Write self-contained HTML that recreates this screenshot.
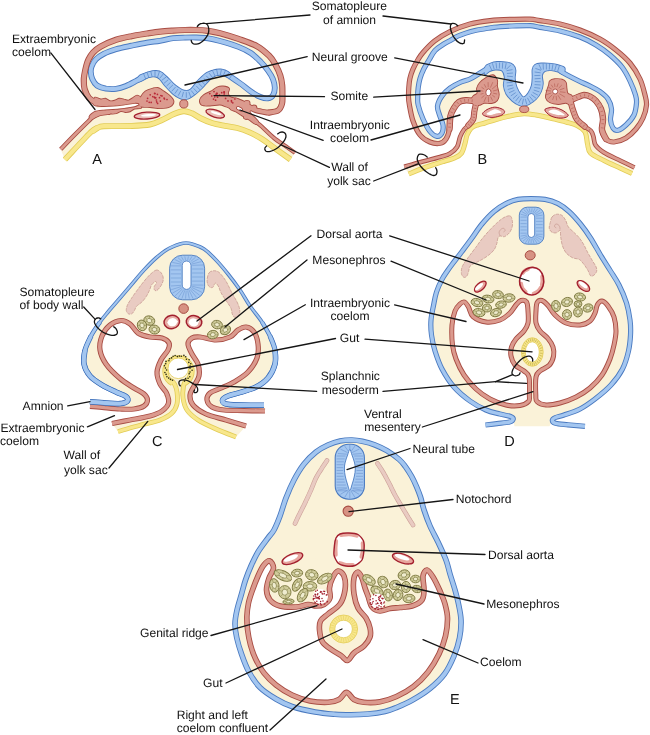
<!DOCTYPE html>
<html><head><meta charset="utf-8"><title>Figure</title>
<style>
html,body{margin:0;padding:0;background:#fff;}
svg{display:block;will-change:transform;}
text{font-family:"Liberation Sans",sans-serif;fill:#111;text-rendering:geometricPrecision;}
</style></head><body>
<svg width="650" height="735" viewBox="0 0 650 735">
<rect width="650" height="735" fill="#fff"/>
<!-- panelA -->
<path d="M97 103.2L89 98L84.6 89L83.8 80L84.3 75L86.2 66L88.5 59.5L93 52.6L100.8 46.5L116 39.8L131.5 36.2L147 33.5L160 31.7L173 30.6L185 30L196 30L208 30.8L220 33.2L238.5 38.9L257 46.2L269.2 55.8L275.4 64.5L280.3 75.5L282.2 85.4L282.4 95L282 103.8L278 110.5L268 112.7L268 112.7L255.8 110.2L249.6 107L243.5 103.5L236 100.4L232 108L243.5 115.5L255.8 122L262 126.8L262 126.8L274 138L286.5 146.8L295 152.9L290.5 159.5L274.2 147.8L262 139L249.6 132.4L237.3 128L225 125.8L212 123L200 118L192 113.3L183.8 111.2L174 114L162 120L150 124.5L130 126L104 126.2L97.5 128L92 131.8L91.6 131.4L81.5 141.9L64.9 159.6L60.7 149.3L75 134.5L88.2 121.5L96 115Z" fill="#FAF2D8" stroke="none" stroke-width="1" stroke-linejoin="round" />
<path d="M64.9 159.6C67.7 156.7 77 146.6 81.5 141.9C86 137.2 88.9 133.8 91.6 131.4C94.3 129 96.5 128.2 97.5 127.6" fill="none" stroke="#E2CC55" stroke-width="5.6" stroke-linecap="butt" stroke-linejoin="round"/>
<path d="M92 131.8C92.9 131.2 95.5 128.9 97.5 128C99.5 127.1 98.6 126.5 104 126.2C109.4 125.9 122.3 126.3 130 126C137.7 125.7 144.7 125.5 150 124.5C155.3 123.5 158 121.8 162 120C166 118.2 170.4 115.5 174 114C177.6 112.5 180.8 111.3 183.8 111.2C186.8 111.1 189.3 112.2 192 113.3C194.7 114.4 196.7 116.4 200 118C203.3 119.6 207.8 121.7 212 123C216.2 124.3 220.8 125 225 125.8C229.2 126.6 233.2 126.9 237.3 128C241.4 129.1 245.5 130.6 249.6 132.4C253.7 134.2 257.9 136.4 262 139C266.1 141.6 269.4 144.4 274.2 147.8C278.9 151.2 287.8 157.6 290.5 159.5" fill="none" stroke="#E2CC55" stroke-width="5.9" stroke-linecap="butt" stroke-linejoin="round"/>
<path d="M64.9 159.6C67.7 156.7 77 146.6 81.5 141.9C86 137.2 88.9 133.8 91.6 131.4C94.3 129 96.5 128.2 97.5 127.6" fill="none" stroke="#F8E78C" stroke-width="4" stroke-linecap="butt" stroke-linejoin="round"/>
<path d="M92 131.8C92.9 131.2 95.5 128.9 97.5 128C99.5 127.1 98.6 126.5 104 126.2C109.4 125.9 122.3 126.3 130 126C137.7 125.7 144.7 125.5 150 124.5C155.3 123.5 158 121.8 162 120C166 118.2 170.4 115.5 174 114C177.6 112.5 180.8 111.3 183.8 111.2C186.8 111.1 189.3 112.2 192 113.3C194.7 114.4 196.7 116.4 200 118C203.3 119.6 207.8 121.7 212 123C216.2 124.3 220.8 125 225 125.8C229.2 126.6 233.2 126.9 237.3 128C241.4 129.1 245.5 130.6 249.6 132.4C253.7 134.2 257.9 136.4 262 139C266.1 141.6 269.4 144.4 274.2 147.8C278.9 151.2 287.8 157.6 290.5 159.5" fill="none" stroke="#F8E78C" stroke-width="4.3" stroke-linecap="butt" stroke-linejoin="round"/>
<path d="M90.8 72C90.7 69.8 90.9 68.1 91.8 66C92.7 63.9 94 61.2 96 59.2C98 57.2 100.5 55.5 103.8 53.8C107.1 52.1 111.4 50.6 116 49.2C120.6 47.9 126.3 46.8 131.5 45.7C136.7 44.6 142.2 43.4 147 42.6C151.8 41.8 155.7 41.5 160 40.8C164.3 40.1 168.8 38.7 173 38.2C177.2 37.7 181.2 37.7 185 37.6C188.8 37.5 192.2 37.4 196 37.5C199.8 37.6 204 37.7 208 38.3C212 38.9 214.9 39.6 220 41C225.1 42.4 233.4 44.9 238.5 46.9C243.6 48.9 247.1 50.5 250.8 53C254.5 55.5 257.7 58.8 260.6 61.7C263.5 64.6 265.9 67.7 268 70.6C270.1 73.5 271.9 76.3 273 79.2C274.1 82.1 274.8 85.1 274.8 87.8C274.8 90.5 274.1 93.5 273 95.2C271.9 97 270.1 98 268 98.3C265.9 98.6 263.5 98.1 260.6 97C257.7 95.9 254.1 93.7 250.8 91.5C247.5 89.3 244.1 86.2 241 84C237.9 81.8 235 79.8 232.3 78C229.6 76.2 227.6 74.5 225 73.5C222.4 72.5 219.8 71.8 217 72C214.2 72.2 210.8 72.9 208 74.5C205.2 76.1 202.7 78.8 200 81.5C197.3 84.2 194.7 88.8 192 91C189.3 93.2 186.7 95.1 184 95C181.3 94.9 178.7 92.8 176 90.5C173.3 88.2 170.7 83.6 168 81C165.3 78.4 162.7 76.2 160 75C157.3 73.8 154.7 73.8 152 74C149.3 74.2 146.7 75.3 144 76.5C141.3 77.7 139 79.4 136 81C133 82.6 129.3 84.7 126 86C122.7 87.3 119.3 88.4 116 88.8C112.7 89.2 109.2 89.1 106 88.6C102.8 88 99.3 87.1 97 85.5C94.7 83.9 93.3 81.2 92.3 79C91.3 76.8 90.9 74.2 90.8 72Z" fill="#fff" stroke="none" stroke-width="1" stroke-linejoin="round" />
<path d="M90.8 72C90.7 69.8 90.9 68.1 91.8 66C92.7 63.9 94 61.2 96 59.2C98 57.2 100.5 55.5 103.8 53.8C107.1 52.1 111.4 50.6 116 49.2C120.6 47.9 126.3 46.8 131.5 45.7C136.7 44.6 142.2 43.4 147 42.6C151.8 41.8 155.7 41.5 160 40.8C164.3 40.1 168.8 38.7 173 38.2C177.2 37.7 181.2 37.7 185 37.6C188.8 37.5 192.2 37.4 196 37.5C199.8 37.6 204 37.7 208 38.3C212 38.9 214.9 39.6 220 41C225.1 42.4 233.4 44.9 238.5 46.9C243.6 48.9 247.1 50.5 250.8 53C254.5 55.5 257.7 58.8 260.6 61.7C263.5 64.6 265.9 67.7 268 70.6C270.1 73.5 271.9 76.3 273 79.2C274.1 82.1 274.8 85.1 274.8 87.8C274.8 90.5 274.1 93.5 273 95.2C271.9 97 270.1 98 268 98.3C265.9 98.6 263.5 98.1 260.6 97C257.7 95.9 254.1 93.7 250.8 91.5C247.5 89.3 244.1 86.2 241 84C237.9 81.8 235 79.8 232.3 78C229.6 76.2 227.6 74.5 225 73.5C222.4 72.5 219.8 71.8 217 72C214.2 72.2 210.8 72.9 208 74.5C205.2 76.1 202.7 78.8 200 81.5C197.3 84.2 194.7 88.8 192 91C189.3 93.2 186.7 95.1 184 95C181.3 94.9 178.7 92.8 176 90.5C173.3 88.2 170.7 83.6 168 81C165.3 78.4 162.7 76.2 160 75C157.3 73.8 154.7 73.8 152 74C149.3 74.2 146.7 75.3 144 76.5C141.3 77.7 139 79.4 136 81C133 82.6 129.3 84.7 126 86C122.7 87.3 119.3 88.4 116 88.8C112.7 89.2 109.2 89.1 106 88.6C102.8 88 99.3 87.1 97 85.5C94.7 83.9 93.3 81.2 92.3 79C91.3 76.8 90.9 74.2 90.8 72Z" fill="none" stroke="#4A7AC0" stroke-width="5.8" stroke-linecap="butt" stroke-linejoin="round"/>
<path d="M139.2 76.2C140.8 74.7 145.7 73.2 148.5 72.3C151.3 71.4 153.7 70.9 156 71C158.3 71.1 160.2 71.6 162.3 73C164.4 74.4 166.2 77 168.5 79.2C170.8 81.4 173.7 84.2 176 86C178.3 87.8 180.5 89.2 182.3 90C184.1 90.8 185.5 90.9 187 90.8C188.5 90.7 189.5 90.5 191.5 89.2C193.5 87.9 196.4 85.3 199 83C201.6 80.7 204.7 77.4 207 75.4C209.3 73.4 210.7 71.8 213 70.8C215.3 69.8 218.2 69.2 220.8 69.5C223.4 69.8 226.3 70.7 228.5 72.3C230.7 73.9 234 78.2 234 79C234 79.8 230.4 77.7 228.5 77C226.6 76.3 224.4 75.3 222.3 75C220.2 74.7 218.1 74.7 216 75.4C213.9 76.1 212.3 77.2 210 79.2C207.7 81.2 204.9 85.1 202.3 87.7C199.7 90.3 196.9 92.8 194.6 94.6C192.3 96.4 190.3 97.7 188.5 98.5C186.7 99.3 185.4 99.3 183.8 99.2C182.2 99.1 180.8 98.6 179 97.7C177.2 96.8 175.3 95.8 173 93.8C170.7 91.8 167.6 88.4 165.4 86C163.2 83.6 161.7 80.8 160 79.2C158.3 77.6 157.3 76.9 155.4 76.6C153.5 76.3 151.2 76.4 148.5 77.2C145.8 78 140.6 81.7 139 81.5C137.4 81.3 137.6 77.7 139.2 76.2Z" fill="#4A7AC0" stroke="#4A7AC0" stroke-width="1.8" stroke-linejoin="round"/>
<path d="M90.8 72C90.7 69.8 90.9 68.1 91.8 66C92.7 63.9 94 61.2 96 59.2C98 57.2 100.5 55.5 103.8 53.8C107.1 52.1 111.4 50.6 116 49.2C120.6 47.9 126.3 46.8 131.5 45.7C136.7 44.6 142.2 43.4 147 42.6C151.8 41.8 155.7 41.5 160 40.8C164.3 40.1 168.8 38.7 173 38.2C177.2 37.7 181.2 37.7 185 37.6C188.8 37.5 192.2 37.4 196 37.5C199.8 37.6 204 37.7 208 38.3C212 38.9 214.9 39.6 220 41C225.1 42.4 233.4 44.9 238.5 46.9C243.6 48.9 247.1 50.5 250.8 53C254.5 55.5 257.7 58.8 260.6 61.7C263.5 64.6 265.9 67.7 268 70.6C270.1 73.5 271.9 76.3 273 79.2C274.1 82.1 274.8 85.1 274.8 87.8C274.8 90.5 274.1 93.5 273 95.2C271.9 97 270.1 98 268 98.3C265.9 98.6 263.5 98.1 260.6 97C257.7 95.9 254.1 93.7 250.8 91.5C247.5 89.3 244.1 86.2 241 84C237.9 81.8 235 79.8 232.3 78C229.6 76.2 227.6 74.5 225 73.5C222.4 72.5 219.8 71.8 217 72C214.2 72.2 210.8 72.9 208 74.5C205.2 76.1 202.7 78.8 200 81.5C197.3 84.2 194.7 88.8 192 91C189.3 93.2 186.7 95.1 184 95C181.3 94.9 178.7 92.8 176 90.5C173.3 88.2 170.7 83.6 168 81C165.3 78.4 162.7 76.2 160 75C157.3 73.8 154.7 73.8 152 74C149.3 74.2 146.7 75.3 144 76.5C141.3 77.7 139 79.4 136 81C133 82.6 129.3 84.7 126 86C122.7 87.3 119.3 88.4 116 88.8C112.7 89.2 109.2 89.1 106 88.6C102.8 88 99.3 87.1 97 85.5C94.7 83.9 93.3 81.2 92.3 79C91.3 76.8 90.9 74.2 90.8 72Z" fill="none" stroke="#A3C6F0" stroke-width="4" stroke-linecap="butt" stroke-linejoin="round"/>
<path d="M139.2 76.2C140.8 74.7 145.7 73.2 148.5 72.3C151.3 71.4 153.7 70.9 156 71C158.3 71.1 160.2 71.6 162.3 73C164.4 74.4 166.2 77 168.5 79.2C170.8 81.4 173.7 84.2 176 86C178.3 87.8 180.5 89.2 182.3 90C184.1 90.8 185.5 90.9 187 90.8C188.5 90.7 189.5 90.5 191.5 89.2C193.5 87.9 196.4 85.3 199 83C201.6 80.7 204.7 77.4 207 75.4C209.3 73.4 210.7 71.8 213 70.8C215.3 69.8 218.2 69.2 220.8 69.5C223.4 69.8 226.3 70.7 228.5 72.3C230.7 73.9 234 78.2 234 79C234 79.8 230.4 77.7 228.5 77C226.6 76.3 224.4 75.3 222.3 75C220.2 74.7 218.1 74.7 216 75.4C213.9 76.1 212.3 77.2 210 79.2C207.7 81.2 204.9 85.1 202.3 87.7C199.7 90.3 196.9 92.8 194.6 94.6C192.3 96.4 190.3 97.7 188.5 98.5C186.7 99.3 185.4 99.3 183.8 99.2C182.2 99.1 180.8 98.6 179 97.7C177.2 96.8 175.3 95.8 173 93.8C170.7 91.8 167.6 88.4 165.4 86C163.2 83.6 161.7 80.8 160 79.2C158.3 77.6 157.3 76.9 155.4 76.6C153.5 76.3 151.2 76.4 148.5 77.2C145.8 78 140.6 81.7 139 81.5C137.4 81.3 137.6 77.7 139.2 76.2Z" fill="#A3C6F0" stroke="none"/>
<path d="M143.6 73.8L145.7 79M147.1 72.5L148.9 77.8M150.8 71.4L152.1 76.9M155 70.9L155 76.5M159.4 71.7L157.6 77M163.4 73.9L159.8 78.2M166.2 77L161.7 80.4M168.3 79.7L164 83.3M170.6 82.3L166.5 86.1M173 84.8L169 88.7M175.5 87.1L171.7 91.3M178 89.1L174.8 93.7M180.8 90.8L178.2 95.7M183.5 91.9L182 97.3M186.3 92.2L186.3 97.8M188.8 91.9L190.8 97.2M191.2 90.5L194.6 94.9M193.6 88.3L197.4 92.4M196.2 85.9L200.1 89.9M198.6 83.4L202.6 87.3M201.2 80.9L205.1 84.8M203.7 78.4L207.7 82.3M206.2 75.8L210.1 79.8M209.2 73.2L212.6 77.7M212.7 71.1L215.1 76.1M216.7 69.7L217.8 75.2M221.4 69.8L220.2 75.3M225.2 71.1L223.1 76.3M228.8 72.7L226.1 77.7M232 74.7L229 79.4" stroke="#4A7AC0" stroke-width="0.6" fill="none"/>
<path d="M92 108.6L104 107.2L119 106.4L134.6 104L138 103.6L138 105L134.6 106.4L119 108.6L104 109.6L93 111Z" fill="#fff" stroke="none" stroke-width="1" stroke-linejoin="round" />
<path d="M97 103.2C95.7 102.3 91.1 100.4 89 98C86.9 95.6 85.5 92 84.6 89C83.7 86 83.8 82.3 83.8 80C83.8 77.7 83.9 77.3 84.3 75C84.7 72.7 85.5 68.6 86.2 66C86.9 63.4 87.4 61.7 88.5 59.5C89.6 57.3 91 54.8 93 52.6C95 50.4 97 48.6 100.8 46.5C104.6 44.4 110.9 41.5 116 39.8C121.1 38.1 126.3 37.2 131.5 36.2C136.7 35.2 142.2 34.2 147 33.5C151.8 32.8 155.7 32.2 160 31.7C164.3 31.2 168.8 30.9 173 30.6C177.2 30.3 181.2 30.1 185 30C188.8 29.9 192.2 29.9 196 30C199.8 30.1 204 30.3 208 30.8C212 31.3 214.9 31.9 220 33.2C225.1 34.6 232.3 36.7 238.5 38.9C244.7 41.1 251.9 43.4 257 46.2C262.1 49 266.1 52.8 269.2 55.8C272.3 58.8 273.5 61.2 275.4 64.5C277.2 67.8 279.2 72 280.3 75.5C281.4 79 281.9 82.2 282.2 85.4C282.5 88.7 282.4 91.9 282.4 95C282.4 98.1 282.7 101.2 282 103.8C281.3 106.4 280.3 109 278 110.5C275.7 112 269.7 112.3 268 112.7" fill="none" stroke="#A84C43" stroke-width="6.2" stroke-linecap="butt" stroke-linejoin="round"/>
<path d="M95 97.6C96 97 99.4 99.3 100.8 99.4C102.2 99.5 104.2 98.5 105.4 98.7C106.6 98.9 108.8 100.9 110 101.2C111.2 101.5 113.4 101 114.6 100.7C115.8 100.4 118 98.9 119.2 98.7C120.4 98.5 122.6 99.2 123.8 99.5C125 99.8 127.3 100.8 128.5 100.6C129.7 100.4 131.9 98.7 133 98C134.1 97.3 135.9 95.6 137 95.6C138.1 95.6 140.7 97 141 98C141.3 99 139.9 102.3 139 103C138.1 103.7 137.2 102.6 134.6 102.9C132 103.2 123.3 104.8 119.2 105.2C115.1 105.6 106.9 105.9 103.8 106C100.7 106.1 97.4 105.9 96 105.6C94.6 105.3 93.6 105.1 93.5 104C93.4 102.9 94 98.2 95 97.6Z" fill="#A84C43" stroke="#A84C43" stroke-width="1.8" stroke-linejoin="round"/>
<path d="M94.5 112C96.4 111.2 100.5 110.9 103.8 110.6C107.1 110.3 115.1 110 119.2 109.5C123.3 109 131.9 107.8 134.6 107.2C137.3 106.6 138.6 105.1 139.5 105.2C140.4 105.3 141.7 107.5 141 108C140.3 108.5 136.1 108.2 134.6 108.6C133.1 109 131.2 110.8 130 111.3C128.8 111.8 126.6 112 125.4 112C124.2 112 122 110.8 120.8 111C119.6 111.2 117.4 112.9 116.2 113.2C115 113.5 112.7 113.7 111.5 113.6C110.3 113.5 108.2 112.6 107 112.5C105.8 112.4 103.3 112.8 102.3 113.2C101.3 113.6 100 114.7 99.2 115.2C98.4 115.7 97 116.5 96 117C95 117.5 92.4 119.1 91.5 119C90.6 118.9 89.1 117.4 89.5 116.5C89.9 115.6 92.6 112.8 94.5 112Z" fill="#A84C43" stroke="#A84C43" stroke-width="1.8" stroke-linejoin="round"/>
<path d="M60.7 149.3C63.1 146.8 70.4 139.1 75 134.5C79.6 129.9 84.7 124.8 88.2 121.5C91.7 118.2 92.4 116.5 96 115C99.6 113.5 107.7 112.9 110 112.5" fill="none" stroke="#A84C43" stroke-width="4.4" stroke-linecap="butt" stroke-linejoin="round"/>
<path d="M268 112.7C266 112.3 258.9 111.2 255.8 110.2C252.7 109.2 251.7 108.1 249.6 107C247.5 105.9 245.8 104.6 243.5 103.5C241.2 102.4 237.2 100.9 236 100.4" fill="none" stroke="#A84C43" stroke-width="5.8" stroke-linecap="round" stroke-linejoin="round"/>
<path d="M231 99C232.3 98 237.9 100.3 240 101C242.1 101.7 245.4 103.5 247 104.5C248.6 105.5 251.7 107.5 252 108.5C252.3 109.5 249.2 110.9 249.5 112C249.8 113.1 252.9 115.7 254 117C255.1 118.3 257.8 120.6 258 121.5C258.2 122.4 256.7 124.3 255.5 124C254.3 123.7 250.7 120.6 249 119.5C247.3 118.4 244.7 117.1 243 116C241.3 114.9 237.7 112.5 236 111.5C234.3 110.5 230.7 110.2 230 108.5C229.3 106.8 229.7 100 231 99Z" fill="#A84C43" stroke="#A84C43" stroke-width="1.8" stroke-linejoin="round"/>
<path d="M255.8 122C256.8 122.8 259 124.1 262 126.8C265 129.5 269.9 134.7 274 138C278.1 141.3 283 144.3 286.5 146.8C290 149.3 293.6 151.9 295 152.9" fill="none" stroke="#A84C43" stroke-width="4.2" stroke-linecap="butt" stroke-linejoin="round"/>
<path d="M244.4 103.2a2.6 2.4 0 1 0 5.2 0a2.6 2.4 0 1 0 -5.2 0Z" fill="#A84C43" stroke="#A84C43" stroke-width="1.8" stroke-linejoin="round"/>
<path d="M251.6 107.6a2.4 2.2 0 1 0 4.8 0a2.4 2.2 0 1 0 -4.8 0Z" fill="#A84C43" stroke="#A84C43" stroke-width="1.8" stroke-linejoin="round"/>
<path d="M243.8 117a2.2 2 0 1 0 4.4 0a2.2 2 0 1 0 -4.4 0Z" fill="#A84C43" stroke="#A84C43" stroke-width="1.8" stroke-linejoin="round"/>
<path d="M153 88.5C150.9 89.1 147.4 90.1 145.4 91.5C143.4 92.9 142.1 95.2 141 97C139.9 98.8 139 100.4 139 102C139 103.6 139.2 105.7 141 106.5C142.8 107.3 146.7 106.7 150 107C153.3 107.3 157.5 108.3 160.8 108.2C164.1 108.1 167.9 107.6 170 106.5C172.1 105.4 173.5 103.2 173.5 101.5C173.5 99.8 171.8 98 170 96.2C168.2 94.5 165.1 92.4 163 91C160.9 89.6 159.4 88.4 157.7 88C156 87.6 155.1 87.9 153 88.5Z" fill="#A84C43" stroke="#A84C43" stroke-width="1.8" stroke-linejoin="round"/>
<path d="M200 100C200.3 98.3 202 96.5 204 95C206 93.5 209.8 92.2 212 91C214.2 89.8 215.2 88.2 217 87.5C218.8 86.8 221 86.3 223 86.5C225 86.7 228.2 87.4 229 88.5C229.8 89.6 227.8 91.6 228 93C228.2 94.4 228.3 95.9 230 97C231.7 98.1 236.3 98.2 238 99.5C239.7 100.8 240.7 103.4 240 105C239.3 106.6 236.3 108.8 234 109C231.7 109.2 228.3 107.2 226 106.5C223.7 105.8 222.7 104.7 220 104.5C217.3 104.3 213 105.4 210 105.5C207 105.6 203.7 105.9 202 105C200.3 104.1 199.7 101.7 200 100Z" fill="#A84C43" stroke="#A84C43" stroke-width="1.8" stroke-linejoin="round"/>
<path d="M97 103.2C95.7 102.3 91.1 100.4 89 98C86.9 95.6 85.5 92 84.6 89C83.7 86 83.8 82.3 83.8 80C83.8 77.7 83.9 77.3 84.3 75C84.7 72.7 85.5 68.6 86.2 66C86.9 63.4 87.4 61.7 88.5 59.5C89.6 57.3 91 54.8 93 52.6C95 50.4 97 48.6 100.8 46.5C104.6 44.4 110.9 41.5 116 39.8C121.1 38.1 126.3 37.2 131.5 36.2C136.7 35.2 142.2 34.2 147 33.5C151.8 32.8 155.7 32.2 160 31.7C164.3 31.2 168.8 30.9 173 30.6C177.2 30.3 181.2 30.1 185 30C188.8 29.9 192.2 29.9 196 30C199.8 30.1 204 30.3 208 30.8C212 31.3 214.9 31.9 220 33.2C225.1 34.6 232.3 36.7 238.5 38.9C244.7 41.1 251.9 43.4 257 46.2C262.1 49 266.1 52.8 269.2 55.8C272.3 58.8 273.5 61.2 275.4 64.5C277.2 67.8 279.2 72 280.3 75.5C281.4 79 281.9 82.2 282.2 85.4C282.5 88.7 282.4 91.9 282.4 95C282.4 98.1 282.7 101.2 282 103.8C281.3 106.4 280.3 109 278 110.5C275.7 112 269.7 112.3 268 112.7" fill="none" stroke="#DB9A8E" stroke-width="4.4" stroke-linecap="butt" stroke-linejoin="round"/>
<path d="M95 97.6C96 97 99.4 99.3 100.8 99.4C102.2 99.5 104.2 98.5 105.4 98.7C106.6 98.9 108.8 100.9 110 101.2C111.2 101.5 113.4 101 114.6 100.7C115.8 100.4 118 98.9 119.2 98.7C120.4 98.5 122.6 99.2 123.8 99.5C125 99.8 127.3 100.8 128.5 100.6C129.7 100.4 131.9 98.7 133 98C134.1 97.3 135.9 95.6 137 95.6C138.1 95.6 140.7 97 141 98C141.3 99 139.9 102.3 139 103C138.1 103.7 137.2 102.6 134.6 102.9C132 103.2 123.3 104.8 119.2 105.2C115.1 105.6 106.9 105.9 103.8 106C100.7 106.1 97.4 105.9 96 105.6C94.6 105.3 93.6 105.1 93.5 104C93.4 102.9 94 98.2 95 97.6Z" fill="#DB9A8E" stroke="none"/>
<path d="M94.5 112C96.4 111.2 100.5 110.9 103.8 110.6C107.1 110.3 115.1 110 119.2 109.5C123.3 109 131.9 107.8 134.6 107.2C137.3 106.6 138.6 105.1 139.5 105.2C140.4 105.3 141.7 107.5 141 108C140.3 108.5 136.1 108.2 134.6 108.6C133.1 109 131.2 110.8 130 111.3C128.8 111.8 126.6 112 125.4 112C124.2 112 122 110.8 120.8 111C119.6 111.2 117.4 112.9 116.2 113.2C115 113.5 112.7 113.7 111.5 113.6C110.3 113.5 108.2 112.6 107 112.5C105.8 112.4 103.3 112.8 102.3 113.2C101.3 113.6 100 114.7 99.2 115.2C98.4 115.7 97 116.5 96 117C95 117.5 92.4 119.1 91.5 119C90.6 118.9 89.1 117.4 89.5 116.5C89.9 115.6 92.6 112.8 94.5 112Z" fill="#DB9A8E" stroke="none"/>
<path d="M60.7 149.3C63.1 146.8 70.4 139.1 75 134.5C79.6 129.9 84.7 124.8 88.2 121.5C91.7 118.2 92.4 116.5 96 115C99.6 113.5 107.7 112.9 110 112.5" fill="none" stroke="#DB9A8E" stroke-width="2.6" stroke-linecap="butt" stroke-linejoin="round"/>
<path d="M268 112.7C266 112.3 258.9 111.2 255.8 110.2C252.7 109.2 251.7 108.1 249.6 107C247.5 105.9 245.8 104.6 243.5 103.5C241.2 102.4 237.2 100.9 236 100.4" fill="none" stroke="#DB9A8E" stroke-width="4" stroke-linecap="round" stroke-linejoin="round"/>
<path d="M231 99C232.3 98 237.9 100.3 240 101C242.1 101.7 245.4 103.5 247 104.5C248.6 105.5 251.7 107.5 252 108.5C252.3 109.5 249.2 110.9 249.5 112C249.8 113.1 252.9 115.7 254 117C255.1 118.3 257.8 120.6 258 121.5C258.2 122.4 256.7 124.3 255.5 124C254.3 123.7 250.7 120.6 249 119.5C247.3 118.4 244.7 117.1 243 116C241.3 114.9 237.7 112.5 236 111.5C234.3 110.5 230.7 110.2 230 108.5C229.3 106.8 229.7 100 231 99Z" fill="#DB9A8E" stroke="none"/>
<path d="M255.8 122C256.8 122.8 259 124.1 262 126.8C265 129.5 269.9 134.7 274 138C278.1 141.3 283 144.3 286.5 146.8C290 149.3 293.6 151.9 295 152.9" fill="none" stroke="#DB9A8E" stroke-width="2.4" stroke-linecap="butt" stroke-linejoin="round"/>
<path d="M244.4 103.2a2.6 2.4 0 1 0 5.2 0a2.6 2.4 0 1 0 -5.2 0Z" fill="#DB9A8E" stroke="none"/>
<path d="M251.6 107.6a2.4 2.2 0 1 0 4.8 0a2.4 2.2 0 1 0 -4.8 0Z" fill="#DB9A8E" stroke="none"/>
<path d="M243.8 117a2.2 2 0 1 0 4.4 0a2.2 2 0 1 0 -4.4 0Z" fill="#DB9A8E" stroke="none"/>
<path d="M153 88.5C150.9 89.1 147.4 90.1 145.4 91.5C143.4 92.9 142.1 95.2 141 97C139.9 98.8 139 100.4 139 102C139 103.6 139.2 105.7 141 106.5C142.8 107.3 146.7 106.7 150 107C153.3 107.3 157.5 108.3 160.8 108.2C164.1 108.1 167.9 107.6 170 106.5C172.1 105.4 173.5 103.2 173.5 101.5C173.5 99.8 171.8 98 170 96.2C168.2 94.5 165.1 92.4 163 91C160.9 89.6 159.4 88.4 157.7 88C156 87.6 155.1 87.9 153 88.5Z" fill="#DB9A8E" stroke="none"/>
<path d="M200 100C200.3 98.3 202 96.5 204 95C206 93.5 209.8 92.2 212 91C214.2 89.8 215.2 88.2 217 87.5C218.8 86.8 221 86.3 223 86.5C225 86.7 228.2 87.4 229 88.5C229.8 89.6 227.8 91.6 228 93C228.2 94.4 228.3 95.9 230 97C231.7 98.1 236.3 98.2 238 99.5C239.7 100.8 240.7 103.4 240 105C239.3 106.6 236.3 108.8 234 109C231.7 109.2 228.3 107.2 226 106.5C223.7 105.8 222.7 104.7 220 104.5C217.3 104.3 213 105.4 210 105.5C207 105.6 203.7 105.9 202 105C200.3 104.1 199.7 101.7 200 100Z" fill="#DB9A8E" stroke="none"/>
<path d="M238 108C238.5 108.3 240.5 109.3 241 109.6" fill="none" stroke="#A84C43" stroke-width="4" stroke-linecap="round"/>
<path d="M238 108C238.5 108.3 240.5 109.3 241 109.6" fill="none" stroke="#fff" stroke-width="2.2" stroke-linecap="round"/>
<g fill="#B82A38"><circle cx="157.6" cy="103.4" r="0.85"/><circle cx="151.2" cy="102.4" r="0.85"/><circle cx="155" cy="97.9" r="0.85"/><circle cx="167" cy="99.5" r="0.85"/><circle cx="156.7" cy="101.9" r="0.85"/><circle cx="164.5" cy="98.9" r="0.85"/><circle cx="160.9" cy="95.5" r="0.85"/><circle cx="154.3" cy="97.2" r="0.85"/><circle cx="150.2" cy="94.8" r="0.85"/><circle cx="147.6" cy="98.3" r="0.85"/><circle cx="155.7" cy="97.7" r="0.85"/><circle cx="157.4" cy="94.4" r="0.85"/><circle cx="156.4" cy="100" r="0.85"/><circle cx="162" cy="95.9" r="0.85"/><circle cx="155" cy="93.5" r="0.85"/><circle cx="154.6" cy="93.4" r="0.85"/><circle cx="149.2" cy="102.3" r="0.85"/><circle cx="147" cy="101" r="0.85"/><circle cx="159.5" cy="97.7" r="0.85"/><circle cx="160.4" cy="101.1" r="0.85"/><circle cx="164.1" cy="98.1" r="0.85"/><circle cx="152.8" cy="96.6" r="0.85"/><circle cx="211.8" cy="95.9" r="0.85"/><circle cx="213.5" cy="99.1" r="0.85"/><circle cx="209.8" cy="93.6" r="0.85"/><circle cx="214" cy="91.6" r="0.85"/><circle cx="224.2" cy="92.1" r="0.85"/><circle cx="216.1" cy="94.2" r="0.85"/><circle cx="224.3" cy="92.2" r="0.85"/><circle cx="224.2" cy="93.9" r="0.85"/><circle cx="217" cy="93.8" r="0.85"/><circle cx="221.7" cy="92.7" r="0.85"/><circle cx="217.5" cy="97.2" r="0.85"/><circle cx="224" cy="92" r="0.85"/><circle cx="225.6" cy="98.4" r="0.85"/><circle cx="214.7" cy="97" r="0.85"/><circle cx="215.6" cy="100.2" r="0.85"/><circle cx="219.5" cy="95.2" r="0.85"/><circle cx="216.4" cy="95.3" r="0.85"/><circle cx="216.9" cy="93.2" r="0.85"/><circle cx="234.9" cy="99" r="0.85"/><circle cx="228" cy="100.9" r="0.85"/><circle cx="231.6" cy="101.8" r="0.85"/><circle cx="231.4" cy="100.7" r="0.85"/><circle cx="232.8" cy="102.8" r="0.85"/></g>
<circle cx="183.8" cy="103.9" r="4.1" fill="#DB9A8E" stroke="#A84C43" stroke-width="0.9"/>
<ellipse cx="147" cy="115.6" rx="12.8" ry="3.4" fill="#EBBDB6" stroke="#A3202E" stroke-width="1.3" transform="rotate(-4 147 115.6)"/>
<ellipse cx="148.5" cy="115.2" rx="7.5" ry="1.2" fill="#fff" stroke="none" stroke-width="0" transform="rotate(-4 148.5 115.2)"/>
<ellipse cx="215.2" cy="113.6" rx="9.6" ry="3.6" fill="#EBBDB6" stroke="#A3202E" stroke-width="1.3" transform="rotate(17 215.2 113.6)"/>
<ellipse cx="216" cy="113.2" rx="5.5" ry="1.2" fill="#fff" stroke="none" stroke-width="0" transform="rotate(17 216 113.2)"/>
<!-- panelB -->
<path d="M474 101L466 100.3L459 102L454 108L450.5 116L449.5 129L446 139L440 143.3L430 142L420 135L413 121L409.4 105L408.5 97L408.8 87.7L409.9 78.5L412.9 69.2L417.8 60L423 52.5L434.5 41L450 31.5L470 24L490 20.6L510 19.4L530 19.2L540 20.6L560 24L580 30L600 39L616 50L630 63L640 79L645 95L646.5 105L643 118L636 129L626 138L614 142L606 139L602 130L603 119L601 109L596 101L590 96.5L584 95L578 97L571 100L571 103L524 112L476 104Z" fill="#FAF2D8" stroke="none" stroke-width="1" stroke-linejoin="round" />
<path d="M404.2 166.8L420 162.3L440 157L450 153.5L457 147L460 137L463.7 130L468.3 125.4L473.2 119.2L474.4 111L476 104L524 108L571 103L572.8 109.4L576.8 119.2L584.8 126.6L591 131L593.5 137L595.5 145L604 152.5L620 160.5L634.5 167.5L632 173.5L620 168L604 160.5L590.5 153L587.5 144L585 132L577 125.5L566 122L552 118.5L536 115L524 113.7L512 115.5L496 119.5L485 123L478 124.8L471.2 128.2L467 135.2L465 143.5L461.5 153.2L454.5 158L443.5 161.5L422.7 168.4L408.8 174Z" fill="#FAF2D8" stroke="none" stroke-width="1" stroke-linejoin="round" />
<path d="M476 104C475.3 102 472.3 101.3 470 101C467.7 100.7 464.3 100.8 462 102C459.7 103.2 457.3 105.5 456 108C454.7 110.5 454.2 113.3 454 117C453.8 120.7 455.3 126.2 455 130C454.7 133.8 453.8 137.2 452 140C450.2 142.8 447.7 145.8 444 147C440.3 148.2 433.7 145.3 430 147.5C426.3 149.7 420.3 158.4 422 160C423.7 161.6 435.3 158.2 440 157C444.7 155.8 447.3 154.8 450 153C452.7 151.2 454.5 149.2 456 146.5C457.5 143.8 457.8 140.1 459 137C460.2 133.9 461.3 130.7 463 128C464.7 125.3 467.2 123.5 469 121C470.8 118.5 472.8 115.8 474 113C475.2 110.2 476.7 106 476 104Z" fill="#fff" stroke="none" stroke-width="1" stroke-linejoin="round" />
<path d="M571 103C570.8 101.1 573.8 100.5 576 99.5C578.2 98.5 581.3 97.1 584 97C586.7 96.9 589.8 97.5 592 99C594.2 100.5 596 103 597 106C598 109 597.9 113 598 117C598.1 121 597 126.2 597.5 130C598 133.8 599.2 137.3 601 140C602.8 142.7 604.8 145 608 146C611.2 147 616.3 144 620 146C623.7 148 630 156 630 158C630 160 624 159.1 620 158C616 156.9 609.7 153.7 606 151.5C602.3 149.3 599.6 147.8 598 145C596.4 142.2 597.2 138.3 596.5 135C595.8 131.7 595.4 128 593.5 125C591.6 122 587.8 119.3 585 117C582.2 114.7 579.3 113.3 577 111C574.7 108.7 571.2 104.9 571 103Z" fill="#fff" stroke="none" stroke-width="1" stroke-linejoin="round" />
<path d="M408.8 174C411.1 173.1 416.9 170.5 422.7 168.4C428.5 166.3 438.2 163.2 443.5 161.5C448.8 159.8 451.5 159.4 454.5 158C457.5 156.6 459.8 155.6 461.5 153.2C463.2 150.8 464.1 146.5 465 143.5C465.9 140.5 466 137.8 467 135.2C468 132.6 469.4 129.9 471.2 128.2C473 126.5 475.7 125.7 478 124.8C480.3 123.9 482 123.9 485 123C488 122.1 491.5 120.8 496 119.5C500.5 118.2 507.3 116.5 512 115.5C516.7 114.5 520 113.8 524 113.7C528 113.6 531.3 114.2 536 115C540.7 115.8 547 117.3 552 118.5C557 119.7 561.8 120.8 566 122C570.2 123.2 573.8 123.8 577 125.5C580.2 127.2 583.2 128.9 585 132C586.8 135.1 586.6 140.5 587.5 144C588.4 147.5 587.8 150.2 590.5 153C593.2 155.8 599.1 158 604 160.5C608.9 163 615.3 165.8 620 168C624.7 170.2 630 172.6 632 173.5" fill="none" stroke="#E2CC55" stroke-width="5" stroke-linecap="butt" stroke-linejoin="round"/>
<path d="M408.8 174C411.1 173.1 416.9 170.5 422.7 168.4C428.5 166.3 438.2 163.2 443.5 161.5C448.8 159.8 451.5 159.4 454.5 158C457.5 156.6 459.8 155.6 461.5 153.2C463.2 150.8 464.1 146.5 465 143.5C465.9 140.5 466 137.8 467 135.2C468 132.6 469.4 129.9 471.2 128.2C473 126.5 475.7 125.7 478 124.8C480.3 123.9 482 123.9 485 123C488 122.1 491.5 120.8 496 119.5C500.5 118.2 507.3 116.5 512 115.5C516.7 114.5 520 113.8 524 113.7C528 113.6 531.3 114.2 536 115C540.7 115.8 547 117.3 552 118.5C557 119.7 561.8 120.8 566 122C570.2 123.2 573.8 123.8 577 125.5C580.2 127.2 583.2 128.9 585 132C586.8 135.1 586.6 140.5 587.5 144C588.4 147.5 587.8 150.2 590.5 153C593.2 155.8 599.1 158 604 160.5C608.9 163 615.3 165.8 620 168C624.7 170.2 630 172.6 632 173.5" fill="none" stroke="#F8E78C" stroke-width="3.4" stroke-linecap="butt" stroke-linejoin="round"/>
<path d="M488.6 66C491.4 64.5 493.9 64.2 497 64C500.1 63.8 504.5 63.8 507 64.5C509.5 65.2 510.9 65.8 512 68C513.1 70.2 512.8 74.7 513.5 78C514.2 81.3 514.8 85 516 88C517.2 91 519.2 94.2 520.5 96C521.8 97.8 522.8 98.7 524 98.5C525.2 98.3 526.7 97.1 528 95C529.3 92.9 531 89 532 86C533 83 533.7 79.8 534 77C534.3 74.2 533.5 70.8 534 69C534.5 67.2 535.8 66.6 537 66C538.2 65.4 538.7 65.5 541 65.5C543.3 65.5 547.8 65.2 551 66C554.2 66.8 558.5 69.2 560 70C561.5 70.8 558.3 69.9 560 71C561.7 72.1 566.7 74.8 570 76.5C573.3 78.2 576.7 79.9 580 81.5C583.3 83.1 586.7 84.3 590 86C593.3 87.7 597 89.3 600 91.5C603 93.7 606.1 96.1 608 99C609.9 101.9 611.1 105.5 611.5 109C611.9 112.5 610.2 116.8 610.5 120C610.8 123.2 611.8 126.3 613 128C614.2 129.7 615.8 130.8 618 130.3C620.2 129.8 623.3 127.5 626 125C628.7 122.5 632.2 118.7 634 115C635.8 111.3 636.2 106.3 636.5 103C636.8 99.7 636.6 98.7 635.5 95C634.4 91.3 632.2 85.7 630 81C627.8 76.3 625.3 71.3 622 67C618.7 62.7 614.3 58.7 610 55C605.7 51.3 601 48 596 45C591 42 586 39.3 580 37C574 34.7 566.7 32.6 560 31C553.3 29.4 545 28.3 540 27.4C535 26.5 534.7 25.8 530 25.6C525.3 25.4 518 25.7 512 26C506 26.3 498.5 26.8 494 27.3C489.5 27.8 488 28.3 485 28.8C482 29.3 479.2 29.6 476 30.3C472.8 31 468.8 32.1 465.8 33.1C462.8 34.1 460.6 34.8 458 36C455.4 37.2 452.9 39 450.4 40.4C447.9 41.8 445.6 42.8 443 44.5C440.4 46.2 437.3 47.9 435 50.5C432.7 53.1 430.9 56.9 429 60C427.1 63.1 425.2 66.1 423.7 69.2C422.2 72.3 420.9 75.4 420 78.5C419.1 81.6 418.6 84.6 418.2 87.7C417.8 90.8 417.7 94.1 417.7 97C417.7 99.9 417.3 101.3 418.2 105C419.1 108.7 421 114.6 423 119C425 123.4 427.7 128.6 430 131.5C432.3 134.4 435 136.1 437 136.3C439 136.6 441 134.9 442 133C443 131.1 443.4 128 443 125C442.6 122 440.4 118.2 439.5 115C438.6 111.8 437.1 109.2 437.5 106C437.9 102.8 439.9 99 442 96C444.1 93 447 90.2 450 88C453 85.8 456.7 84 460 82.5C463.3 81 466.7 80.6 470 79C473.3 77.4 476.9 75.2 480 73C483.1 70.8 485.8 67.5 488.6 66Z" fill="#fff" stroke="none" stroke-width="1" stroke-linejoin="round" />
<path d="M488.6 67.5C487.2 68.4 483.1 71.1 480 73C476.9 74.9 473.3 77.4 470 79C466.7 80.6 463.3 81 460 82.5C456.7 84 453 85.8 450 88C447 90.2 444.1 93 442 96C439.9 99 437.9 102.8 437.5 106C437.1 109.2 438.6 111.8 439.5 115C440.4 118.2 442.6 122 443 125C443.4 128 443 131.1 442 133C441 134.9 439 136.6 437 136.3C435 136.1 432.3 134.4 430 131.5C427.7 128.6 425 123.4 423 119C421 114.6 419.1 108.7 418.2 105C417.3 101.3 417.7 99.9 417.7 97C417.7 94.1 417.8 90.8 418.2 87.7C418.6 84.6 419.1 81.6 420 78.5C420.9 75.4 422.2 72.3 423.7 69.2C425.2 66.1 427.1 63.1 429 60C430.9 56.9 432.7 53.1 435 50.5C437.3 47.9 440.4 46.2 443 44.5C445.6 42.8 447.9 41.8 450.4 40.4C452.9 39 455.4 37.2 458 36C460.6 34.8 462.8 34.1 465.8 33.1C468.8 32.1 472.8 31 476 30.3C479.2 29.6 482 29.3 485 28.8C488 28.3 489.5 27.8 494 27.3C498.5 26.8 506 26.3 512 26C518 25.7 525.3 25.4 530 25.6C534.7 25.8 535 26.5 540 27.4C545 28.3 553.3 29.4 560 31C566.7 32.6 574 34.7 580 37C586 39.3 591 42 596 45C601 48 605.7 51.3 610 55C614.3 58.7 618.7 62.7 622 67C625.3 71.3 627.8 76.3 630 81C632.2 85.7 634.4 91.3 635.5 95C636.6 98.7 636.8 99.7 636.5 103C636.2 106.3 635.8 111.3 634 115C632.2 118.7 628.7 122.5 626 125C623.3 127.5 620.2 129.8 618 130.3C615.8 130.8 614.2 129.7 613 128C611.8 126.3 610.8 123.2 610.5 120C610.2 116.8 611.9 112.5 611.5 109C611.1 105.5 609.9 101.9 608 99C606.1 96.1 603 93.7 600 91.5C597 89.3 593.3 87.7 590 86C586.7 84.3 583.3 83.1 580 81.5C576.7 79.9 573.3 78.2 570 76.5C566.7 74.8 561.7 71.9 560 71" fill="none" stroke="#4A7AC0" stroke-width="5.2" stroke-linecap="butt" stroke-linejoin="round"/>
<path d="M485 74.2C485.7 75 487.8 72 489.5 71.2C491.2 70.4 493.3 69.7 495.4 69.6C497.5 69.5 500.4 69.4 502 70.6C503.6 71.8 504.4 74.5 504.7 77C505 79.5 503.5 82.7 503.8 85.5C504.1 88.3 505 91.5 506.4 94C507.8 96.5 510.2 98.9 512.3 100.7C514.4 102.5 517 104.2 519 105C521 105.8 522.3 106 524 105.8C525.7 105.6 527.2 105.1 529.2 104C531.2 102.9 534 101.1 536 99C538 96.9 539.9 93.9 541 91.4C542.1 88.9 542.6 86.5 542.8 83.8C543 81.1 541.6 77.4 542 75.3C542.4 73.2 543.5 71.8 545 71C546.5 70.2 549 70.1 551.2 70.2C553.4 70.3 556 71 558 71.6C560 72.2 561.9 74.6 563 74C564.1 73.4 565.3 69.5 564.5 68C563.7 66.5 560.2 65.9 558 65.2C555.8 64.5 554 64.1 551.2 63.8C548.4 63.5 543.7 63.3 541 63.5C538.3 63.7 536.4 64 535 65C533.6 66 533 67.4 532.6 69.4C532.2 71.4 532.7 74.3 532.6 77C532.5 79.7 532.5 82.8 531.8 85.5C531.1 88.2 529.7 91 528.4 93C527.1 95 525.3 97 524 97.3C522.7 97.6 522 96.5 520.8 94.8C519.5 93.1 517.5 89.7 516.5 87C515.5 84.3 515 81.5 514.8 78.7C514.6 75.9 515.7 72.5 515.4 70.2C515.1 67.9 514.4 66.3 513 65C511.6 63.7 509.9 63.1 507.2 62.6C504.5 62.1 499.8 61.8 497 62C494.2 62.2 492.4 62.8 490.5 63.6C488.6 64.4 486.4 64.8 485.5 66.6C484.6 68.4 484.3 73.4 485 74.2Z" fill="#4A7AC0" stroke="#4A7AC0" stroke-width="1.8" stroke-linejoin="round"/>
<path d="M488.6 67.5C487.2 68.4 483.1 71.1 480 73C476.9 74.9 473.3 77.4 470 79C466.7 80.6 463.3 81 460 82.5C456.7 84 453 85.8 450 88C447 90.2 444.1 93 442 96C439.9 99 437.9 102.8 437.5 106C437.1 109.2 438.6 111.8 439.5 115C440.4 118.2 442.6 122 443 125C443.4 128 443 131.1 442 133C441 134.9 439 136.6 437 136.3C435 136.1 432.3 134.4 430 131.5C427.7 128.6 425 123.4 423 119C421 114.6 419.1 108.7 418.2 105C417.3 101.3 417.7 99.9 417.7 97C417.7 94.1 417.8 90.8 418.2 87.7C418.6 84.6 419.1 81.6 420 78.5C420.9 75.4 422.2 72.3 423.7 69.2C425.2 66.1 427.1 63.1 429 60C430.9 56.9 432.7 53.1 435 50.5C437.3 47.9 440.4 46.2 443 44.5C445.6 42.8 447.9 41.8 450.4 40.4C452.9 39 455.4 37.2 458 36C460.6 34.8 462.8 34.1 465.8 33.1C468.8 32.1 472.8 31 476 30.3C479.2 29.6 482 29.3 485 28.8C488 28.3 489.5 27.8 494 27.3C498.5 26.8 506 26.3 512 26C518 25.7 525.3 25.4 530 25.6C534.7 25.8 535 26.5 540 27.4C545 28.3 553.3 29.4 560 31C566.7 32.6 574 34.7 580 37C586 39.3 591 42 596 45C601 48 605.7 51.3 610 55C614.3 58.7 618.7 62.7 622 67C625.3 71.3 627.8 76.3 630 81C632.2 85.7 634.4 91.3 635.5 95C636.6 98.7 636.8 99.7 636.5 103C636.2 106.3 635.8 111.3 634 115C632.2 118.7 628.7 122.5 626 125C623.3 127.5 620.2 129.8 618 130.3C615.8 130.8 614.2 129.7 613 128C611.8 126.3 610.8 123.2 610.5 120C610.2 116.8 611.9 112.5 611.5 109C611.1 105.5 609.9 101.9 608 99C606.1 96.1 603 93.7 600 91.5C597 89.3 593.3 87.7 590 86C586.7 84.3 583.3 83.1 580 81.5C576.7 79.9 573.3 78.2 570 76.5C566.7 74.8 561.7 71.9 560 71" fill="none" stroke="#A3C6F0" stroke-width="3.4" stroke-linecap="butt" stroke-linejoin="round"/>
<path d="M485 74.2C485.7 75 487.8 72 489.5 71.2C491.2 70.4 493.3 69.7 495.4 69.6C497.5 69.5 500.4 69.4 502 70.6C503.6 71.8 504.4 74.5 504.7 77C505 79.5 503.5 82.7 503.8 85.5C504.1 88.3 505 91.5 506.4 94C507.8 96.5 510.2 98.9 512.3 100.7C514.4 102.5 517 104.2 519 105C521 105.8 522.3 106 524 105.8C525.7 105.6 527.2 105.1 529.2 104C531.2 102.9 534 101.1 536 99C538 96.9 539.9 93.9 541 91.4C542.1 88.9 542.6 86.5 542.8 83.8C543 81.1 541.6 77.4 542 75.3C542.4 73.2 543.5 71.8 545 71C546.5 70.2 549 70.1 551.2 70.2C553.4 70.3 556 71 558 71.6C560 72.2 561.9 74.6 563 74C564.1 73.4 565.3 69.5 564.5 68C563.7 66.5 560.2 65.9 558 65.2C555.8 64.5 554 64.1 551.2 63.8C548.4 63.5 543.7 63.3 541 63.5C538.3 63.7 536.4 64 535 65C533.6 66 533 67.4 532.6 69.4C532.2 71.4 532.7 74.3 532.6 77C532.5 79.7 532.5 82.8 531.8 85.5C531.1 88.2 529.7 91 528.4 93C527.1 95 525.3 97 524 97.3C522.7 97.6 522 96.5 520.8 94.8C519.5 93.1 517.5 89.7 516.5 87C515.5 84.3 515 81.5 514.8 78.7C514.6 75.9 515.7 72.5 515.4 70.2C515.1 67.9 514.4 66.3 513 65C511.6 63.7 509.9 63.1 507.2 62.6C504.5 62.1 499.8 61.8 497 62C494.2 62.2 492.4 62.8 490.5 63.6C488.6 64.4 486.4 64.8 485.5 66.6C484.6 68.4 484.3 73.4 485 74.2Z" fill="#A3C6F0" stroke="none"/>
<path d="M489.2 64.6L491.7 70.1M492.4 63.3L494.2 69.1M496 62.6L496.7 68.6M499.6 62.5L499.3 68.5M502.7 62.6L502.4 68.6M506.2 63.1L505.1 68.9M510.5 65.2L506.2 69.5M512.5 69.6L506.6 70.7M512.9 73L506.9 73.5M512.9 76.7L507 76.1M512.5 79.7L506.6 79.2M512.5 82.3L506.6 82.8M512.9 85.1L507 86.1M513.6 87.8L507.8 89.5M514.5 90.3L509 92.8M515.7 92.6L510.8 95.9M517.4 94.7L513 98.7M519.3 96.4L515.6 101.1M521.5 97.9L518.5 103.1M523.5 98.7L522.3 104.6M525.2 98.7L526.8 104.4M527.4 97.8L530.3 103M529.5 96.3L533.3 100.9M531.1 94.5L535.9 98.1M532.6 92.3L537.9 95.2M533.7 90L539.4 91.9M534.3 87.5L540.2 88.3M534.6 84.6L540.6 85M534.7 81.6L540.7 81.8M534.6 78.8L540.6 78.4M534.4 75.6L540.4 75.4M534.6 72L540.6 72.8M535.4 68.4L541 70.3M538.9 64.4L541.4 69.8M543.1 63.6L543.4 69.6M546.3 63.5L546.4 69.5M549.6 63.6L549.3 69.6M553 64L552 69.9M556.4 64.7L554.7 70.5M559.4 65.7L557.6 71.4" stroke="#4A7AC0" stroke-width="0.6" fill="none"/>
<path d="M474 101C472.7 100.9 468.5 100.1 466 100.3C463.5 100.5 461 100.7 459 102C457 103.3 455.4 105.7 454 108C452.6 110.3 451.2 112.5 450.5 116C449.8 119.5 450.2 125.2 449.5 129C448.8 132.8 447.6 136.6 446 139C444.4 141.4 442.7 142.8 440 143.3C437.3 143.8 433.3 143.4 430 142C426.7 140.6 422.8 138.5 420 135C417.2 131.5 414.8 126 413 121C411.2 116 410.1 109 409.4 105C408.6 101 408.6 99.9 408.5 97C408.4 94.1 408.6 90.8 408.8 87.7C409 84.6 409.2 81.6 409.9 78.5C410.6 75.4 411.6 72.3 412.9 69.2C414.2 66.1 416.1 62.8 417.8 60C419.5 57.2 420.2 55.7 423 52.5C425.8 49.3 430 44.5 434.5 41C439 37.5 444.1 34.3 450 31.5C455.9 28.7 463.3 25.8 470 24C476.7 22.2 483.3 21.4 490 20.6C496.7 19.8 503.3 19.6 510 19.4C516.7 19.2 525 19 530 19.2C535 19.4 535 19.8 540 20.6C545 21.4 553.3 22.4 560 24C566.7 25.6 573.3 27.5 580 30C586.7 32.5 594 35.7 600 39C606 42.3 611 46 616 50C621 54 626 58.2 630 63C634 67.8 637.5 73.7 640 79C642.5 84.3 643.9 90.7 645 95C646.1 99.3 646.8 101.2 646.5 105C646.2 108.8 644.8 114 643 118C641.2 122 638.8 125.7 636 129C633.2 132.3 629.7 135.8 626 138C622.3 140.2 617.3 141.8 614 142C610.7 142.2 608 141 606 139C604 137 602.5 133.3 602 130C601.5 126.7 603.2 122.5 603 119C602.8 115.5 602.2 112 601 109C599.8 106 597.8 103.1 596 101C594.2 98.9 592 97.5 590 96.5C588 95.5 586 94.9 584 95C582 95.1 580.2 96.2 578 97C575.8 97.8 572.2 99.5 571 100" fill="none" stroke="#A84C43" stroke-width="5.2" stroke-linecap="butt" stroke-linejoin="round"/>
<path d="M474 101C472.7 100.9 468.5 100.1 466 100.3C463.5 100.5 461 100.7 459 102C457 103.3 455.4 105.7 454 108C452.6 110.3 451.2 112.5 450.5 116C449.8 119.5 449.7 126.8 449.5 129" fill="none" stroke="#A84C43" stroke-width="6.4" stroke-linecap="round" stroke-linejoin="round"/>
<path d="M606 139C605.3 137.5 602.5 133.3 602 130C601.5 126.7 603.2 122.5 603 119C602.8 115.5 602.2 112 601 109C599.8 106 597.8 103.1 596 101C594.2 98.9 592 97.5 590 96.5C588 95.5 586 94.9 584 95C582 95.1 580.2 96.2 578 97C575.8 97.8 572.2 99.5 571 100" fill="none" stroke="#A84C43" stroke-width="6.4" stroke-linecap="round" stroke-linejoin="round"/>
<path d="M468.3 125.4C469.1 124.4 472.2 121.6 473.2 119.2C474.2 116.8 473.9 113.5 474.4 111C474.9 108.5 475.7 105.2 476 104" fill="none" stroke="#A84C43" stroke-width="6.2" stroke-linecap="round" stroke-linejoin="round"/>
<path d="M571 103C571.3 104.1 571.8 106.7 572.8 109.4C573.8 112.1 574.8 116.3 576.8 119.2C578.8 122.1 583.5 125.4 584.8 126.6" fill="none" stroke="#A84C43" stroke-width="6.2" stroke-linecap="round" stroke-linejoin="round"/>
<path d="M404.2 166.8C406.8 166.1 414 163.9 420 162.3C426 160.7 435 158.5 440 157C445 155.5 447.2 155.2 450 153.5C452.8 151.8 455.3 149.8 457 147C458.7 144.2 458.9 139.8 460 137C461.1 134.2 462.3 131.9 463.7 130C465.1 128.1 466.7 127.2 468.3 125.4C469.9 123.6 472.2 121.6 473.2 119.2C474.2 116.8 473.9 113.5 474.4 111C474.9 108.5 475.7 105.2 476 104" fill="none" stroke="#A84C43" stroke-width="4.6" stroke-linecap="butt" stroke-linejoin="round"/>
<path d="M571 103C571.3 104.1 571.8 106.7 572.8 109.4C573.8 112.1 574.8 116.3 576.8 119.2C578.8 122.1 582.4 124.6 584.8 126.6C587.2 128.6 589.5 129.3 591 131C592.5 132.7 592.8 134.7 593.5 137C594.2 139.3 593.8 142.4 595.5 145C597.2 147.6 599.9 149.9 604 152.5C608.1 155.1 614.9 158 620 160.5C625.1 163 632.1 166.3 634.5 167.5" fill="none" stroke="#A84C43" stroke-width="4.6" stroke-linecap="butt" stroke-linejoin="round"/>
<path d="M493 75.2C491.3 74.8 489 76.3 486.8 77.6C484.6 78.9 481.4 81.2 479.8 83C478.2 84.8 477.4 86.8 477 88.5C476.6 90.2 478 92.2 477.4 93.4C476.8 94.7 474.5 94.9 473.5 96C472.5 97.1 471.4 98.6 471.5 100C471.6 101.4 472.6 103.7 474 104.5C475.4 105.3 478.3 105.1 480 104.8C481.7 104.5 482.4 103.1 484.3 102.8C486.2 102.5 489.6 103.4 491.7 103C493.8 102.6 495.8 101.7 497 100.3C498.2 98.9 498.8 97 498.8 94.6C498.8 92.2 497.3 88.4 497 86C496.7 83.6 497.7 81.8 497 80C496.3 78.2 494.7 75.6 493 75.2Z" fill="#A84C43" stroke="#A84C43" stroke-width="1.8" stroke-linejoin="round"/>
<path d="M550 81C550.9 80 552.6 79.4 554.6 79.2C556.6 79 560.1 79.1 562 79.7C563.9 80.3 565 81.1 565.8 82.6C566.5 84.1 566.2 86.7 566.5 88.5C566.8 90.3 566.8 92.2 567.6 93.4C568.4 94.6 570.6 94.4 571.5 95.5C572.4 96.6 573.2 98.5 573 100C572.8 101.5 571.2 104 570 104.5C568.8 105 567.7 102.9 565.7 102.8C563.8 102.7 560.9 104.1 558.3 104C555.7 103.9 552 103.2 550 102.2C548 101.2 546.5 99.6 546 97.7C545.5 95.8 546.5 93.1 547 91C547.5 88.9 548.5 86.7 549 85C549.5 83.3 549.1 82 550 81Z" fill="#A84C43" stroke="#A84C43" stroke-width="1.8" stroke-linejoin="round"/>
<path d="M474 101C472.7 100.9 468.5 100.1 466 100.3C463.5 100.5 461 100.7 459 102C457 103.3 455.4 105.7 454 108C452.6 110.3 451.2 112.5 450.5 116C449.8 119.5 450.2 125.2 449.5 129C448.8 132.8 447.6 136.6 446 139C444.4 141.4 442.7 142.8 440 143.3C437.3 143.8 433.3 143.4 430 142C426.7 140.6 422.8 138.5 420 135C417.2 131.5 414.8 126 413 121C411.2 116 410.1 109 409.4 105C408.6 101 408.6 99.9 408.5 97C408.4 94.1 408.6 90.8 408.8 87.7C409 84.6 409.2 81.6 409.9 78.5C410.6 75.4 411.6 72.3 412.9 69.2C414.2 66.1 416.1 62.8 417.8 60C419.5 57.2 420.2 55.7 423 52.5C425.8 49.3 430 44.5 434.5 41C439 37.5 444.1 34.3 450 31.5C455.9 28.7 463.3 25.8 470 24C476.7 22.2 483.3 21.4 490 20.6C496.7 19.8 503.3 19.6 510 19.4C516.7 19.2 525 19 530 19.2C535 19.4 535 19.8 540 20.6C545 21.4 553.3 22.4 560 24C566.7 25.6 573.3 27.5 580 30C586.7 32.5 594 35.7 600 39C606 42.3 611 46 616 50C621 54 626 58.2 630 63C634 67.8 637.5 73.7 640 79C642.5 84.3 643.9 90.7 645 95C646.1 99.3 646.8 101.2 646.5 105C646.2 108.8 644.8 114 643 118C641.2 122 638.8 125.7 636 129C633.2 132.3 629.7 135.8 626 138C622.3 140.2 617.3 141.8 614 142C610.7 142.2 608 141 606 139C604 137 602.5 133.3 602 130C601.5 126.7 603.2 122.5 603 119C602.8 115.5 602.2 112 601 109C599.8 106 597.8 103.1 596 101C594.2 98.9 592 97.5 590 96.5C588 95.5 586 94.9 584 95C582 95.1 580.2 96.2 578 97C575.8 97.8 572.2 99.5 571 100" fill="none" stroke="#DB9A8E" stroke-width="3.4" stroke-linecap="butt" stroke-linejoin="round"/>
<path d="M474 101C472.7 100.9 468.5 100.1 466 100.3C463.5 100.5 461 100.7 459 102C457 103.3 455.4 105.7 454 108C452.6 110.3 451.2 112.5 450.5 116C449.8 119.5 449.7 126.8 449.5 129" fill="none" stroke="#DB9A8E" stroke-width="4.6" stroke-linecap="round" stroke-linejoin="round"/>
<path d="M606 139C605.3 137.5 602.5 133.3 602 130C601.5 126.7 603.2 122.5 603 119C602.8 115.5 602.2 112 601 109C599.8 106 597.8 103.1 596 101C594.2 98.9 592 97.5 590 96.5C588 95.5 586 94.9 584 95C582 95.1 580.2 96.2 578 97C575.8 97.8 572.2 99.5 571 100" fill="none" stroke="#DB9A8E" stroke-width="4.6" stroke-linecap="round" stroke-linejoin="round"/>
<path d="M468.3 125.4C469.1 124.4 472.2 121.6 473.2 119.2C474.2 116.8 473.9 113.5 474.4 111C474.9 108.5 475.7 105.2 476 104" fill="none" stroke="#DB9A8E" stroke-width="4.4" stroke-linecap="round" stroke-linejoin="round"/>
<path d="M571 103C571.3 104.1 571.8 106.7 572.8 109.4C573.8 112.1 574.8 116.3 576.8 119.2C578.8 122.1 583.5 125.4 584.8 126.6" fill="none" stroke="#DB9A8E" stroke-width="4.4" stroke-linecap="round" stroke-linejoin="round"/>
<path d="M404.2 166.8C406.8 166.1 414 163.9 420 162.3C426 160.7 435 158.5 440 157C445 155.5 447.2 155.2 450 153.5C452.8 151.8 455.3 149.8 457 147C458.7 144.2 458.9 139.8 460 137C461.1 134.2 462.3 131.9 463.7 130C465.1 128.1 466.7 127.2 468.3 125.4C469.9 123.6 472.2 121.6 473.2 119.2C474.2 116.8 473.9 113.5 474.4 111C474.9 108.5 475.7 105.2 476 104" fill="none" stroke="#DB9A8E" stroke-width="2.8" stroke-linecap="butt" stroke-linejoin="round"/>
<path d="M571 103C571.3 104.1 571.8 106.7 572.8 109.4C573.8 112.1 574.8 116.3 576.8 119.2C578.8 122.1 582.4 124.6 584.8 126.6C587.2 128.6 589.5 129.3 591 131C592.5 132.7 592.8 134.7 593.5 137C594.2 139.3 593.8 142.4 595.5 145C597.2 147.6 599.9 149.9 604 152.5C608.1 155.1 614.9 158 620 160.5C625.1 163 632.1 166.3 634.5 167.5" fill="none" stroke="#DB9A8E" stroke-width="2.8" stroke-linecap="butt" stroke-linejoin="round"/>
<path d="M493 75.2C491.3 74.8 489 76.3 486.8 77.6C484.6 78.9 481.4 81.2 479.8 83C478.2 84.8 477.4 86.8 477 88.5C476.6 90.2 478 92.2 477.4 93.4C476.8 94.7 474.5 94.9 473.5 96C472.5 97.1 471.4 98.6 471.5 100C471.6 101.4 472.6 103.7 474 104.5C475.4 105.3 478.3 105.1 480 104.8C481.7 104.5 482.4 103.1 484.3 102.8C486.2 102.5 489.6 103.4 491.7 103C493.8 102.6 495.8 101.7 497 100.3C498.2 98.9 498.8 97 498.8 94.6C498.8 92.2 497.3 88.4 497 86C496.7 83.6 497.7 81.8 497 80C496.3 78.2 494.7 75.6 493 75.2Z" fill="#DB9A8E" stroke="none"/>
<path d="M550 81C550.9 80 552.6 79.4 554.6 79.2C556.6 79 560.1 79.1 562 79.7C563.9 80.3 565 81.1 565.8 82.6C566.5 84.1 566.2 86.7 566.5 88.5C566.8 90.3 566.8 92.2 567.6 93.4C568.4 94.6 570.6 94.4 571.5 95.5C572.4 96.6 573.2 98.5 573 100C572.8 101.5 571.2 104 570 104.5C568.8 105 567.7 102.9 565.7 102.8C563.8 102.7 560.9 104.1 558.3 104C555.7 103.9 552 103.2 550 102.2C548 101.2 546.5 99.6 546 97.7C545.5 95.8 546.5 93.1 547 91C547.5 88.9 548.5 86.7 549 85C549.5 83.3 549.1 82 550 81Z" fill="#DB9A8E" stroke="none"/>
<path d="M472 102.1L472.3 99.4M468.3 101.7L468.5 99M464.8 101.8L464.5 99M461.4 102.4L460.5 99.8M458.7 104L456.9 102M456.5 106.6L454.3 105.1M454.6 109.7L452.2 108.3M452.9 112.9L450.4 111.8M451.8 116.2L449.2 115.6M451.4 119.7L448.7 119.5M451.1 123.4L448.4 123.3M451 127.2L448.2 127.1" stroke="#A84C43" stroke-width="0.5" fill="none"/>
<path d="M572.4 97.9L573.5 100.4M576.2 96.2L577.3 98.8M580.1 94.6L581.1 97.2M584.7 93.6L584.6 96.4M589.2 94.7L588.2 97.2M593.1 96.8L591.7 99M596.6 99.6L594.6 101.5M599.3 103.1L597.1 104.6M601.5 106.8L599.1 108M603.1 111L600.5 111.7M604 115.2L601.3 115.7M604.4 119.6L601.7 119.6M604.1 123.9L601.4 123.6M603.6 128.1L600.9 127.7" stroke="#A84C43" stroke-width="0.5" fill="none"/>
<path d="M476.9 105.8L474.4 105.2M476.2 108.6L473.7 108.1M475.6 111.5L473.1 111.1M475.3 114.4L472.8 114.2M475 117.5L472.5 117.1M473.9 120.7L471.6 119.4M472 123.3L470 121.7M469.9 125.6L468 123.8M467.8 127.8L466 126M465.7 129.9L463.9 128" stroke="#A84C43" stroke-width="0.5" fill="none"/>
<path d="M572.7 104.4L570.2 105M573.6 107.8L571.2 108.6M574.7 111.2L572.3 112M575.9 114.5L573.5 115.4M577.3 117.6L575.1 118.8M579.3 120.2L577.4 121.9M581.8 122.5L580.1 124.5M584.6 124.8L583 126.8M587.3 126.9L585.8 129M590.2 128.9L588.8 131.1" stroke="#A84C43" stroke-width="0.5" fill="none"/>
<path d="M493.2 93.2L497.1 94M492.3 95.2L495.1 97.3M490.6 96.7L492.6 100.7M488.4 97.2L488.5 102.2M486.2 96.8L483.8 102.2M484.5 95.4L481.4 98M483.5 93.4L480.5 94.2M483.4 91.2L480.5 90.6M484.3 89.2L481.5 87.1M486 87.7L484.2 84.2M488.2 87.2L488.1 82.2M490.4 87.6L492.8 82.2M492.1 89L497.5 84.5M493.1 91L498 89.7" stroke="#A84C43" stroke-width="0.5" fill="none"/>
<path d="M560 91.8L565.5 92.4M559.3 93.7L564.9 97.1M557.9 95.2L560.9 99.8M556.1 95.9L556.6 100.3M554.1 95.7L552.6 99.9M552.4 94.6L548.5 98.6M551.3 92.9L545.2 95.2M551 91L545.5 90.4M551.7 89.1L548.2 87M553.1 87.6L551.2 84.7M554.9 86.9L554.5 83.5M556.9 87.1L558.2 83.3M558.6 88.2L561.8 85M559.7 89.9L564.4 88.2" stroke="#A84C43" stroke-width="0.5" fill="none"/>
<ellipse cx="488.4" cy="92.4" rx="2.6" ry="3.5" fill="#fff" stroke="#A84C43" stroke-width="0.9" transform="rotate(5 488.4 92.4)"/>
<ellipse cx="555.2" cy="91.5" rx="2.5" ry="2.5" fill="#fff" stroke="#A84C43" stroke-width="0.9" transform="rotate(0 555.2 91.5)"/>
<ellipse cx="524.2" cy="109.3" rx="4.6" ry="3.3" fill="#DB9A8E" stroke="#A84C43" stroke-width="0.9" transform="rotate(0 524.2 109.3)"/>
<path d="M482.5 113.7C482.7 112.6 485.1 110.7 487 109.6C488.9 108.5 491.9 107.4 494.2 107.2C496.5 107 499.3 107.9 501 108.6C502.7 109.3 504.4 110.3 504.6 111.4C504.8 112.5 503.9 114 502 115C500.1 116 495.7 117.2 493 117.4C490.3 117.6 487.8 116.9 486 116.3C484.2 115.7 482.3 114.8 482.5 113.7Z" fill="#E4A9A1" stroke="#A3202E" stroke-width="1" stroke-linejoin="round" />
<path d="M486.5 114C486.5 113.3 489.5 111.6 491 110.8C492.5 110 494 109.3 495.5 109.3C497 109.3 499.1 110.4 500 111C500.9 111.6 501.7 112.4 501 112.8C500.3 113.2 497.7 113.1 496 113.5C494.3 113.9 492.6 114.9 491 115C489.4 115.1 486.5 114.7 486.5 114Z" fill="#fff" stroke="none" stroke-width="1" stroke-linejoin="round" />
<path d="M544.8 110C544.6 108.7 547.4 108.2 549 107.8C550.6 107.4 552.4 107.1 554.6 107.5C556.8 107.9 559.7 108.8 562 110C564.3 111.2 567.7 113.7 568.2 115C568.7 116.3 566.6 117.1 565 117.6C563.4 118.1 560.8 118.3 558.3 118C555.8 117.7 552.2 116.8 550 115.5C547.8 114.2 545 111.3 544.8 110Z" fill="#E4A9A1" stroke="#A3202E" stroke-width="1" stroke-linejoin="round" />
<path d="M548.5 111.5C548.7 110.8 551.4 109.7 553 109.5C554.6 109.3 556.3 109.8 558 110.5C559.7 111.2 561.9 112.7 563 113.5C564.1 114.3 565.3 115 564.5 115.3C563.7 115.5 560.1 115.3 558 115C555.9 114.7 553.6 114.2 552 113.6C550.4 113 548.3 112.2 548.5 111.5Z" fill="#fff" stroke="none" stroke-width="1" stroke-linejoin="round" />
<!-- panelC -->
<path d="M126 396.5C124.3 395.8 120 393.9 116 392C112 390.1 106.3 387.7 102 385C97.7 382.3 93 379.5 90 376C87 372.5 84.8 368.3 84 364C83.2 359.7 83.8 354.7 85 350C86.2 345.3 88.5 340.7 91 336C93.5 331.3 97.2 326 100 322C102.8 318 104.7 316 108 312C111.3 308 116 302.7 120 298C124 293.3 128 288.7 132 284C136 279.3 140 274.3 144 270C148 265.7 152 261.5 156 258C160 254.5 164 251.3 168 249C172 246.7 177 245 180 244C183 243 184 243 186 243C188 243 189 243 192 244C195 245 200 246.3 204 249C208 251.7 212 255.8 216 260C220 264.2 224 269 228 274C232 279 236.3 284.7 240 290C243.7 295.3 246.3 300.7 250 306C253.7 311.3 258.7 317 262 322C265.3 327 267.8 331.3 270 336C272.2 340.7 274.2 345.3 275 350C275.8 354.7 276.2 359.3 275 364C273.8 368.7 271.2 374.2 268 378C264.8 381.8 260.7 384.6 256 387C251.3 389.4 244.7 391 240 392.5C235.3 394 230 395.4 228 396Z" fill="#FAF2D8" stroke="none" stroke-width="1" stroke-linejoin="round" />
<path d="M90 401.8L106 403L120 403.6L127.5 401L126 396.5L116 392L102 385L120 378.5L134 388L144 394L147.5 400L144 406L134 409L90 406.3Z" fill="#FAF2D8" stroke="none" stroke-width="1" stroke-linejoin="round" />
<path d="M264 405.2L240 405L226 404L222.5 400L228 396L240 392.5L256 387L248 372L234 382L220 388.5L210 393L207 400L212 407L224 410L265 411Z" fill="#FAF2D8" stroke="none" stroke-width="1" stroke-linejoin="round" />
<path d="M160 384L166.5 393L168.5 403L162 411L150 416L130 420L112 423.5L118 431.5L140 425.3L160 420L172 413L177 404L177 392L174.5 384L171 380Z" fill="#FAF2D8" stroke="none" stroke-width="1" stroke-linejoin="round" />
<path d="M186 380L183.5 386L183 398L187 410L198 420L216 429L236 437L246 426L226 420L206 414L193 405L190 395L194 386Z" fill="#FAF2D8" stroke="none" stroke-width="1" stroke-linejoin="round" />
<path d="M144 406C140.8 407.2 147.5 402 147.5 400C147.5 398 146.2 396 144 394C141.8 392 138 390.6 134 388C130 385.4 124.7 382.5 120 378.5C115.3 374.5 109.3 368.8 106 364C102.7 359.2 100.7 354.7 100 350C99.3 345.3 100.3 340.2 102 336C103.7 331.8 106.8 327.6 110 325C113.2 322.4 117.7 320.7 121 320.5C124.3 320.3 127.2 321.9 130 324C132.8 326.1 134.7 330.8 138 333C141.3 335.2 146 336.2 150 337C154 337.8 158.8 337 162 338C165.2 339 168 341 169 343C170 345 169.3 347.2 168 350C166.7 352.8 162.8 356.3 161 360C159.2 363.7 157.2 368 157 372C156.8 376 158.4 380.5 160 384C161.6 387.5 169.2 389.3 166.5 393C163.8 396.7 147.2 404.8 144 406Z" fill="#fff" stroke="none" stroke-width="1" stroke-linejoin="round" />
<path d="M207 400C210.3 399.7 207.8 394.9 210 393C212.2 391.1 216 390.3 220 388.5C224 386.7 229.3 384.8 234 382C238.7 379.2 244.2 376 248 372C251.8 368 255.3 362.7 257 358C258.7 353.3 258.5 348.3 258 344C257.5 339.7 256 334.8 254 332C252 329.2 248.7 327.3 246 327C243.3 326.7 240.7 328.3 238 330C235.3 331.7 233.7 335.3 230 337C226.3 338.7 221 340 216 340C211 340 204 337.3 200 337C196 336.7 194 336.8 192 338C190 339.2 188 341.3 188 344C188 346.7 190.3 350.7 192 354C193.7 357.3 196.8 360.3 198 364C199.2 367.7 199.7 372.3 199 376C198.3 379.7 195.5 382.8 194 386C192.5 389.2 187.8 392.7 190 395C192.2 397.3 203.7 400.3 207 400Z" fill="#fff" stroke="none" stroke-width="1" stroke-linejoin="round" />
<path d="M118 431.5C121.7 430.5 133 427.2 140 425.3C147 423.4 154.7 422.1 160 420C165.3 417.9 169.2 415.7 172 413C174.8 410.3 176.2 407.5 177 404C177.8 400.5 177.4 395.3 177 392C176.6 388.7 175.5 386 174.5 384C173.5 382 171.6 380.7 171 380" fill="none" stroke="#E2CC55" stroke-width="4.8" stroke-linecap="butt" stroke-linejoin="round"/>
<path d="M186 380C185.6 381 184 383 183.5 386C183 389 182.4 394 183 398C183.6 402 184.5 406.3 187 410C189.5 413.7 193.2 416.8 198 420C202.8 423.2 209.7 426.2 216 429C222.3 431.8 232.7 435.7 236 437" fill="none" stroke="#E2CC55" stroke-width="4.8" stroke-linecap="butt" stroke-linejoin="round"/>
<path d="M172.5 383A13 13 0 1 1 184.5 383" fill="none" stroke="#E2CC55" stroke-width="6.2" stroke-linecap="butt" stroke-linejoin="round"/>
<path d="M118 431.5C121.7 430.5 133 427.2 140 425.3C147 423.4 154.7 422.1 160 420C165.3 417.9 169.2 415.7 172 413C174.8 410.3 176.2 407.5 177 404C177.8 400.5 177.4 395.3 177 392C176.6 388.7 175.5 386 174.5 384C173.5 382 171.6 380.7 171 380" fill="none" stroke="#F8E78C" stroke-width="3.2" stroke-linecap="butt" stroke-linejoin="round"/>
<path d="M186 380C185.6 381 184 383 183.5 386C183 389 182.4 394 183 398C183.6 402 184.5 406.3 187 410C189.5 413.7 193.2 416.8 198 420C202.8 423.2 209.7 426.2 216 429C222.3 431.8 232.7 435.7 236 437" fill="none" stroke="#F8E78C" stroke-width="3.2" stroke-linecap="butt" stroke-linejoin="round"/>
<path d="M172.5 383A13 13 0 1 1 184.5 383" fill="none" stroke="#F8E78C" stroke-width="4.6" stroke-linecap="butt" stroke-linejoin="round"/>
<circle cx="178.3" cy="368.3" r="10.3" fill="#fff" stroke="#E2CC55" stroke-width="0.8"/>
<g fill="#2a2a10"><circle cx="172.5" cy="380.3" r="0.8"/><circle cx="170.5" cy="379.4" r="0.8"/><circle cx="168.7" cy="378.1" r="0.8"/><circle cx="166.9" cy="376.7" r="0.8"/><circle cx="166.1" cy="374.4" r="0.8"/><circle cx="164.9" cy="372.5" r="0.8"/><circle cx="166.6" cy="370" r="0.8"/><circle cx="165.4" cy="368" r="0.8"/><circle cx="164.4" cy="365.7" r="0.8"/><circle cx="165.7" cy="363.7" r="0.8"/><circle cx="166" cy="361.4" r="0.8"/><circle cx="168.9" cy="360.8" r="0.8"/><circle cx="169.6" cy="358.7" r="0.8"/><circle cx="171.6" cy="357.9" r="0.8"/><circle cx="173.1" cy="356.3" r="0.8"/><circle cx="175.1" cy="355.5" r="0.8"/><circle cx="177.3" cy="356.6" r="0.8"/><circle cx="179.3" cy="356.1" r="0.8"/><circle cx="181.3" cy="356.2" r="0.8"/><circle cx="183.9" cy="355.4" r="0.8"/><circle cx="185.7" cy="356.8" r="0.8"/><circle cx="186.4" cy="359.3" r="0.8"/><circle cx="189.1" cy="359.7" r="0.8"/><circle cx="188.8" cy="362.4" r="0.8"/><circle cx="190.8" cy="363.8" r="0.8"/><circle cx="190.1" cy="366.1" r="0.8"/><circle cx="190" cy="368.1" r="0.8"/><circle cx="192.1" cy="370.3" r="0.8"/><circle cx="190" cy="372" r="0.8"/><circle cx="189.2" cy="373.8" r="0.8"/><circle cx="189.8" cy="376.7" r="0.8"/><circle cx="188.1" cy="378.3" r="0.8"/><circle cx="185.5" cy="378.5" r="0.8"/><circle cx="184.5" cy="381.1" r="0.8"/></g>
<path d="M90 406.3C92.3 406.5 99 407.2 104 407.6C109 408.1 115 408.8 120 409C125 409.2 130 409.5 134 409C138 408.5 141.8 407.5 144 406C146.2 404.5 147.5 402 147.5 400C147.5 398 146.2 396 144 394C141.8 392 138 390.6 134 388C130 385.4 124.7 382.5 120 378.5C115.3 374.5 109.3 368.8 106 364C102.7 359.2 100.7 354.7 100 350C99.3 345.3 100.3 340.2 102 336C103.7 331.8 106.8 327.6 110 325C113.2 322.4 117.7 320.7 121 320.5C124.3 320.3 127.2 321.9 130 324C132.8 326.1 134.7 330.8 138 333C141.3 335.2 146 336.2 150 337C154 337.8 158.8 337 162 338C165.2 339 168 341 169 343C170 345 169.3 347.2 168 350C166.7 352.8 162.8 356.3 161 360C159.2 363.7 157.2 368 157 372C156.8 376 158.4 380.5 160 384C161.6 387.5 165.1 389.8 166.5 393C167.9 396.2 169.2 400 168.5 403C167.8 406 165.1 408.8 162 411C158.9 413.2 155.3 414.5 150 416C144.7 417.5 136.3 418.8 130 420C123.7 421.2 115 422.9 112 423.5" fill="none" stroke="#A84C43" stroke-width="5.2" stroke-linecap="butt" stroke-linejoin="round"/>
<path d="M265 411C261.5 410.9 250.8 410.8 244 410.6C237.2 410.4 229.3 410.6 224 410C218.7 409.4 214.8 408.7 212 407C209.2 405.3 207.3 402.3 207 400C206.7 397.7 207.8 394.9 210 393C212.2 391.1 216 390.3 220 388.5C224 386.7 229.3 384.8 234 382C238.7 379.2 244.2 376 248 372C251.8 368 255.3 362.7 257 358C258.7 353.3 258.5 348.3 258 344C257.5 339.7 256 334.8 254 332C252 329.2 248.7 327.3 246 327C243.3 326.7 240.7 328.3 238 330C235.3 331.7 233.7 335.3 230 337C226.3 338.7 221 340 216 340C211 340 204 337.3 200 337C196 336.7 194 336.8 192 338C190 339.2 188 341.3 188 344C188 346.7 190.3 350.7 192 354C193.7 357.3 196.8 360.3 198 364C199.2 367.7 199.7 372.3 199 376C198.3 379.7 195.5 382.8 194 386C192.5 389.2 190.2 391.8 190 395C189.8 398.2 190.3 401.8 193 405C195.7 408.2 200.5 411.5 206 414C211.5 416.5 219.3 418 226 420C232.7 422 242.7 425 246 426" fill="none" stroke="#A84C43" stroke-width="5.2" stroke-linecap="butt" stroke-linejoin="round"/>
<path d="M90 406.3C92.3 406.5 99 407.2 104 407.6C109 408.1 115 408.8 120 409C125 409.2 130 409.5 134 409C138 408.5 141.8 407.5 144 406C146.2 404.5 147.5 402 147.5 400C147.5 398 146.2 396 144 394C141.8 392 138 390.6 134 388C130 385.4 124.7 382.5 120 378.5C115.3 374.5 109.3 368.8 106 364C102.7 359.2 100.7 354.7 100 350C99.3 345.3 100.3 340.2 102 336C103.7 331.8 106.8 327.6 110 325C113.2 322.4 117.7 320.7 121 320.5C124.3 320.3 127.2 321.9 130 324C132.8 326.1 134.7 330.8 138 333C141.3 335.2 146 336.2 150 337C154 337.8 158.8 337 162 338C165.2 339 168 341 169 343C170 345 169.3 347.2 168 350C166.7 352.8 162.8 356.3 161 360C159.2 363.7 157.2 368 157 372C156.8 376 158.4 380.5 160 384C161.6 387.5 165.1 389.8 166.5 393C167.9 396.2 169.2 400 168.5 403C167.8 406 165.1 408.8 162 411C158.9 413.2 155.3 414.5 150 416C144.7 417.5 136.3 418.8 130 420C123.7 421.2 115 422.9 112 423.5" fill="none" stroke="#DB9A8E" stroke-width="3.4" stroke-linecap="butt" stroke-linejoin="round"/>
<path d="M265 411C261.5 410.9 250.8 410.8 244 410.6C237.2 410.4 229.3 410.6 224 410C218.7 409.4 214.8 408.7 212 407C209.2 405.3 207.3 402.3 207 400C206.7 397.7 207.8 394.9 210 393C212.2 391.1 216 390.3 220 388.5C224 386.7 229.3 384.8 234 382C238.7 379.2 244.2 376 248 372C251.8 368 255.3 362.7 257 358C258.7 353.3 258.5 348.3 258 344C257.5 339.7 256 334.8 254 332C252 329.2 248.7 327.3 246 327C243.3 326.7 240.7 328.3 238 330C235.3 331.7 233.7 335.3 230 337C226.3 338.7 221 340 216 340C211 340 204 337.3 200 337C196 336.7 194 336.8 192 338C190 339.2 188 341.3 188 344C188 346.7 190.3 350.7 192 354C193.7 357.3 196.8 360.3 198 364C199.2 367.7 199.7 372.3 199 376C198.3 379.7 195.5 382.8 194 386C192.5 389.2 190.2 391.8 190 395C189.8 398.2 190.3 401.8 193 405C195.7 408.2 200.5 411.5 206 414C211.5 416.5 219.3 418 226 420C232.7 422 242.7 425 246 426" fill="none" stroke="#DB9A8E" stroke-width="3.4" stroke-linecap="butt" stroke-linejoin="round"/>
<path d="M90 401.8C92.7 402 101 402.7 106 403C111 403.3 116.4 403.9 120 403.6C123.6 403.3 126.5 402.2 127.5 401C128.5 399.8 127.9 398 126 396.5C124.1 395 120 393.9 116 392C112 390.1 106.3 387.7 102 385C97.7 382.3 93 379.5 90 376C87 372.5 84.8 368.3 84 364C83.2 359.7 83.8 354.7 85 350C86.2 345.3 88.5 340.7 91 336C93.5 331.3 97.2 326 100 322C102.8 318 104.7 316 108 312C111.3 308 116 302.7 120 298C124 293.3 128 288.7 132 284C136 279.3 140 274.3 144 270C148 265.7 152 261.5 156 258C160 254.5 164 251.3 168 249C172 246.7 177 245 180 244C183 243 184 243 186 243C188 243 189 243 192 244C195 245 200 246.3 204 249C208 251.7 212 255.8 216 260C220 264.2 224 269 228 274C232 279 236.3 284.7 240 290C243.7 295.3 246.3 300.7 250 306C253.7 311.3 258.7 317 262 322C265.3 327 267.8 331.3 270 336C272.2 340.7 274.2 345.3 275 350C275.8 354.7 276.2 359.3 275 364C273.8 368.7 271.2 374.2 268 378C264.8 381.8 260.7 384.6 256 387C251.3 389.4 244.7 391 240 392.5C235.3 394 230.9 394.8 228 396C225.1 397.2 222.8 398.7 222.5 400C222.2 401.3 223.1 403.2 226 404C228.9 404.8 233.7 404.8 240 405C246.3 405.2 260 405.2 264 405.2" fill="none" stroke="#4A7AC0" stroke-width="3.7" stroke-linecap="butt" stroke-linejoin="round"/>
<path d="M90 401.8C92.7 402 101 402.7 106 403C111 403.3 116.4 403.9 120 403.6C123.6 403.3 126.5 402.2 127.5 401C128.5 399.8 127.9 398 126 396.5C124.1 395 120 393.9 116 392C112 390.1 106.3 387.7 102 385C97.7 382.3 93 379.5 90 376C87 372.5 84.8 368.3 84 364C83.2 359.7 83.8 354.7 85 350C86.2 345.3 88.5 340.7 91 336C93.5 331.3 98.5 324.3 100 322" fill="none" stroke="#4A7AC0" stroke-width="4.4" stroke-linecap="butt" stroke-linejoin="round"/>
<path d="M262 322C263.3 324.3 267.8 331.3 270 336C272.2 340.7 274.2 345.3 275 350C275.8 354.7 276.2 359.3 275 364C273.8 368.7 271.2 374.2 268 378C264.8 381.8 260.7 384.6 256 387C251.3 389.4 244.7 391 240 392.5C235.3 394 230.9 394.8 228 396C225.1 397.2 222.8 398.7 222.5 400C222.2 401.3 223.1 403.2 226 404C228.9 404.8 233.7 404.8 240 405C246.3 405.2 260 405.2 264 405.2" fill="none" stroke="#4A7AC0" stroke-width="4.4" stroke-linecap="butt" stroke-linejoin="round"/>
<path d="M90 401.8C92.7 402 101 402.7 106 403C111 403.3 116.4 403.9 120 403.6C123.6 403.3 126.5 402.2 127.5 401C128.5 399.8 127.9 398 126 396.5C124.1 395 120 393.9 116 392C112 390.1 106.3 387.7 102 385C97.7 382.3 93 379.5 90 376C87 372.5 84.8 368.3 84 364C83.2 359.7 83.8 354.7 85 350C86.2 345.3 90 338.3 91 336" fill="none" stroke="#4A7AC0" stroke-width="5.1" stroke-linecap="butt" stroke-linejoin="round"/>
<path d="M270 336C270.8 338.3 274.2 345.3 275 350C275.8 354.7 276.2 359.3 275 364C273.8 368.7 271.2 374.2 268 378C264.8 381.8 260.7 384.6 256 387C251.3 389.4 244.7 391 240 392.5C235.3 394 230.9 394.8 228 396C225.1 397.2 222.8 398.7 222.5 400C222.2 401.3 223.1 403.2 226 404C228.9 404.8 233.7 404.8 240 405C246.3 405.2 260 405.2 264 405.2" fill="none" stroke="#4A7AC0" stroke-width="5.1" stroke-linecap="butt" stroke-linejoin="round"/>
<path d="M90 401.8C92.7 402 101 402.7 106 403C111 403.3 116.4 403.9 120 403.6C123.6 403.3 126.5 402.2 127.5 401C128.5 399.8 127.9 398 126 396.5C124.1 395 120 393.9 116 392C112 390.1 106.3 387.7 102 385C97.7 382.3 93 379.5 90 376C87 372.5 84.8 368.3 84 364C83.2 359.7 84.8 352.3 85 350" fill="none" stroke="#4A7AC0" stroke-width="5.5" stroke-linecap="butt" stroke-linejoin="round"/>
<path d="M275 350C275 352.3 276.2 359.3 275 364C273.8 368.7 271.2 374.2 268 378C264.8 381.8 260.7 384.6 256 387C251.3 389.4 244.7 391 240 392.5C235.3 394 230.9 394.8 228 396C225.1 397.2 222.8 398.7 222.5 400C222.2 401.3 223.1 403.2 226 404C228.9 404.8 233.7 404.8 240 405C246.3 405.2 260 405.2 264 405.2" fill="none" stroke="#4A7AC0" stroke-width="5.5" stroke-linecap="butt" stroke-linejoin="round"/>
<path d="M90 401.8C92.7 402 101 402.7 106 403C111 403.3 116.4 403.9 120 403.6C123.6 403.3 126.5 402.2 127.5 401C128.5 399.8 127.9 398 126 396.5C124.1 395 120 393.9 116 392C112 390.1 106.3 387.7 102 385C97.7 382.3 93 379.5 90 376C87 372.5 84.8 368.3 84 364C83.2 359.7 83.8 354.7 85 350C86.2 345.3 88.5 340.7 91 336C93.5 331.3 97.2 326 100 322C102.8 318 104.7 316 108 312C111.3 308 116 302.7 120 298C124 293.3 128 288.7 132 284C136 279.3 140 274.3 144 270C148 265.7 152 261.5 156 258C160 254.5 164 251.3 168 249C172 246.7 177 245 180 244C183 243 184 243 186 243C188 243 189 243 192 244C195 245 200 246.3 204 249C208 251.7 212 255.8 216 260C220 264.2 224 269 228 274C232 279 236.3 284.7 240 290C243.7 295.3 246.3 300.7 250 306C253.7 311.3 258.7 317 262 322C265.3 327 267.8 331.3 270 336C272.2 340.7 274.2 345.3 275 350C275.8 354.7 276.2 359.3 275 364C273.8 368.7 271.2 374.2 268 378C264.8 381.8 260.7 384.6 256 387C251.3 389.4 244.7 391 240 392.5C235.3 394 230.9 394.8 228 396C225.1 397.2 222.8 398.7 222.5 400C222.2 401.3 223.1 403.2 226 404C228.9 404.8 233.7 404.8 240 405C246.3 405.2 260 405.2 264 405.2" fill="none" stroke="#A3C6F0" stroke-width="2" stroke-linecap="butt" stroke-linejoin="round"/>
<path d="M90 401.8C92.7 402 101 402.7 106 403C111 403.3 116.4 403.9 120 403.6C123.6 403.3 126.5 402.2 127.5 401C128.5 399.8 127.9 398 126 396.5C124.1 395 120 393.9 116 392C112 390.1 106.3 387.7 102 385C97.7 382.3 93 379.5 90 376C87 372.5 84.8 368.3 84 364C83.2 359.7 83.8 354.7 85 350C86.2 345.3 88.5 340.7 91 336C93.5 331.3 98.5 324.3 100 322" fill="none" stroke="#A3C6F0" stroke-width="2.7" stroke-linecap="butt" stroke-linejoin="round"/>
<path d="M262 322C263.3 324.3 267.8 331.3 270 336C272.2 340.7 274.2 345.3 275 350C275.8 354.7 276.2 359.3 275 364C273.8 368.7 271.2 374.2 268 378C264.8 381.8 260.7 384.6 256 387C251.3 389.4 244.7 391 240 392.5C235.3 394 230.9 394.8 228 396C225.1 397.2 222.8 398.7 222.5 400C222.2 401.3 223.1 403.2 226 404C228.9 404.8 233.7 404.8 240 405C246.3 405.2 260 405.2 264 405.2" fill="none" stroke="#A3C6F0" stroke-width="2.7" stroke-linecap="butt" stroke-linejoin="round"/>
<path d="M90 401.8C92.7 402 101 402.7 106 403C111 403.3 116.4 403.9 120 403.6C123.6 403.3 126.5 402.2 127.5 401C128.5 399.8 127.9 398 126 396.5C124.1 395 120 393.9 116 392C112 390.1 106.3 387.7 102 385C97.7 382.3 93 379.5 90 376C87 372.5 84.8 368.3 84 364C83.2 359.7 83.8 354.7 85 350C86.2 345.3 90 338.3 91 336" fill="none" stroke="#A3C6F0" stroke-width="3.4" stroke-linecap="butt" stroke-linejoin="round"/>
<path d="M270 336C270.8 338.3 274.2 345.3 275 350C275.8 354.7 276.2 359.3 275 364C273.8 368.7 271.2 374.2 268 378C264.8 381.8 260.7 384.6 256 387C251.3 389.4 244.7 391 240 392.5C235.3 394 230.9 394.8 228 396C225.1 397.2 222.8 398.7 222.5 400C222.2 401.3 223.1 403.2 226 404C228.9 404.8 233.7 404.8 240 405C246.3 405.2 260 405.2 264 405.2" fill="none" stroke="#A3C6F0" stroke-width="3.4" stroke-linecap="butt" stroke-linejoin="round"/>
<path d="M90 401.8C92.7 402 101 402.7 106 403C111 403.3 116.4 403.9 120 403.6C123.6 403.3 126.5 402.2 127.5 401C128.5 399.8 127.9 398 126 396.5C124.1 395 120 393.9 116 392C112 390.1 106.3 387.7 102 385C97.7 382.3 93 379.5 90 376C87 372.5 84.8 368.3 84 364C83.2 359.7 84.8 352.3 85 350" fill="none" stroke="#A3C6F0" stroke-width="3.8" stroke-linecap="butt" stroke-linejoin="round"/>
<path d="M275 350C275 352.3 276.2 359.3 275 364C273.8 368.7 271.2 374.2 268 378C264.8 381.8 260.7 384.6 256 387C251.3 389.4 244.7 391 240 392.5C235.3 394 230.9 394.8 228 396C225.1 397.2 222.8 398.7 222.5 400C222.2 401.3 223.1 403.2 226 404C228.9 404.8 233.7 404.8 240 405C246.3 405.2 260 405.2 264 405.2" fill="none" stroke="#A3C6F0" stroke-width="3.8" stroke-linecap="butt" stroke-linejoin="round"/>
<rect x="169.6" y="255.2" width="35" height="44.6" rx="13" ry="13" fill="#A3C6F0" stroke="#4A7AC0" stroke-width="0.9"/>
<path d="M185.5 259.9L184.8 256.4M187.7 259.9L188.4 256.4M189.5 260.6L192 256.3M190.7 261.6L195.7 257M191.5 262.8L198.9 258.8M192 264L201.5 261.6M192.2 265.3L203 265M192.2 269L203.4 269M192.2 273L203.4 273M192.2 277L203.4 277M192.2 281.1L203.4 281.1M192.2 285L203.4 285.1M192.1 286.3L203.2 288.8M191.7 287.4L202 292.4M191 288.5L199.7 295.4M190.1 289.4L196.7 297.5M189 290.1L193.1 298.6M187.7 290.5L189.3 298.6M186.2 290.6L185.6 298.6M184.8 290.3L181.9 298.6M183.6 289.7L178.3 297.8M182.5 288.9L175.1 295.9M181.8 287.8L172.6 293.1M181.2 286.6L171.2 289.7M181 285.3L170.8 286M181 282L170.8 282M181 278L170.8 278M181 273.9L170.8 273.9M181 269.9L170.8 269.9M181 265.9L171 265.9M181.1 264.2L172.3 262.4M181.6 262.9L174.6 259.4M182.4 261.7L177.7 257.4M183.7 260.6L181.2 256.4" stroke="#6790CC" stroke-width="0.5" fill="none"/>
<rect x="182.2" y="261" width="8.8" height="28.4" rx="4.4" ry="4.4" fill="#fff" stroke="#4A7AC0" stroke-width="0.9"/>
<circle cx="183.6" cy="308.6" r="4.8" fill="#D79283" stroke="#A84C43" stroke-width="1"/>
<path d="M155.9 270.2C157.7 269.6 159 270.8 160.2 271.8C161.4 272.8 162.4 274.6 162.9 276.2C163.4 277.8 163.4 279.7 162.9 281.5C162.4 283.3 161.3 285.4 160.2 286.9C159.1 288.4 157.5 290.2 156.5 290.7C155.5 291.1 154.7 290.3 154.3 289.6C153.9 288.9 153.9 287.5 154.3 286.4C154.7 285.3 156.3 284 156.5 283.2C156.7 282.4 156.2 281.2 155.4 281.5C154.6 281.8 152.6 283.4 151.6 284.8C150.6 286.2 150.4 288.2 149.5 290.2C148.6 292.2 147.5 294.6 146.2 296.6C144.9 298.6 143.5 300.4 141.9 302C140.3 303.6 137.8 304.9 136.5 306.3C135.2 307.7 135.2 309.4 134.4 310.6C133.6 311.9 132.7 313.3 131.7 313.8C130.7 314.3 129.4 314.3 128.5 313.8C127.6 313.3 126.5 312 126.3 310.6C126.1 309.2 126.6 307.2 127.4 305.2C128.2 303.2 129.7 301.1 131.2 298.8C132.7 296.5 134.5 293.9 136.5 291.2C138.5 288.5 140.8 285.3 143 282.6C145.2 279.9 147.3 277.2 149.5 275.1C151.7 273 154.1 270.8 155.9 270.2Z" fill="#E9CBC2" stroke="#CCA097" stroke-width="0.9" stroke-dasharray="3.5 1"/>
<path d="M209 272.9C210 271.5 211.8 271 213.3 270.8C214.8 270.6 216.7 270.9 218.2 271.8C219.7 272.7 221.2 274.6 222.5 276.2C223.8 277.8 225 279.5 226.2 281.5C227.4 283.5 228.4 285.8 229.5 288C230.6 290.2 231.5 292.4 232.7 294.5C233.9 296.6 235.4 298.8 236.5 300.9C237.6 303 238.7 305.4 239.2 307.4C239.7 309.4 240 311.3 239.7 312.8C239.4 314.3 238.4 315.8 237.5 316.5C236.6 317.2 235.2 317.6 234.3 317.1C233.4 316.7 232.7 315.2 232.2 313.8C231.7 312.4 231.8 310.3 231.1 308.5C230.4 306.7 229 304.9 227.8 303.1C226.6 301.3 225.3 299.5 224.1 297.7C222.9 295.9 221.7 294.1 220.8 292.3C219.9 290.5 219.5 288.4 218.7 286.9C217.9 285.4 216.7 283.6 216 283.2C215.3 282.8 214.8 283.6 214.4 284.2C214 284.8 213.9 286.3 213.3 286.9C212.7 287.4 211.5 287.9 210.6 287.5C209.7 287.1 208.5 286.2 207.9 284.8C207.3 283.4 206.9 281.4 207.1 279.4C207.3 277.4 208 274.3 209 272.9Z" fill="#E9CBC2" stroke="#CCA097" stroke-width="0.9" stroke-dasharray="3.5 1"/>
<ellipse cx="171.8" cy="322" rx="7.8" ry="6.6" fill="#E7ADA5" stroke="#A3202E" stroke-width="1.5" transform="rotate(-10 171.8 322)"/>
<ellipse cx="172.4" cy="322.2" rx="4.8" ry="4.1" fill="#fff" stroke="none" stroke-width="0" transform="rotate(-10 172.4 322.2)"/>
<path d="M168.1 322.5L177.1 321.6" stroke="#fff" stroke-width="1.6" stroke-linecap="round"/>
<ellipse cx="194" cy="322" rx="7.8" ry="6.4" fill="#E7ADA5" stroke="#A3202E" stroke-width="1.5" transform="rotate(10 194 322)"/>
<ellipse cx="193.6" cy="322.4" rx="4.8" ry="4" fill="#fff" stroke="none" stroke-width="0" transform="rotate(10 193.6 322.4)"/>
<path d="M189.3 322.7L198.3 321.8" stroke="#fff" stroke-width="1.6" stroke-linecap="round"/>
<ellipse cx="149.3" cy="320.6" rx="5.6" ry="4.6" fill="#D0CC9B" stroke="#7C7840" stroke-width="0.9" transform="rotate(20 149.3 320.6)"/>
<ellipse cx="149.3" cy="320.6" rx="2.5" ry="2.1" fill="#EFECCF" stroke="#7C7840" stroke-width="0.6" transform="rotate(20 149.3 320.6)"/>
<path d="M151.7 321.2L154.4 321.9M149.9 322.6L150.5 324.9M147.5 322L145.4 323.6M146.9 320L144.2 319.3M148.7 318.6L148.1 316.3M151.1 319.2L153.2 317.6" stroke="#7C7840" stroke-width="0.4" fill="none" transform="rotate(20 149.3 320.6)"/>
<ellipse cx="142" cy="325.4" rx="4.6" ry="5.4" fill="#D0CC9B" stroke="#7C7840" stroke-width="0.9" transform="rotate(-20 142 325.4)"/>
<ellipse cx="142" cy="325.4" rx="2.1" ry="2.4" fill="#EFECCF" stroke="#7C7840" stroke-width="0.6" transform="rotate(-20 142 325.4)"/>
<path d="M144 326.1L146.2 326.9M142.5 327.8L143 330.4M140.5 327.1L138.8 328.9M140 324.7L137.8 323.9M141.5 323L141 320.4M143.5 323.7L145.2 321.9" stroke="#7C7840" stroke-width="0.4" fill="none" transform="rotate(-20 142 325.4)"/>
<ellipse cx="154.4" cy="329.5" rx="5.4" ry="4.4" fill="#D0CC9B" stroke="#7C7840" stroke-width="0.9" transform="rotate(10 154.4 329.5)"/>
<ellipse cx="154.4" cy="329.5" rx="2.4" ry="2" fill="#EFECCF" stroke="#7C7840" stroke-width="0.6" transform="rotate(10 154.4 329.5)"/>
<path d="M156.7 330.1L159.3 330.7M154.9 331.4L155.5 333.6M152.6 330.8L150.6 332.3M152.1 328.9L149.5 328.3M153.9 327.6L153.3 325.4M156.2 328.2L158.2 326.7" stroke="#7C7840" stroke-width="0.4" fill="none" transform="rotate(10 154.4 329.5)"/>
<ellipse cx="217" cy="324.6" rx="5.4" ry="4.2" fill="#D0CC9B" stroke="#7C7840" stroke-width="0.9" transform="rotate(10 217 324.6)"/>
<ellipse cx="217" cy="324.6" rx="2.4" ry="1.9" fill="#EFECCF" stroke="#7C7840" stroke-width="0.6" transform="rotate(10 217 324.6)"/>
<path d="M219.3 325.2L221.9 325.8M217.5 326.4L218.1 328.5M215.2 325.9L213.2 327.3M214.7 324L212.1 323.4M216.5 322.8L215.9 320.7M218.8 323.3L220.8 321.9" stroke="#7C7840" stroke-width="0.4" fill="none" transform="rotate(10 217 324.6)"/>
<ellipse cx="225.4" cy="330" rx="5.4" ry="4.4" fill="#D0CC9B" stroke="#7C7840" stroke-width="0.9" transform="rotate(-30 225.4 330)"/>
<ellipse cx="225.4" cy="330" rx="2.4" ry="2" fill="#EFECCF" stroke="#7C7840" stroke-width="0.6" transform="rotate(-30 225.4 330)"/>
<path d="M227.7 330.6L230.3 331.2M225.9 331.9L226.5 334.1M223.6 331.3L221.6 332.8M223.1 329.4L220.5 328.8M224.9 328.1L224.3 325.9M227.2 328.7L229.2 327.2" stroke="#7C7840" stroke-width="0.4" fill="none" transform="rotate(-30 225.4 330)"/>
<ellipse cx="212.8" cy="334.6" rx="5.4" ry="4.2" fill="#D0CC9B" stroke="#7C7840" stroke-width="0.9" transform="rotate(-10 212.8 334.6)"/>
<ellipse cx="212.8" cy="334.6" rx="2.4" ry="1.9" fill="#EFECCF" stroke="#7C7840" stroke-width="0.6" transform="rotate(-10 212.8 334.6)"/>
<path d="M215.1 335.2L217.7 335.8M213.3 336.4L213.9 338.5M211 335.9L209 337.3M210.5 334L207.9 333.4M212.3 332.8L211.7 330.7M214.6 333.3L216.6 331.9" stroke="#7C7840" stroke-width="0.4" fill="none" transform="rotate(-10 212.8 334.6)"/>
<!-- panelD -->
<path d="M513.2 419.2C512.8 418.8 512.7 417.4 510.5 416.5C508.3 415.6 504.1 415.1 500 414C495.9 412.9 491 412.2 486 410C481 407.8 475.3 404.8 470 401C464.7 397.2 458.7 392.3 454 387C449.3 381.7 445.2 375 442 369C438.8 363 436.8 356.7 435 351C433.2 345.3 432.2 340.2 431.5 335C430.8 329.8 430.6 325 431 320C431.4 315 432.7 309.7 433.6 305C434.5 300.3 435.1 296.3 436.5 292C437.9 287.7 440.2 282.8 442 279.4C443.8 276 445.3 274 447 271.5C448.7 269 449.5 267.8 452 264.5C454.5 261.2 458.7 255.9 462 251.5C465.3 247.1 468.7 242.6 472 238C475.3 233.4 478.3 228.4 482 224C485.7 219.6 490 214.9 494 211.5C498 208.1 502 205.6 506 203.6C510 201.6 513.8 200.2 518 199.4C522.2 198.6 526.5 198.6 531 198.6C535.5 198.6 540.5 198.6 545 199.4C549.5 200.2 554 201.6 558 203.6C562 205.6 565.2 208.1 569 211.5C572.8 214.9 576.9 219.6 580.5 224C584.1 228.4 587.2 232.8 590.5 238C593.8 243.2 597.2 249.5 600.5 255C603.8 260.5 607.4 266 610.5 271C613.6 276 616.3 279.7 619 285C621.7 290.3 624.7 297.2 626.5 303C628.3 308.8 629.3 314.7 630 320C630.7 325.3 630.8 329.8 630.5 335C630.2 340.2 629.8 345.3 628.5 351C627.2 356.7 625.4 363.3 622.5 369C619.6 374.7 615.6 380 611 385C606.4 390 600.2 395 595 399C589.8 403 585.2 406.3 580 409C574.8 411.7 568.1 413.6 564 415C559.9 416.4 557.5 416.6 555.5 417.5C553.5 418.4 552.8 419.8 552.3 420.3L549.5 426.3L514.5 426.3Z" fill="#FAF2D8" stroke="none" stroke-width="1" stroke-linejoin="round" />
<path d="M529.4 395C529.3 399.1 530.1 399.8 528.5 401.5C526.9 403.2 523.8 404.9 520 405.5C516.2 406.1 511 406.1 506 405C501 403.9 495 401.7 490 399C485 396.3 480.3 393 476 389C471.7 385 467.3 380 464 375C460.7 370 457.9 364 456 359C454.1 354 453.2 350.7 452.5 345C451.8 339.3 451.6 330.7 452 325C452.4 319.3 453.7 314.5 455 311C456.3 307.5 458.4 305.5 460 304C461.6 302.5 463.1 301.5 464.5 302C465.9 302.5 467.1 304.6 468.5 307C469.9 309.4 470.1 314 473 316.5C475.9 319 481.5 321.4 486 322C490.5 322.6 496 321.5 500 320C504 318.5 507.3 315.5 510 313C512.7 310.5 514.2 307.1 516 305C517.8 302.9 519.2 301 521 300.5C522.8 300 525.3 300.2 526.5 302C527.7 303.8 527.8 307.5 528 311C528.2 314.5 528.7 319.7 528 323C527.3 326.3 526 328.3 524 331C522 333.7 518.1 336.3 516 339C513.9 341.7 512.3 344.2 511.5 347C510.7 349.8 510.4 353 511 356C511.6 359 512.8 362.5 515 365C517.2 367.5 521.7 369 524 371C526.3 373 528.1 373 529 377C529.9 381 529.5 390.9 529.4 395Z" fill="#fff" stroke="none" stroke-width="1" stroke-linejoin="round" />
<path d="M535.8 395C536 399.1 535.3 399.8 537 401.5C538.7 403.2 542.2 404.8 546 405C549.8 405.2 555 404.3 560 403C565 401.7 571 399.5 576 397C581 394.5 585.7 391.7 590 388C594.3 384.3 598.7 379.8 602 375C605.3 370.2 608 364 610 359C612 354 613 349.7 614 345C615 340.3 616 335.7 616 331C616 326.3 615.3 321.2 614 317C612.7 312.8 610 308.7 608 306C606 303.3 603.8 301.2 602 301C600.2 300.8 598.7 302.5 597.5 304.5C596.3 306.5 596.2 310.2 595 313C593.8 315.8 592.5 319 590 321C587.5 323 584 324.7 580 325C576 325.3 570.2 324.7 566 323C561.8 321.3 558 317.9 555 315C552 312.1 550.2 307.9 548 305.5C545.8 303.1 543.8 301 542 300.5C540.2 300 538.2 300.8 537.2 302.5C536.2 304.2 536.2 307.6 536 311C535.8 314.4 535.3 319.7 536 323C536.7 326.3 538 328.4 540 331C542 333.6 545.8 335.8 548 338.5C550.2 341.2 552.1 344.1 553 347C553.9 349.9 554.2 353 553.6 356C553 359 551.8 362.5 549.5 365C547.2 367.5 542.2 369 540 371C537.8 373 536.7 373 536 377C535.3 381 535.6 390.9 535.8 395Z" fill="#fff" stroke="none" stroke-width="1" stroke-linejoin="round" />
<path d="M528 323L524 331L516 339L511.5 347L511 356L515 365L524 371L529 377L529.4 395L535.8 395L536 377L540 371L549.5 365L553.6 356L553 347L548 338.5L540 331L536 323Z" fill="#FAF2D8" stroke="none" stroke-width="1" stroke-linejoin="round" />
<path d="M529.4 395C529.3 399.1 530.1 399.8 528.5 401.5C526.9 403.2 523.8 404.9 520 405.5C516.2 406.1 511 406.1 506 405C501 403.9 495 401.7 490 399C485 396.3 480.3 393 476 389C471.7 385 467.3 380 464 375C460.7 370 457.9 364 456 359C454.1 354 453.2 350.7 452.5 345C451.8 339.3 451.6 330.7 452 325C452.4 319.3 453.7 314.5 455 311C456.3 307.5 458.4 305.5 460 304C461.6 302.5 463.1 301.5 464.5 302C465.9 302.5 467.1 304.6 468.5 307C469.9 309.4 470.1 314 473 316.5C475.9 319 481.5 321.4 486 322C490.5 322.6 496 321.5 500 320C504 318.5 507.3 315.5 510 313C512.7 310.5 514.2 307.1 516 305C517.8 302.9 519.2 301 521 300.5C522.8 300 525.3 300.2 526.5 302C527.7 303.8 527.8 307.5 528 311C528.2 314.5 528.7 319.7 528 323C527.3 326.3 526 328.3 524 331C522 333.7 518.1 336.3 516 339C513.9 341.7 512.3 344.2 511.5 347C510.7 349.8 510.4 353 511 356C511.6 359 512.8 362.5 515 365C517.2 367.5 521.7 369 524 371C526.3 373 528.1 373 529 377C529.9 381 529.5 390.9 529.4 395Z" fill="none" stroke="#A84C43" stroke-width="5" stroke-linecap="butt" stroke-linejoin="round"/>
<path d="M535.8 395C536 399.1 535.3 399.8 537 401.5C538.7 403.2 542.2 404.8 546 405C549.8 405.2 555 404.3 560 403C565 401.7 571 399.5 576 397C581 394.5 585.7 391.7 590 388C594.3 384.3 598.7 379.8 602 375C605.3 370.2 608 364 610 359C612 354 613 349.7 614 345C615 340.3 616 335.7 616 331C616 326.3 615.3 321.2 614 317C612.7 312.8 610 308.7 608 306C606 303.3 603.8 301.2 602 301C600.2 300.8 598.7 302.5 597.5 304.5C596.3 306.5 596.2 310.2 595 313C593.8 315.8 592.5 319 590 321C587.5 323 584 324.7 580 325C576 325.3 570.2 324.7 566 323C561.8 321.3 558 317.9 555 315C552 312.1 550.2 307.9 548 305.5C545.8 303.1 543.8 301 542 300.5C540.2 300 538.2 300.8 537.2 302.5C536.2 304.2 536.2 307.6 536 311C535.8 314.4 535.3 319.7 536 323C536.7 326.3 538 328.4 540 331C542 333.6 545.8 335.8 548 338.5C550.2 341.2 552.1 344.1 553 347C553.9 349.9 554.2 353 553.6 356C553 359 551.8 362.5 549.5 365C547.2 367.5 542.2 369 540 371C537.8 373 536.7 373 536 377C535.3 381 535.6 390.9 535.8 395Z" fill="none" stroke="#A84C43" stroke-width="5" stroke-linecap="butt" stroke-linejoin="round"/>
<path d="M529.4 395C529.3 399.1 530.1 399.8 528.5 401.5C526.9 403.2 523.8 404.9 520 405.5C516.2 406.1 511 406.1 506 405C501 403.9 495 401.7 490 399C485 396.3 480.3 393 476 389C471.7 385 467.3 380 464 375C460.7 370 457.9 364 456 359C454.1 354 453.2 350.7 452.5 345C451.8 339.3 451.6 330.7 452 325C452.4 319.3 453.7 314.5 455 311C456.3 307.5 458.4 305.5 460 304C461.6 302.5 463.1 301.5 464.5 302C465.9 302.5 467.1 304.6 468.5 307C469.9 309.4 470.1 314 473 316.5C475.9 319 481.5 321.4 486 322C490.5 322.6 496 321.5 500 320C504 318.5 507.3 315.5 510 313C512.7 310.5 514.2 307.1 516 305C517.8 302.9 519.2 301 521 300.5C522.8 300 525.3 300.2 526.5 302C527.7 303.8 527.8 307.5 528 311C528.2 314.5 528.7 319.7 528 323C527.3 326.3 526 328.3 524 331C522 333.7 518.1 336.3 516 339C513.9 341.7 512.3 344.2 511.5 347C510.7 349.8 510.4 353 511 356C511.6 359 512.8 362.5 515 365C517.2 367.5 521.7 369 524 371C526.3 373 528.1 373 529 377C529.9 381 529.5 390.9 529.4 395Z" fill="none" stroke="#DB9A8E" stroke-width="3.2" stroke-linecap="butt" stroke-linejoin="round"/>
<path d="M535.8 395C536 399.1 535.3 399.8 537 401.5C538.7 403.2 542.2 404.8 546 405C549.8 405.2 555 404.3 560 403C565 401.7 571 399.5 576 397C581 394.5 585.7 391.7 590 388C594.3 384.3 598.7 379.8 602 375C605.3 370.2 608 364 610 359C612 354 613 349.7 614 345C615 340.3 616 335.7 616 331C616 326.3 615.3 321.2 614 317C612.7 312.8 610 308.7 608 306C606 303.3 603.8 301.2 602 301C600.2 300.8 598.7 302.5 597.5 304.5C596.3 306.5 596.2 310.2 595 313C593.8 315.8 592.5 319 590 321C587.5 323 584 324.7 580 325C576 325.3 570.2 324.7 566 323C561.8 321.3 558 317.9 555 315C552 312.1 550.2 307.9 548 305.5C545.8 303.1 543.8 301 542 300.5C540.2 300 538.2 300.8 537.2 302.5C536.2 304.2 536.2 307.6 536 311C535.8 314.4 535.3 319.7 536 323C536.7 326.3 538 328.4 540 331C542 333.6 545.8 335.8 548 338.5C550.2 341.2 552.1 344.1 553 347C553.9 349.9 554.2 353 553.6 356C553 359 551.8 362.5 549.5 365C547.2 367.5 542.2 369 540 371C537.8 373 536.7 373 536 377C535.3 381 535.6 390.9 535.8 395Z" fill="none" stroke="#DB9A8E" stroke-width="3.2" stroke-linecap="butt" stroke-linejoin="round"/>
<path d="M485.5 425C487.4 424.8 493 424.1 497 423.6C501 423.1 506.8 422.7 509.5 422C512.2 421.3 513 420.1 513.2 419.2C513.4 418.3 512.7 417.4 510.5 416.5C508.3 415.6 504.1 415.1 500 414C495.9 412.9 491 412.2 486 410C481 407.8 475.3 404.8 470 401C464.7 397.2 458.7 392.3 454 387C449.3 381.7 445.2 375 442 369C438.8 363 436.8 356.7 435 351C433.2 345.3 432.2 340.2 431.5 335C430.8 329.8 430.6 325 431 320C431.4 315 432.7 309.7 433.6 305C434.5 300.3 435.1 296.3 436.5 292C437.9 287.7 440.2 282.8 442 279.4C443.8 276 445.3 274 447 271.5C448.7 269 449.5 267.8 452 264.5C454.5 261.2 458.7 255.9 462 251.5C465.3 247.1 468.7 242.6 472 238C475.3 233.4 478.3 228.4 482 224C485.7 219.6 490 214.9 494 211.5C498 208.1 502 205.6 506 203.6C510 201.6 513.8 200.2 518 199.4C522.2 198.6 526.5 198.6 531 198.6C535.5 198.6 540.5 198.6 545 199.4C549.5 200.2 554 201.6 558 203.6C562 205.6 565.2 208.1 569 211.5C572.8 214.9 576.9 219.6 580.5 224C584.1 228.4 587.2 232.8 590.5 238C593.8 243.2 597.2 249.5 600.5 255C603.8 260.5 607.4 266 610.5 271C613.6 276 616.3 279.7 619 285C621.7 290.3 624.7 297.2 626.5 303C628.3 308.8 629.3 314.7 630 320C630.7 325.3 630.8 329.8 630.5 335C630.2 340.2 629.8 345.3 628.5 351C627.2 356.7 625.4 363.3 622.5 369C619.6 374.7 615.6 380 611 385C606.4 390 600.2 395 595 399C589.8 403 585.2 406.3 580 409C574.8 411.7 568.1 413.6 564 415C559.9 416.4 557.5 416.6 555.5 417.5C553.5 418.4 552.3 419.3 552.3 420.3C552.3 421.3 552.9 422.6 555.5 423.3C558.1 424.1 563.1 424.3 568 424.8C572.9 425.3 582.2 426.1 585 426.3" fill="none" stroke="#4A7AC0" stroke-width="5.2" stroke-linecap="butt" stroke-linejoin="round"/>
<path d="M485.5 425C487.4 424.8 493 424.1 497 423.6C501 423.1 506.8 422.7 509.5 422C512.2 421.3 513 420.1 513.2 419.2C513.4 418.3 512.7 417.4 510.5 416.5C508.3 415.6 504.1 415.1 500 414C495.9 412.9 491 412.2 486 410C481 407.8 475.3 404.8 470 401C464.7 397.2 458.7 392.3 454 387C449.3 381.7 445.2 375 442 369C438.8 363 436.8 356.7 435 351C433.2 345.3 432.2 340.2 431.5 335C430.8 329.8 430.6 325 431 320C431.4 315 432.7 309.7 433.6 305C434.5 300.3 435.1 296.3 436.5 292C437.9 287.7 440.2 282.8 442 279.4C443.8 276 445.3 274 447 271.5C448.7 269 449.5 267.8 452 264.5C454.5 261.2 458.7 255.9 462 251.5C465.3 247.1 468.7 242.6 472 238C475.3 233.4 478.3 228.4 482 224C485.7 219.6 490 214.9 494 211.5C498 208.1 502 205.6 506 203.6C510 201.6 513.8 200.2 518 199.4C522.2 198.6 526.5 198.6 531 198.6C535.5 198.6 540.5 198.6 545 199.4C549.5 200.2 554 201.6 558 203.6C562 205.6 565.2 208.1 569 211.5C572.8 214.9 576.9 219.6 580.5 224C584.1 228.4 587.2 232.8 590.5 238C593.8 243.2 597.2 249.5 600.5 255C603.8 260.5 607.4 266 610.5 271C613.6 276 616.3 279.7 619 285C621.7 290.3 624.7 297.2 626.5 303C628.3 308.8 629.3 314.7 630 320C630.7 325.3 630.8 329.8 630.5 335C630.2 340.2 629.8 345.3 628.5 351C627.2 356.7 625.4 363.3 622.5 369C619.6 374.7 615.6 380 611 385C606.4 390 600.2 395 595 399C589.8 403 585.2 406.3 580 409C574.8 411.7 568.1 413.6 564 415C559.9 416.4 557.5 416.6 555.5 417.5C553.5 418.4 552.3 419.3 552.3 420.3C552.3 421.3 552.9 422.6 555.5 423.3C558.1 424.1 563.1 424.3 568 424.8C572.9 425.3 582.2 426.1 585 426.3" fill="none" stroke="#A3C6F0" stroke-width="3.4" stroke-linecap="butt" stroke-linejoin="round"/>
<rect x="519.3" y="207.2" width="24.6" height="37" rx="8" ry="8" fill="#A3C6F0" stroke="#4A7AC0" stroke-width="0.9"/>
<path d="M530.2 212.4L529.2 208.4M531.7 212.3L532 208.4M533.1 212.7L534.9 208.3M534.1 213.3L537.8 208.6M535 214.1L540.3 210M535.5 215.1L542.1 212.3M535.8 216.2L542.7 215.1M535.9 218.2L542.7 218.2M535.9 221.4L542.7 221.4M535.9 224.6L542.7 224.6M535.9 227.8L542.7 227.8M535.9 231.1L542.7 231.1M535.9 234.2L542.7 234.3M535.7 235.3L542.6 237.2M535.3 236.4L541.6 239.9M534.6 237.3L539.6 242M533.7 238L536.9 243M532.6 238.5L533.9 243M531.2 238.7L531.1 243M529.8 238.5L528.2 243.1M528.7 237.9L525.4 242.8M527.8 237.1L522.8 241.3M527.2 236.1L521.1 239M526.8 235L520.5 236.2M526.7 233.2L520.5 233.2M526.7 230L520.5 230M526.7 226.8L520.5 226.8M526.7 223.6L520.5 223.6M526.7 220.3L520.5 220.3M526.7 217.1L520.5 217.1M526.8 215.8L520.6 214.2M527.3 214.7L521.6 211.5M528 213.7L523.6 209.4M529 212.9L526.3 208.4" stroke="#6790CC" stroke-width="0.5" fill="none"/>
<rect x="527.9" y="213.5" width="6.8" height="24" rx="3.4" ry="3.4" fill="#fff" stroke="#4A7AC0" stroke-width="0.9"/>
<ellipse cx="530.2" cy="255.3" rx="5" ry="4.6" fill="#D79283" stroke="#A84C43" stroke-width="1" transform="rotate(0 530.2 255.3)"/>
<path d="M552 217C553 215.7 554.7 214.6 556.3 214.3C557.9 214 560.2 214.3 561.8 215.3C563.3 216.3 564.5 218.3 565.6 220.2C566.7 222.1 566.9 224.8 568.3 226.8C569.6 228.8 571.9 230.4 573.7 232.2C575.5 234 577.6 235.7 579.2 237.7C580.8 239.7 582 241.7 583.5 244.2C585 246.7 586.4 250.2 587.9 252.9C589.4 255.6 590.9 258.1 592.3 260.5C593.7 262.9 595.4 265.2 596.1 267C596.8 268.8 597 270 596.6 271.4C596.2 272.8 594.9 274.5 593.9 275.2C592.9 275.9 591.6 276.6 590.6 275.8C589.6 275 589.1 272.3 587.9 270.3C586.7 268.3 585 265.6 583.5 263.8C582 262 581 260.4 579.2 259.4C577.4 258.4 574.9 258.9 572.7 257.8C570.5 256.7 567.8 255 566.1 252.9C564.4 250.8 563.2 248 562.3 245.3C561.4 242.6 561.1 239.1 560.7 236.6C560.3 234.1 560.8 231.2 560.1 230.6C559.4 230 557.6 232.5 556.3 232.8C554.9 233.1 553.2 232.9 552 232.2C550.8 231.5 549.6 230 549.3 228.4C549 226.8 549.8 224.3 550.3 222.4C550.8 220.5 551 218.3 552 217Z" fill="#E9CBC2" stroke="#CCA097" stroke-width="0.9" stroke-dasharray="3.5 1"/>
<path d="M510 215.9C511.4 216.3 511.8 218.4 512.2 220.2C512.6 222 512.7 224.7 512.2 226.8C511.7 228.9 510.7 231.2 509.4 232.8C508.1 234.4 506 236.1 504.5 236.6C503 237.1 501.3 235.8 500.2 236C499.1 236.2 498.6 236.5 498 237.7C497.4 238.9 497.5 241.1 496.9 243.1C496.3 245.1 495.6 247.6 494.2 249.6C492.8 251.6 490.7 253.5 488.7 255.1C486.7 256.7 484.4 258.1 482.2 259.4C480 260.7 477.7 261.6 475.7 262.7C473.7 263.8 471.4 264.6 470.2 266C469 267.4 469.1 269.8 468.6 271.4C468.1 273 467.7 274.8 467 275.8C466.3 276.8 465.2 277.6 464.3 277.4C463.4 277.2 462.2 276.1 461.7 274.7C461.2 273.3 461.2 271 461.5 269.2C461.8 267.4 462.4 266 463.7 263.8C465 261.6 467.2 258.9 469.2 256.2C471.2 253.5 473.5 250.4 475.7 247.5C477.9 244.6 479.8 241.6 482.2 238.7C484.6 235.8 487.2 232.7 489.8 230C492.4 227.3 495.1 224.5 497.5 222.4C499.9 220.3 501.9 218.6 504 217.5C506.1 216.4 508.6 215.5 510 215.9Z" fill="#E9CBC2" stroke="#CCA097" stroke-width="0.9" stroke-dasharray="3.5 1"/>
<path d="M560.1 229.5C560 229 560 227.3 559.6 226.5C559.2 225.7 558.6 224.9 558 224.5C557.4 224.1 556.5 223.9 556 224C555.5 224.1 554.9 224.7 554.7 225.2C554.5 225.7 554.5 226.6 554.8 227C555.1 227.4 556 227.8 556.3 227.9" fill="none" stroke="#CCA097" stroke-width="0.8"/>
<path d="M500.2 236C500 235.4 498.9 233.4 499.1 232.2C499.3 231 500.5 229.6 501.3 229C502.1 228.4 503.4 228.1 504 228.4C504.6 228.7 505.2 230 505.1 230.6C505 231.2 503.8 231.8 503.5 232" fill="none" stroke="#CCA097" stroke-width="0.8"/>
<path d="M532.9 267.4C535.1 267.6 537.8 268.4 539.5 270C541.2 271.6 542.7 274.3 543.3 277C543.9 279.7 543.8 283.4 543 286C542.2 288.6 540.3 291 538.5 292.5C536.7 294 534.2 294.9 532 295C529.8 295.1 527.3 294.2 525.5 293C523.7 291.8 522 289.5 521 287.5C520 285.5 519.5 283.2 519.6 281C519.7 278.8 520.4 276 521.5 274C522.6 272 524.6 270.1 526.5 269C528.4 267.9 530.7 267.2 532.9 267.4Z" fill="#fff" stroke="none" stroke-width="1" stroke-linejoin="round" />
<path d="M521.2 283.5C521.4 284.3 521.8 287.1 522.6 288.5C523.4 289.9 525.3 291.2 525.8 291.8" fill="none" stroke="#E7A59D" stroke-width="3.6" stroke-linecap="round"/>
<path d="M533.5 293.5C534.2 293.1 536.6 292.2 537.8 291.2C539 290.2 540.3 288.1 540.8 287.5" fill="none" stroke="#E7A59D" stroke-width="3.6" stroke-linecap="round"/>
<path d="M542 276.5C542 277.2 542.3 279.6 542.3 281C542.2 282.4 541.8 284.3 541.7 285" fill="none" stroke="#E7A59D" stroke-width="3.6" stroke-linecap="round"/>
<path d="M522.8 273C523.2 272.6 524.1 271.2 525 270.6C525.9 270 527.5 269.4 528 269.2" fill="none" stroke="#E7A59D" stroke-width="3.6" stroke-linecap="round"/>
<path d="M532.9 267.4C535.1 267.6 537.8 268.4 539.5 270C541.2 271.6 542.7 274.3 543.3 277C543.9 279.7 543.8 283.4 543 286C542.2 288.6 540.3 291 538.5 292.5C536.7 294 534.2 294.9 532 295C529.8 295.1 527.3 294.2 525.5 293C523.7 291.8 522 289.5 521 287.5C520 285.5 519.5 283.2 519.6 281C519.7 278.8 520.4 276 521.5 274C522.6 272 524.6 270.1 526.5 269C528.4 267.9 530.7 267.2 532.9 267.4Z" fill="none" stroke="#A3202E" stroke-width="1.6" stroke-linejoin="round" />
<ellipse cx="480.3" cy="286.6" rx="7.2" ry="3.6" fill="#E7A59D" stroke="#A3202E" stroke-width="1.3" transform="rotate(-42 480.3 286.6)"/>
<ellipse cx="479.4" cy="285.8" rx="5" ry="1.8" fill="#fff" transform="rotate(-42 480.3 286.6)"/>
<ellipse cx="583.4" cy="286" rx="7.4" ry="3.8" fill="#E7A59D" stroke="#A3202E" stroke-width="1.3" transform="rotate(38 583.4 286)"/>
<ellipse cx="582.5" cy="285.2" rx="5.2" ry="1.9" fill="#fff" transform="rotate(38 583.4 286)"/>
<ellipse cx="498" cy="294.6" rx="5.4" ry="4" fill="#D0CC9B" stroke="#7C7840" stroke-width="0.9" transform="rotate(10 498 294.6)"/>
<ellipse cx="498" cy="294.6" rx="2.4" ry="1.8" fill="#EFECCF" stroke="#7C7840" stroke-width="0.6" transform="rotate(10 498 294.6)"/>
<path d="M500.3 295.1L502.9 295.7M498.5 296.4L499.1 298.3M496.2 295.8L494.2 297.2M495.7 294.1L493.1 293.5M497.5 292.8L496.9 290.9M499.8 293.4L501.8 292" stroke="#7C7840" stroke-width="0.4" fill="none" transform="rotate(10 498 294.6)"/>
<ellipse cx="509" cy="298" rx="6" ry="4.2" fill="#D0CC9B" stroke="#7C7840" stroke-width="0.9" transform="rotate(-5 509 298)"/>
<ellipse cx="509" cy="298" rx="2.7" ry="1.9" fill="#EFECCF" stroke="#7C7840" stroke-width="0.6" transform="rotate(-5 509 298)"/>
<path d="M511.6 298.6L514.4 299.2M509.6 299.8L510.3 301.9M507 299.3L504.8 300.7M506.4 297.4L503.6 296.8M508.4 296.2L507.7 294.1M511 296.7L513.2 295.3" stroke="#7C7840" stroke-width="0.4" fill="none" transform="rotate(-5 509 298)"/>
<ellipse cx="488" cy="299" rx="6" ry="3.8" fill="#D0CC9B" stroke="#7C7840" stroke-width="0.9" transform="rotate(10 488 299)"/>
<ellipse cx="488" cy="299" rx="2.7" ry="1.7" fill="#EFECCF" stroke="#7C7840" stroke-width="0.6" transform="rotate(10 488 299)"/>
<path d="M490.6 299.5L493.4 300.1M488.6 300.7L489.3 302.5M486 300.2L483.8 301.5M485.4 298.5L482.6 297.9M487.4 297.3L486.7 295.5M490 297.8L492.2 296.5" stroke="#7C7840" stroke-width="0.4" fill="none" transform="rotate(10 488 299)"/>
<ellipse cx="477" cy="302.6" rx="6" ry="4" fill="#D0CC9B" stroke="#7C7840" stroke-width="0.9" transform="rotate(15 477 302.6)"/>
<ellipse cx="477" cy="302.6" rx="2.7" ry="1.8" fill="#EFECCF" stroke="#7C7840" stroke-width="0.6" transform="rotate(15 477 302.6)"/>
<path d="M479.6 303.1L482.4 303.7M477.6 304.4L478.3 306.3M475 303.8L472.8 305.2M474.4 302.1L471.6 301.5M476.4 300.8L475.7 298.9M479 301.4L481.2 300" stroke="#7C7840" stroke-width="0.4" fill="none" transform="rotate(15 477 302.6)"/>
<ellipse cx="501" cy="304.6" rx="5.4" ry="3.6" fill="#D0CC9B" stroke="#7C7840" stroke-width="0.9" transform="rotate(-10 501 304.6)"/>
<ellipse cx="501" cy="304.6" rx="2.4" ry="1.6" fill="#EFECCF" stroke="#7C7840" stroke-width="0.6" transform="rotate(-10 501 304.6)"/>
<path d="M503.3 305.1L505.9 305.6M501.5 306.2L502.1 307.9M499.2 305.7L497.2 306.9M498.7 304.1L496.1 303.6M500.5 303L499.9 301.3M502.8 303.5L504.8 302.3" stroke="#7C7840" stroke-width="0.4" fill="none" transform="rotate(-10 501 304.6)"/>
<ellipse cx="487" cy="308" rx="4.6" ry="4" fill="#D0CC9B" stroke="#7C7840" stroke-width="0.9" transform="rotate(0 487 308)"/>
<ellipse cx="487" cy="308" rx="2.1" ry="1.8" fill="#EFECCF" stroke="#7C7840" stroke-width="0.6" transform="rotate(0 487 308)"/>
<path d="M489 308.5L491.2 309.1M487.5 309.8L488 311.7M485.5 309.2L483.8 310.6M485 307.5L482.8 306.9M486.5 306.2L486 304.3M488.5 306.8L490.2 305.4" stroke="#7C7840" stroke-width="0.4" fill="none" transform="rotate(0 487 308)"/>
<ellipse cx="479" cy="312.6" rx="6" ry="4" fill="#D0CC9B" stroke="#7C7840" stroke-width="0.9" transform="rotate(10 479 312.6)"/>
<ellipse cx="479" cy="312.6" rx="2.7" ry="1.8" fill="#EFECCF" stroke="#7C7840" stroke-width="0.6" transform="rotate(10 479 312.6)"/>
<path d="M481.6 313.1L484.4 313.7M479.6 314.4L480.3 316.3M477 313.8L474.8 315.2M476.4 312.1L473.6 311.5M478.4 310.8L477.7 308.9M481 311.4L483.2 310" stroke="#7C7840" stroke-width="0.4" fill="none" transform="rotate(10 479 312.6)"/>
<ellipse cx="496" cy="312.6" rx="5.6" ry="4" fill="#D0CC9B" stroke="#7C7840" stroke-width="0.9" transform="rotate(-15 496 312.6)"/>
<ellipse cx="496" cy="312.6" rx="2.5" ry="1.8" fill="#EFECCF" stroke="#7C7840" stroke-width="0.6" transform="rotate(-15 496 312.6)"/>
<path d="M498.4 313.1L501.1 313.7M496.6 314.4L497.2 316.3M494.2 313.8L492.1 315.2M493.6 312.1L490.9 311.5M495.4 310.8L494.8 308.9M497.8 311.4L499.9 310" stroke="#7C7840" stroke-width="0.4" fill="none" transform="rotate(-15 496 312.6)"/>
<ellipse cx="556" cy="306" rx="4.4" ry="5.6" fill="#D0CC9B" stroke="#7C7840" stroke-width="0.9" transform="rotate(-10 556 306)"/>
<ellipse cx="556" cy="306" rx="2" ry="2.5" fill="#EFECCF" stroke="#7C7840" stroke-width="0.6" transform="rotate(-10 556 306)"/>
<path d="M557.9 306.7L560 307.6M556.4 308.5L556.9 311.2M554.5 307.7L552.9 309.6M554.1 305.3L552 304.4M555.6 303.5L555.1 300.8M557.5 304.3L559.1 302.4" stroke="#7C7840" stroke-width="0.4" fill="none" transform="rotate(-10 556 306)"/>
<ellipse cx="567" cy="302" rx="5.6" ry="4.4" fill="#D0CC9B" stroke="#7C7840" stroke-width="0.9" transform="rotate(-20 567 302)"/>
<ellipse cx="567" cy="302" rx="2.5" ry="2" fill="#EFECCF" stroke="#7C7840" stroke-width="0.6" transform="rotate(-20 567 302)"/>
<path d="M569.4 302.6L572.1 303.2M567.6 303.9L568.2 306.1M565.2 303.3L563.1 304.8M564.6 301.4L561.9 300.8M566.4 300.1L565.8 297.9M568.8 300.7L570.9 299.2" stroke="#7C7840" stroke-width="0.4" fill="none" transform="rotate(-20 567 302)"/>
<ellipse cx="580" cy="297" rx="5.6" ry="4" fill="#D0CC9B" stroke="#7C7840" stroke-width="0.9" transform="rotate(10 580 297)"/>
<ellipse cx="580" cy="297" rx="2.5" ry="1.8" fill="#EFECCF" stroke="#7C7840" stroke-width="0.6" transform="rotate(10 580 297)"/>
<path d="M582.4 297.5L585.1 298.1M580.6 298.8L581.2 300.7M578.2 298.2L576.1 299.6M577.6 296.5L574.9 295.9M579.4 295.2L578.8 293.3M581.8 295.8L583.9 294.4" stroke="#7C7840" stroke-width="0.4" fill="none" transform="rotate(10 580 297)"/>
<ellipse cx="578" cy="304" rx="4" ry="3.2" fill="#D0CC9B" stroke="#7C7840" stroke-width="0.9" transform="rotate(0 578 304)"/>
<ellipse cx="578" cy="304" rx="1.8" ry="1.4" fill="#EFECCF" stroke="#7C7840" stroke-width="0.6" transform="rotate(0 578 304)"/>
<path d="M579.7 304.4L581.6 304.9M578.4 305.4L578.8 307M576.7 305L575.2 306.1M576.3 303.6L574.4 303.1M577.6 302.6L577.2 301M579.3 303L580.8 301.9" stroke="#7C7840" stroke-width="0.4" fill="none" transform="rotate(0 578 304)"/>
<ellipse cx="588" cy="308" rx="5" ry="4" fill="#D0CC9B" stroke="#7C7840" stroke-width="0.9" transform="rotate(-20 588 308)"/>
<ellipse cx="588" cy="308" rx="2.2" ry="1.8" fill="#EFECCF" stroke="#7C7840" stroke-width="0.6" transform="rotate(-20 588 308)"/>
<path d="M590.1 308.5L592.5 309.1M588.5 309.8L589.1 311.7M586.3 309.2L584.5 310.6M585.9 307.5L583.5 306.9M587.5 306.2L586.9 304.3M589.7 306.8L591.5 305.4" stroke="#7C7840" stroke-width="0.4" fill="none" transform="rotate(-20 588 308)"/>
<ellipse cx="578" cy="312" rx="4.4" ry="5" fill="#D0CC9B" stroke="#7C7840" stroke-width="0.9" transform="rotate(10 578 312)"/>
<ellipse cx="578" cy="312" rx="2" ry="2.2" fill="#EFECCF" stroke="#7C7840" stroke-width="0.6" transform="rotate(10 578 312)"/>
<path d="M579.9 312.7L582 313.4M578.4 314.2L578.9 316.6M576.5 313.5L574.9 315.2M576.1 311.3L574 310.6M577.6 309.8L577.1 307.4M579.5 310.5L581.1 308.8" stroke="#7C7840" stroke-width="0.4" fill="none" transform="rotate(10 578 312)"/>
<ellipse cx="567" cy="314.6" rx="4.6" ry="5" fill="#D0CC9B" stroke="#7C7840" stroke-width="0.9" transform="rotate(0 567 314.6)"/>
<ellipse cx="567" cy="314.6" rx="2.1" ry="2.2" fill="#EFECCF" stroke="#7C7840" stroke-width="0.6" transform="rotate(0 567 314.6)"/>
<path d="M569 315.3L571.2 316M567.5 316.8L568 319.2M565.5 316.1L563.8 317.8M565 313.9L562.8 313.2M566.5 312.4L566 310M568.5 313.1L570.2 311.4" stroke="#7C7840" stroke-width="0.4" fill="none" transform="rotate(0 567 314.6)"/>
<ellipse cx="532.3" cy="352" rx="10.9" ry="14.3" fill="#F8E78C" stroke="#E2CC55" stroke-width="0.8" transform="rotate(0 532.3 352)"/>
<path d="M539.9 353.1L542.5 353.4M539.5 355.3L542.1 356.2M538.9 357.4L541.2 358.8M538 359.2L540 361.1M536.8 360.7L538.4 363M535.4 361.8L536.5 364.5M533.9 362.6L534.5 365.4M532.3 362.8L532.3 365.7M530.8 362.6L530.2 365.4M529.2 361.9L528.2 364.5M527.9 360.8L526.3 363.1M526.7 359.3L524.7 361.2M525.7 357.4L523.4 358.9M525.1 355.4L522.5 356.3M524.7 353.2L522.1 353.5M524.7 350.9L522.1 350.6M525.1 348.7L522.5 347.8M525.7 346.6L523.4 345.2M526.6 344.8L524.6 342.9M527.8 343.3L526.2 341M529.2 342.2L528.1 339.5M530.7 341.4L530.1 338.6M532.3 341.2L532.3 338.3M533.8 341.4L534.4 338.6M535.4 342.1L536.4 339.5M536.7 343.2L538.3 340.9M537.9 344.7L539.9 342.8M538.9 346.6L541.2 345.1M539.5 348.6L542.1 347.7M539.9 350.8L542.5 350.5" stroke="#A8952F" stroke-width="0.5" fill="none"/>
<ellipse cx="532.3" cy="352" rx="7" ry="10.2" fill="#fff" stroke="#E2CC55" stroke-width="0.8" transform="rotate(0 532.3 352)"/>
<!-- panelE -->
<path d="M352 440C348.3 439.9 344 440.2 340 441C336 441.8 332 443.2 328 445C324 446.8 320 448.8 316 452C312 455.2 307.7 459.3 304 464C300.3 468.7 297 474.3 294 480C291 485.7 288.3 492 286 498C283.7 504 282 510.7 280 516C278 521.3 276 526.3 274 530C272 533.7 270.7 534.3 268 538C265.3 541.7 260.8 547.3 258 552C255.2 556.7 253.1 561.3 251 566C248.9 570.7 247.1 575.3 245.5 580C243.9 584.7 242.9 589 241.5 594C240.1 599 238.1 605 237 610C235.9 615 235 619.3 235 624C235 628.7 235.7 633 236.8 638C237.9 643 239.5 648.3 241.5 654C243.5 659.7 245.9 666.4 249 672C252.1 677.6 255.5 683 260 687.5C264.5 692 270.7 695.8 276 699C281.3 702.2 285.5 704.3 292 706.5C298.5 708.7 307.8 710.7 315 712C322.2 713.3 329 713.8 335 714.3C341 714.8 345.5 714.8 351 714.8C356.5 714.8 362.3 714.5 368 714C373.7 713.5 380.2 712.6 385 711.5C389.8 710.4 392.4 709.2 397 707.3C401.6 705.4 407 703.1 412.5 700C418 696.9 424.7 692.8 430 688.5C435.3 684.2 440.5 679.4 444.5 674C448.5 668.6 451.5 662 454 656C456.5 650 458.3 644 459.5 638C460.7 632 461.2 625.7 461 620C460.8 614.3 459.5 609 458.5 604C457.5 599 456.4 595 455 590C453.6 585 451.5 579 450 574C448.5 569 448 565.3 446 560C444 554.7 440.7 547.7 438 542C435.3 536.3 432.3 531.3 430 526C427.7 520.7 425.6 514.8 424 510C422.4 505.2 421.8 500.9 420.5 497C419.2 493.1 418 490.1 416.5 486.6C415 483.1 413.4 479.5 411.5 476.2C409.6 472.9 407.4 469.4 405.4 466.6C403.3 463.8 402.3 462.2 399.2 459.5C396.1 456.8 391 453.1 386.9 450.6C382.8 448.2 378.7 446.4 374.6 444.8C370.5 443.2 366.1 442.1 362.3 441.3C358.5 440.5 355.7 440.1 352 440Z" fill="#FAF2D8" stroke="none" stroke-width="1" stroke-linejoin="round" />
<path d="M269.5 560.8C267.8 560.4 265.4 563 263.5 565.5C261.6 568 259.8 571.9 258 576C256.2 580.1 254.1 585.5 252.5 590C250.9 594.5 249.4 598.7 248.5 603C247.6 607.3 247.1 611.5 246.9 616C246.8 620.5 247 625.2 247.6 630C248.2 634.8 249.2 640.2 250.5 645C251.8 649.8 253.3 654.3 255.6 659C257.9 663.7 260.6 668.7 264 673C267.4 677.3 271.3 681.3 276 685C280.7 688.7 286.3 692.3 292 695C297.7 697.7 304 699.8 310 701C316 702.2 323.2 702.5 328 702.3C332.8 702 335.9 701.2 339 699.5C342.1 697.8 344 692.3 346.5 692.3C349 692.3 351.1 697.8 354 699.5C356.9 701.2 359.7 701.9 364 702.3C368.3 702.7 374.6 702.8 380 701.8C385.4 700.8 390.9 699 396.5 696.5C402.1 694 408.2 690.6 413.5 686.5C418.8 682.4 423.8 677.4 428 672C432.2 666.6 436.1 660 439 654C441.9 648 444.1 642 445.5 636C446.9 630 447.6 623.3 447.5 618C447.4 612.7 446.2 608.5 445 604C443.8 599.5 442 595.5 440 591C438 586.5 435.2 580.5 433 577C430.8 573.5 428.7 570.2 427 570C425.3 569.8 423.5 572.7 423 576C422.5 579.3 424.2 586 424 590C423.8 594 424 597.3 422 600C420 602.7 415.7 604.8 412 606C408.3 607.2 403.7 607.1 400 607.5C396.3 607.9 393.3 607.9 390 608.5C386.7 609.1 383 611.2 380 611C377 610.8 374 609.5 372 607C370 604.5 369.2 599.2 368 596C366.8 592.8 366 591 365 588C364 585 363.2 580.7 362 578C360.8 575.3 359.3 572 358 572C356.7 572 354.7 574.3 354 578C353.3 581.7 353.3 589 354 594C354.7 599 356 604 358 608C360 612 364 614.7 366 618C368 621.3 369.3 624.8 370 628C370.7 631.2 371 634 370 637C369 640 366.7 643.3 364 646C361.3 648.7 356.8 650.6 354 653C351.2 655.4 349.7 660.1 347.5 660.5C345.3 660.9 343.6 657.2 341 655.5C338.4 653.8 335.1 652.2 332 650C328.9 647.8 324.6 645.3 322.5 642C320.4 638.7 319.8 633.5 319.5 630C319.2 626.5 319.1 623.7 320.5 621C321.9 618.3 324.8 616.8 328 614C331.2 611.2 337.2 608 340 604C342.8 600 344.3 594.7 345 590C345.7 585.3 345.2 579.2 344 576C342.8 572.8 339.9 570.7 338 571C336.1 571.3 333.9 575.2 332.5 578C331.1 580.8 329.9 584.7 329.5 588C329.1 591.3 330.9 595.2 330 598C329.1 600.8 326.3 603.2 324 604.5C321.7 605.8 318.7 606 316 606C313.3 606 311.3 604.3 308 604.5C304.7 604.7 300.7 606.8 296 607C291.3 607.2 284.3 607.2 280 606C275.7 604.8 272.2 602.7 270 600C267.8 597.3 266.7 593.7 266.5 590C266.3 586.3 267.8 581.7 269 578C270.2 574.3 273.4 570.9 273.5 568C273.6 565.1 271.2 561.2 269.5 560.8Z" fill="#fff" stroke="none" stroke-width="1" stroke-linejoin="round" />
<path d="M270 561C267.2 563.2 273.7 565.2 273.5 568C273.3 570.8 270.2 574.3 269 578C267.8 581.7 266.3 586.3 266.5 590C266.7 593.7 267.8 597.3 270 600C272.2 602.7 275.7 604.8 280 606C284.3 607.2 291.3 607.2 296 607C300.7 606.8 304.7 604.7 308 604.5C311.3 604.3 313.3 606 316 606C318.7 606 321.7 605.8 324 604.5C326.3 603.2 329.1 600.8 330 598C330.9 595.2 329.1 591.3 329.5 588C329.9 584.7 331.1 580.8 332.5 578C333.9 575.2 340.1 574 338 571C335.9 568 328 562.7 320 560C312 557.3 298.3 554.8 290 555C281.7 555.2 272.8 558.8 270 561Z" fill="#FAF2D8" stroke="none" stroke-width="1" stroke-linejoin="round" />
<path d="M358 572C355 575 360.8 575.3 362 578C363.2 580.7 364 585 365 588C366 591 366.8 592.8 368 596C369.2 599.2 370 604.5 372 607C374 609.5 377 610.8 380 611C383 611.2 386.7 609.1 390 608.5C393.3 607.9 396.3 607.9 400 607.5C403.7 607.1 408.3 607.2 412 606C415.7 604.8 420 602.7 422 600C424 597.3 423.8 594 424 590C424.2 586 422.5 579.3 423 576C423.5 572.7 429.2 573 427 570C424.8 567 417.8 559.7 410 558C402.2 556.3 388.7 557.7 380 560C371.3 562.3 361 569 358 572Z" fill="#FAF2D8" stroke="none" stroke-width="1" stroke-linejoin="round" />
<path d="M338 571C337.3 572.7 342.8 572.8 344 576C345.2 579.2 345.7 585.3 345 590C344.3 594.7 342.8 600 340 604C337.2 608 331.2 611.2 328 614C324.8 616.8 321.9 618.3 320.5 621C319.1 623.7 319.2 626.5 319.5 630C319.8 633.5 320.4 638.7 322.5 642C324.6 645.3 328.9 647.8 332 650C335.1 652.2 338.4 653.8 341 655.5C343.6 657.2 345.3 660.9 347.5 660.5C349.7 660.1 351.2 655.4 354 653C356.8 650.6 361.3 648.7 364 646C366.7 643.3 369 640 370 637C371 634 370.7 631.2 370 628C369.3 624.8 368 621.3 366 618C364 614.7 360 612 358 608C356 604 354.7 599 354 594C353.3 589 353.3 581.7 354 578C354.7 574.3 359 574 358 572C357 570 351.3 566.2 348 566C344.7 565.8 338.7 569.3 338 571Z" fill="#FAF2D8" stroke="none" stroke-width="1" stroke-linejoin="round" />
<path d="M269.5 560.8C267.8 560.4 265.4 563 263.5 565.5C261.6 568 259.8 571.9 258 576C256.2 580.1 254.1 585.5 252.5 590C250.9 594.5 249.4 598.7 248.5 603C247.6 607.3 247.1 611.5 246.9 616C246.8 620.5 247 625.2 247.6 630C248.2 634.8 249.2 640.2 250.5 645C251.8 649.8 253.3 654.3 255.6 659C257.9 663.7 260.6 668.7 264 673C267.4 677.3 271.3 681.3 276 685C280.7 688.7 286.3 692.3 292 695C297.7 697.7 304 699.8 310 701C316 702.2 323.2 702.5 328 702.3C332.8 702 335.9 701.2 339 699.5C342.1 697.8 344 692.3 346.5 692.3C349 692.3 351.1 697.8 354 699.5C356.9 701.2 359.7 701.9 364 702.3C368.3 702.7 374.6 702.8 380 701.8C385.4 700.8 390.9 699 396.5 696.5C402.1 694 408.2 690.6 413.5 686.5C418.8 682.4 423.8 677.4 428 672C432.2 666.6 436.1 660 439 654C441.9 648 444.1 642 445.5 636C446.9 630 447.6 623.3 447.5 618C447.4 612.7 446.2 608.5 445 604C443.8 599.5 442 595.5 440 591C438 586.5 435.2 580.5 433 577C430.8 573.5 428.7 570.2 427 570C425.3 569.8 423.5 572.7 423 576C422.5 579.3 424.2 586 424 590C423.8 594 424 597.3 422 600C420 602.7 415.7 604.8 412 606C408.3 607.2 403.7 607.1 400 607.5C396.3 607.9 393.3 607.9 390 608.5C386.7 609.1 383 611.2 380 611C377 610.8 374 609.5 372 607C370 604.5 369.2 599.2 368 596C366.8 592.8 366 591 365 588C364 585 363.2 580.7 362 578C360.8 575.3 359.3 572 358 572C356.7 572 354.7 574.3 354 578C353.3 581.7 353.3 589 354 594C354.7 599 356 604 358 608C360 612 364 614.7 366 618C368 621.3 369.3 624.8 370 628C370.7 631.2 371 634 370 637C369 640 366.7 643.3 364 646C361.3 648.7 356.8 650.6 354 653C351.2 655.4 349.7 660.1 347.5 660.5C345.3 660.9 343.6 657.2 341 655.5C338.4 653.8 335.1 652.2 332 650C328.9 647.8 324.6 645.3 322.5 642C320.4 638.7 319.8 633.5 319.5 630C319.2 626.5 319.1 623.7 320.5 621C321.9 618.3 324.8 616.8 328 614C331.2 611.2 337.2 608 340 604C342.8 600 344.3 594.7 345 590C345.7 585.3 345.2 579.2 344 576C342.8 572.8 339.9 570.7 338 571C336.1 571.3 333.9 575.2 332.5 578C331.1 580.8 329.9 584.7 329.5 588C329.1 591.3 330.9 595.2 330 598C329.1 600.8 326.3 603.2 324 604.5C321.7 605.8 318.7 606 316 606C313.3 606 311.3 604.3 308 604.5C304.7 604.7 300.7 606.8 296 607C291.3 607.2 284.3 607.2 280 606C275.7 604.8 272.2 602.7 270 600C267.8 597.3 266.7 593.7 266.5 590C266.3 586.3 267.8 581.7 269 578C270.2 574.3 273.4 570.9 273.5 568C273.6 565.1 271.2 561.2 269.5 560.8Z" fill="none" stroke="#A84C43" stroke-width="5.6" stroke-linecap="butt" stroke-linejoin="round"/>
<path d="M269.5 560.8C267.8 560.4 265.4 563 263.5 565.5C261.6 568 259.8 571.9 258 576C256.2 580.1 254.1 585.5 252.5 590C250.9 594.5 249.4 598.7 248.5 603C247.6 607.3 247.1 611.5 246.9 616C246.8 620.5 247 625.2 247.6 630C248.2 634.8 249.2 640.2 250.5 645C251.8 649.8 253.3 654.3 255.6 659C257.9 663.7 260.6 668.7 264 673C267.4 677.3 271.3 681.3 276 685C280.7 688.7 286.3 692.3 292 695C297.7 697.7 304 699.8 310 701C316 702.2 323.2 702.5 328 702.3C332.8 702 335.9 701.2 339 699.5C342.1 697.8 344 692.3 346.5 692.3C349 692.3 351.1 697.8 354 699.5C356.9 701.2 359.7 701.9 364 702.3C368.3 702.7 374.6 702.8 380 701.8C385.4 700.8 390.9 699 396.5 696.5C402.1 694 408.2 690.6 413.5 686.5C418.8 682.4 423.8 677.4 428 672C432.2 666.6 436.1 660 439 654C441.9 648 444.1 642 445.5 636C446.9 630 447.6 623.3 447.5 618C447.4 612.7 446.2 608.5 445 604C443.8 599.5 442 595.5 440 591C438 586.5 435.2 580.5 433 577C430.8 573.5 428.7 570.2 427 570C425.3 569.8 423.5 572.7 423 576C422.5 579.3 424.2 586 424 590C423.8 594 424 597.3 422 600C420 602.7 415.7 604.8 412 606C408.3 607.2 403.7 607.1 400 607.5C396.3 607.9 393.3 607.9 390 608.5C386.7 609.1 383 611.2 380 611C377 610.8 374 609.5 372 607C370 604.5 369.2 599.2 368 596C366.8 592.8 366 591 365 588C364 585 363.2 580.7 362 578C360.8 575.3 359.3 572 358 572C356.7 572 354.7 574.3 354 578C353.3 581.7 353.3 589 354 594C354.7 599 356 604 358 608C360 612 364 614.7 366 618C368 621.3 369.3 624.8 370 628C370.7 631.2 371 634 370 637C369 640 366.7 643.3 364 646C361.3 648.7 356.8 650.6 354 653C351.2 655.4 349.7 660.1 347.5 660.5C345.3 660.9 343.6 657.2 341 655.5C338.4 653.8 335.1 652.2 332 650C328.9 647.8 324.6 645.3 322.5 642C320.4 638.7 319.8 633.5 319.5 630C319.2 626.5 319.1 623.7 320.5 621C321.9 618.3 324.8 616.8 328 614C331.2 611.2 337.2 608 340 604C342.8 600 344.3 594.7 345 590C345.7 585.3 345.2 579.2 344 576C342.8 572.8 339.9 570.7 338 571C336.1 571.3 333.9 575.2 332.5 578C331.1 580.8 329.9 584.7 329.5 588C329.1 591.3 330.9 595.2 330 598C329.1 600.8 326.3 603.2 324 604.5C321.7 605.8 318.7 606 316 606C313.3 606 311.3 604.3 308 604.5C304.7 604.7 300.7 606.8 296 607C291.3 607.2 284.3 607.2 280 606C275.7 604.8 272.2 602.7 270 600C267.8 597.3 266.7 593.7 266.5 590C266.3 586.3 267.8 581.7 269 578C270.2 574.3 273.4 570.9 273.5 568C273.6 565.1 271.2 561.2 269.5 560.8Z" fill="none" stroke="#DB9A8E" stroke-width="3.8" stroke-linecap="butt" stroke-linejoin="round"/>
<path d="M352 440C348.3 439.9 344 440.2 340 441C336 441.8 332 443.2 328 445C324 446.8 320 448.8 316 452C312 455.2 307.7 459.3 304 464C300.3 468.7 297 474.3 294 480C291 485.7 288.3 492 286 498C283.7 504 282 510.7 280 516C278 521.3 276 526.3 274 530C272 533.7 270.7 534.3 268 538C265.3 541.7 260.8 547.3 258 552C255.2 556.7 253.1 561.3 251 566C248.9 570.7 247.1 575.3 245.5 580C243.9 584.7 242.9 589 241.5 594C240.1 599 238.1 605 237 610C235.9 615 235 619.3 235 624C235 628.7 235.7 633 236.8 638C237.9 643 239.5 648.3 241.5 654C243.5 659.7 245.9 666.4 249 672C252.1 677.6 255.5 683 260 687.5C264.5 692 270.7 695.8 276 699C281.3 702.2 285.5 704.3 292 706.5C298.5 708.7 307.8 710.7 315 712C322.2 713.3 329 713.8 335 714.3C341 714.8 345.5 714.8 351 714.8C356.5 714.8 362.3 714.5 368 714C373.7 713.5 380.2 712.6 385 711.5C389.8 710.4 392.4 709.2 397 707.3C401.6 705.4 407 703.1 412.5 700C418 696.9 424.7 692.8 430 688.5C435.3 684.2 440.5 679.4 444.5 674C448.5 668.6 451.5 662 454 656C456.5 650 458.3 644 459.5 638C460.7 632 461.2 625.7 461 620C460.8 614.3 459.5 609 458.5 604C457.5 599 456.4 595 455 590C453.6 585 451.5 579 450 574C448.5 569 448 565.3 446 560C444 554.7 440.7 547.7 438 542C435.3 536.3 432.3 531.3 430 526C427.7 520.7 425.6 514.8 424 510C422.4 505.2 421.8 500.9 420.5 497C419.2 493.1 418 490.1 416.5 486.6C415 483.1 413.4 479.5 411.5 476.2C409.6 472.9 407.4 469.4 405.4 466.6C403.3 463.8 402.3 462.2 399.2 459.5C396.1 456.8 391 453.1 386.9 450.6C382.8 448.2 378.7 446.4 374.6 444.8C370.5 443.2 366.1 442.1 362.3 441.3C358.5 440.5 355.7 440.1 352 440Z" fill="none" stroke="#4A7AC0" stroke-width="5.6" stroke-linecap="butt" stroke-linejoin="round"/>
<path d="M352 440C348.3 439.9 344 440.2 340 441C336 441.8 332 443.2 328 445C324 446.8 320 448.8 316 452C312 455.2 307.7 459.3 304 464C300.3 468.7 297 474.3 294 480C291 485.7 288.3 492 286 498C283.7 504 282 510.7 280 516C278 521.3 276 526.3 274 530C272 533.7 270.7 534.3 268 538C265.3 541.7 260.8 547.3 258 552C255.2 556.7 253.1 561.3 251 566C248.9 570.7 247.1 575.3 245.5 580C243.9 584.7 242.9 589 241.5 594C240.1 599 238.1 605 237 610C235.9 615 235 619.3 235 624C235 628.7 235.7 633 236.8 638C237.9 643 239.5 648.3 241.5 654C243.5 659.7 245.9 666.4 249 672C252.1 677.6 255.5 683 260 687.5C264.5 692 270.7 695.8 276 699C281.3 702.2 285.5 704.3 292 706.5C298.5 708.7 307.8 710.7 315 712C322.2 713.3 329 713.8 335 714.3C341 714.8 345.5 714.8 351 714.8C356.5 714.8 362.3 714.5 368 714C373.7 713.5 380.2 712.6 385 711.5C389.8 710.4 392.4 709.2 397 707.3C401.6 705.4 407 703.1 412.5 700C418 696.9 424.7 692.8 430 688.5C435.3 684.2 440.5 679.4 444.5 674C448.5 668.6 451.5 662 454 656C456.5 650 458.3 644 459.5 638C460.7 632 461.2 625.7 461 620C460.8 614.3 459.5 609 458.5 604C457.5 599 456.4 595 455 590C453.6 585 451.5 579 450 574C448.5 569 448 565.3 446 560C444 554.7 440.7 547.7 438 542C435.3 536.3 432.3 531.3 430 526C427.7 520.7 425.6 514.8 424 510C422.4 505.2 421.8 500.9 420.5 497C419.2 493.1 418 490.1 416.5 486.6C415 483.1 413.4 479.5 411.5 476.2C409.6 472.9 407.4 469.4 405.4 466.6C403.3 463.8 402.3 462.2 399.2 459.5C396.1 456.8 391 453.1 386.9 450.6C382.8 448.2 378.7 446.4 374.6 444.8C370.5 443.2 366.1 442.1 362.3 441.3C358.5 440.5 355.7 440.1 352 440Z" fill="none" stroke="#A3C6F0" stroke-width="3.8" stroke-linecap="butt" stroke-linejoin="round"/>
<clipPath id="ntE"><rect x="335.2" y="444.2" width="29.2" height="55" rx="13.5" ry="13.5"/></clipPath>
<rect x="335.2" y="444.2" width="29.2" height="55" rx="13.5" ry="13.5" fill="#A3C6F0" stroke="#4A7AC0" stroke-width="1.1"/>
<g clip-path="url(#ntE)"><path d="M336.6 456L345.5 456M354.1 456L363 456M336.6 458.9L344.6 458.9M355 458.9L363 458.9M336.6 461.8L343.9 461.8M355.7 461.8L363 461.8M336.6 464.7L343.5 464.7M356.1 464.7L363 464.7M336.6 467.6L343.2 467.6M356.4 467.6L363 467.6M336.6 470.5L343.1 470.5M356.5 470.5L363 470.5M336.6 473.4L343.2 473.4M356.4 473.4L363 473.4M336.6 476.3L343.6 476.3M356 476.3L363 476.3M336.6 479.2L344.2 479.2M355.4 479.2L363 479.2M336.6 482.1L344.9 482.1M354.7 482.1L363 482.1M336.6 485L345.9 485M353.7 485L363 485M336.6 487.9L347 487.9M352.6 487.9L363 487.9M336.6 490.8L348.5 490.8M351.1 490.8L363 490.8M346.7 454.2L337.9 453.5M352.9 488.7L361.7 490M347.4 452.5L340.4 449.1M352.2 490.1L359.2 494.4M348.5 451.4L344.7 446.1M351.1 491.1L354.9 497.4M349.8 451L349.8 445M349.8 491.5L349.8 498.5M351.1 451.4L354.9 446.1M348.5 491.1L344.7 497.4M352.2 452.5L359.2 449.1M347.4 490.1L340.4 494.4M352.9 454.2L361.7 453.5M346.7 488.7L337.9 490" stroke="#6790CC" stroke-width="0.55" fill="none"/></g>
<path d="M349.8 449.5C350.5 449.5 351.2 452.8 352 455C352.8 457.2 354.1 460.7 354.6 463C355.2 465.3 355.3 466.8 355.3 469C355.3 471.2 354.9 473.5 354.4 476C353.9 478.5 353 481.6 352.2 484C351.4 486.4 350.6 490.5 349.8 490.5C349 490.5 348.2 486.4 347.4 484C346.6 481.6 345.7 478.5 345.2 476C344.7 473.5 344.4 471.2 344.4 469C344.4 466.8 344.5 465.3 345 463C345.5 460.7 346.8 457.2 347.6 455C348.4 452.8 349.1 449.5 349.8 449.5Z" fill="#fff" stroke="#4A7AC0" stroke-width="0.9" stroke-linejoin="round" />
<circle cx="348.2" cy="511.2" r="5.1" fill="#D79283" stroke="#A84C43" stroke-width="1.1"/>
<path d="M327 460.5C326.2 461.8 323.8 465.1 322 468C320.2 470.9 317.8 474.3 316 478C314.2 481.7 312.8 485.8 311 490C309.2 494.2 307 498.8 305 503C303 507.2 300.7 511.6 299 515C297.3 518.4 295.7 522.1 295 523.5" fill="none" stroke="#CCA097" stroke-width="4.6" stroke-linecap="round" stroke-dasharray="2.5 1"/>
<path d="M327 460.5C326.2 461.8 323.8 465.1 322 468C320.2 470.9 317.8 474.3 316 478C314.2 481.7 312.8 485.8 311 490C309.2 494.2 307 498.8 305 503C303 507.2 300.7 511.6 299 515C297.3 518.4 295.7 522.1 295 523.5" fill="none" stroke="#E9CBC2" stroke-width="3.4" stroke-linecap="round"/>
<path d="M377.5 463.5C378.4 464.9 381.1 468.8 383 472C384.9 475.2 387 479.2 389 483C391 486.8 392.8 491 395 495C397.2 499 399.8 503.3 402 507C404.2 510.7 406.2 514 408 517C409.8 520 412.2 523.7 413 525" fill="none" stroke="#CCA097" stroke-width="4.6" stroke-linecap="round" stroke-dasharray="2.5 1"/>
<path d="M377.5 463.5C378.4 464.9 381.1 468.8 383 472C384.9 475.2 387 479.2 389 483C391 486.8 392.8 491 395 495C397.2 499 399.8 503.3 402 507C404.2 510.7 406.2 514 408 517C409.8 520 412.2 523.7 413 525" fill="none" stroke="#E9CBC2" stroke-width="3.4" stroke-linecap="round"/>
<path d="M340 534C341.5 533.4 346.9 532.9 349 533C351.1 533.1 356.3 533.6 358 534.5C359.7 535.4 362.8 539.2 363.5 541C364.2 542.8 364.2 547.8 364 550C363.8 552.2 363.1 558.2 362 560C360.9 561.8 356.9 564.8 355 565.5C353.1 566.2 348 566.3 346 566C344 565.7 339.4 564.3 338 563C336.6 561.7 334.4 557.1 334 555C333.6 552.9 334.3 547 334.5 545C334.7 543 335.4 539.3 336 538C336.6 536.7 338.5 534.6 340 534Z" fill="#fff" stroke="none" stroke-width="1" stroke-linejoin="round" />
<path d="M341 535.4C342.3 535.3 346.3 534.5 349 534.6C351.7 534.7 355.7 535.8 357 536" fill="none" stroke="#E7A59D" stroke-width="3.4" stroke-linecap="round"/>
<path d="M362.4 543C362.4 544.2 362.8 547.7 362.6 550C362.4 552.3 361.4 555.8 361.2 557" fill="none" stroke="#E7A59D" stroke-width="3.4" stroke-linecap="round"/>
<path d="M336.4 541C336.3 542.2 335.9 545.7 335.8 548C335.7 550.3 336 553.8 336 555" fill="none" stroke="#E7A59D" stroke-width="3.4" stroke-linecap="round"/>
<path d="M340 562.8C341 563.1 343.8 564.3 346 564.6C348.2 564.9 351.8 564.6 353 564.6" fill="none" stroke="#E7A59D" stroke-width="3.4" stroke-linecap="round"/>
<path d="M340 534C341.5 533.4 346.9 532.9 349 533C351.1 533.1 356.3 533.6 358 534.5C359.7 535.4 362.8 539.2 363.5 541C364.2 542.8 364.2 547.8 364 550C363.8 552.2 363.1 558.2 362 560C360.9 561.8 356.9 564.8 355 565.5C353.1 566.2 348 566.3 346 566C344 565.7 339.4 564.3 338 563C336.6 561.7 334.4 557.1 334 555C333.6 552.9 334.3 547 334.5 545C334.7 543 335.4 539.3 336 538C336.6 536.7 338.5 534.6 340 534Z" fill="none" stroke="#A3202E" stroke-width="1.4" stroke-linejoin="round" />
<ellipse cx="292.4" cy="558.6" rx="11" ry="4.6" fill="#E7A59D" stroke="#A3202E" stroke-width="1.3" transform="rotate(-22 292.4 558.6)"/>
<ellipse cx="291.1" cy="557.6" rx="7.7" ry="2.3" fill="#fff" transform="rotate(-22 292.4 558.6)"/>
<ellipse cx="403" cy="558.6" rx="11" ry="4.4" fill="#E7A59D" stroke="#A3202E" stroke-width="1.3" transform="rotate(18 403 558.6)"/>
<ellipse cx="401.7" cy="557.6" rx="7.7" ry="2.2" fill="#fff" transform="rotate(18 403 558.6)"/>
<ellipse cx="282.9" cy="575.5" rx="9.4" ry="4.7" fill="#D0CC9B" stroke="#7C7840" stroke-width="0.9" transform="rotate(25 282.9 575.5)"/>
<ellipse cx="282.9" cy="575.5" rx="4.2" ry="2.1" fill="#EFECCF" stroke="#7C7840" stroke-width="0.6" transform="rotate(25 282.9 575.5)"/>
<path d="M286.9 576.1L291.4 576.8M283.8 577.6L284.9 579.9M279.8 576.9L276.3 578.5M278.9 574.9L274.4 574.2M282 573.4L280.9 571.1M286 574.1L289.5 572.5" stroke="#7C7840" stroke-width="0.4" fill="none" transform="rotate(25 282.9 575.5)"/>
<ellipse cx="297.1" cy="573.1" rx="5.6" ry="3.9" fill="#D0CC9B" stroke="#7C7840" stroke-width="0.9" transform="rotate(-5 297.1 573.1)"/>
<ellipse cx="297.1" cy="573.1" rx="2.5" ry="1.8" fill="#EFECCF" stroke="#7C7840" stroke-width="0.6" transform="rotate(-5 297.1 573.1)"/>
<path d="M299.5 573.6L302.2 574.2M297.7 574.8L298.3 576.7M295.3 574.3L293.2 575.6M294.7 572.6L292 572M296.5 571.4L295.9 569.5M298.9 571.9L301 570.6" stroke="#7C7840" stroke-width="0.4" fill="none" transform="rotate(-5 297.1 573.1)"/>
<ellipse cx="311.8" cy="574.9" rx="6.3" ry="5.2" fill="#D0CC9B" stroke="#7C7840" stroke-width="0.9" transform="rotate(15 311.8 574.9)"/>
<ellipse cx="311.8" cy="574.9" rx="2.8" ry="2.3" fill="#EFECCF" stroke="#7C7840" stroke-width="0.6" transform="rotate(15 311.8 574.9)"/>
<path d="M314.5 575.6L317.5 576.4M312.4 577.2L313.1 579.7M309.7 576.5L307.4 578.3M309.1 574.2L306.1 573.4M311.2 572.6L310.5 570.1M313.9 573.3L316.2 571.5" stroke="#7C7840" stroke-width="0.4" fill="none" transform="rotate(15 311.8 574.9)"/>
<ellipse cx="324.8" cy="578.6" rx="8" ry="4.4" fill="#D0CC9B" stroke="#7C7840" stroke-width="0.9" transform="rotate(-30 324.8 578.6)"/>
<ellipse cx="324.8" cy="578.6" rx="3.6" ry="2" fill="#EFECCF" stroke="#7C7840" stroke-width="0.6" transform="rotate(-30 324.8 578.6)"/>
<path d="M328.2 579.2L332.1 579.8M325.6 580.5L326.5 582.7M322.2 579.9L319.2 581.4M321.4 578L317.5 577.4M324 576.7L323.1 574.5M327.4 577.3L330.4 575.8" stroke="#7C7840" stroke-width="0.4" fill="none" transform="rotate(-30 324.8 578.6)"/>
<ellipse cx="274.3" cy="585.4" rx="4.7" ry="6.8" fill="#D0CC9B" stroke="#7C7840" stroke-width="0.9" transform="rotate(-10 274.3 585.4)"/>
<ellipse cx="274.3" cy="585.4" rx="2.1" ry="3.1" fill="#EFECCF" stroke="#7C7840" stroke-width="0.6" transform="rotate(-10 274.3 585.4)"/>
<path d="M276.3 586.3L278.6 587.3M274.8 588.4L275.3 591.7M272.7 587.5L271 589.8M272.3 584.5L270 583.5M273.8 582.4L273.3 579.1M275.9 583.3L277.6 581" stroke="#7C7840" stroke-width="0.4" fill="none" transform="rotate(-10 274.3 585.4)"/>
<ellipse cx="297.1" cy="584.8" rx="7" ry="4" fill="#D0CC9B" stroke="#7C7840" stroke-width="0.9" transform="rotate(-60 297.1 584.8)"/>
<ellipse cx="297.1" cy="584.8" rx="3.1" ry="1.8" fill="#EFECCF" stroke="#7C7840" stroke-width="0.6" transform="rotate(-60 297.1 584.8)"/>
<path d="M300.1 585.3L303.5 585.9M297.8 586.6L298.6 588.5M294.8 586L292.2 587.4M294.1 584.3L290.7 583.7M296.4 583L295.6 581.1M299.4 583.6L302 582.2" stroke="#7C7840" stroke-width="0.4" fill="none" transform="rotate(-60 297.1 584.8)"/>
<ellipse cx="310" cy="586.3" rx="6.8" ry="4.8" fill="#D0CC9B" stroke="#7C7840" stroke-width="0.9" transform="rotate(0 310 586.3)"/>
<ellipse cx="310" cy="586.3" rx="3.1" ry="2.2" fill="#EFECCF" stroke="#7C7840" stroke-width="0.6" transform="rotate(0 310 586.3)"/>
<path d="M312.9 586.9L316.2 587.6M310.7 588.4L311.4 590.7M307.8 587.8L305.3 589.4M307.1 585.7L303.8 585M309.3 584.2L308.6 581.9M312.2 584.8L314.7 583.2" stroke="#7C7840" stroke-width="0.4" fill="none" transform="rotate(0 310 586.3)"/>
<ellipse cx="284.8" cy="592.2" rx="6.2" ry="6.6" fill="#D0CC9B" stroke="#7C7840" stroke-width="0.9" transform="rotate(0 284.8 592.2)"/>
<ellipse cx="284.8" cy="592.2" rx="2.8" ry="3" fill="#EFECCF" stroke="#7C7840" stroke-width="0.6" transform="rotate(0 284.8 592.2)"/>
<path d="M287.5 593.1L290.4 594.1M285.4 595.1L286.1 598.3M282.8 594.2L280.5 596.5M282.1 591.3L279.2 590.3M284.2 589.3L283.5 586.1M286.8 590.2L289.1 587.9" stroke="#7C7840" stroke-width="0.4" fill="none" transform="rotate(0 284.8 592.2)"/>
<ellipse cx="302.6" cy="595.2" rx="7.4" ry="4.4" fill="#D0CC9B" stroke="#7C7840" stroke-width="0.9" transform="rotate(-58 302.6 595.2)"/>
<ellipse cx="302.6" cy="595.2" rx="3.3" ry="2" fill="#EFECCF" stroke="#7C7840" stroke-width="0.6" transform="rotate(-58 302.6 595.2)"/>
<path d="M305.8 595.8L309.3 596.4M303.3 597.1L304.2 599.3M300.2 596.5L297.4 598M299.4 594.6L295.9 594M301.9 593.3L301 591.1M305 593.9L307.8 592.4" stroke="#7C7840" stroke-width="0.4" fill="none" transform="rotate(-58 302.6 595.2)"/>
<ellipse cx="288.5" cy="601.6" rx="5.6" ry="2.6" fill="#D0CC9B" stroke="#7C7840" stroke-width="0.9" transform="rotate(-5 288.5 601.6)"/>
<ellipse cx="288.5" cy="601.6" rx="2.5" ry="1.2" fill="#EFECCF" stroke="#7C7840" stroke-width="0.6" transform="rotate(-5 288.5 601.6)"/>
<path d="M290.9 601.9L293.6 602.3M289.1 602.7L289.7 604M286.7 602.4L284.6 603.3M286.1 601.3L283.4 600.9M287.9 600.5L287.3 599.2M290.3 600.8L292.4 599.9" stroke="#7C7840" stroke-width="0.4" fill="none" transform="rotate(-5 288.5 601.6)"/>
<ellipse cx="404" cy="575" rx="6" ry="5" fill="#D0CC9B" stroke="#7C7840" stroke-width="0.9" transform="rotate(-20 404 575)"/>
<ellipse cx="404" cy="575" rx="2.7" ry="2.2" fill="#EFECCF" stroke="#7C7840" stroke-width="0.6" transform="rotate(-20 404 575)"/>
<path d="M406.6 575.7L409.4 576.4M404.6 577.2L405.3 579.6M402 576.5L399.8 578.2M401.4 574.3L398.6 573.6M403.4 572.8L402.7 570.4M406 573.5L408.2 571.8" stroke="#7C7840" stroke-width="0.4" fill="none" transform="rotate(-20 404 575)"/>
<ellipse cx="415.5" cy="579" rx="5" ry="3.8" fill="#D0CC9B" stroke="#7C7840" stroke-width="0.9" transform="rotate(0 415.5 579)"/>
<ellipse cx="415.5" cy="579" rx="2.2" ry="1.7" fill="#EFECCF" stroke="#7C7840" stroke-width="0.6" transform="rotate(0 415.5 579)"/>
<path d="M417.6 579.5L420 580.1M416 580.7L416.6 582.5M413.8 580.2L412 581.5M413.4 578.5L411 577.9M415 577.3L414.4 575.5M417.2 577.8L419 576.5" stroke="#7C7840" stroke-width="0.4" fill="none" transform="rotate(0 415.5 579)"/>
<ellipse cx="369" cy="580" rx="7" ry="4.4" fill="#D0CC9B" stroke="#7C7840" stroke-width="0.9" transform="rotate(35 369 580)"/>
<ellipse cx="369" cy="580" rx="3.1" ry="2" fill="#EFECCF" stroke="#7C7840" stroke-width="0.6" transform="rotate(35 369 580)"/>
<path d="M372 580.6L375.4 581.2M369.7 581.9L370.5 584.1M366.7 581.3L364.1 582.8M366 579.4L362.6 578.8M368.3 578.1L367.5 575.9M371.3 578.7L373.9 577.2" stroke="#7C7840" stroke-width="0.4" fill="none" transform="rotate(35 369 580)"/>
<ellipse cx="383" cy="582" rx="5" ry="6" fill="#D0CC9B" stroke="#7C7840" stroke-width="0.9" transform="rotate(-25 383 582)"/>
<ellipse cx="383" cy="582" rx="2.2" ry="2.7" fill="#EFECCF" stroke="#7C7840" stroke-width="0.6" transform="rotate(-25 383 582)"/>
<path d="M385.1 582.8L387.5 583.7M383.5 584.6L384.1 587.6M381.3 583.8L379.5 585.9M380.9 581.2L378.5 580.3M382.5 579.4L381.9 576.4M384.7 580.2L386.5 578.1" stroke="#7C7840" stroke-width="0.4" fill="none" transform="rotate(-25 383 582)"/>
<ellipse cx="395" cy="585" rx="5.6" ry="4.6" fill="#D0CC9B" stroke="#7C7840" stroke-width="0.9" transform="rotate(-10 395 585)"/>
<ellipse cx="395" cy="585" rx="2.5" ry="2.1" fill="#EFECCF" stroke="#7C7840" stroke-width="0.6" transform="rotate(-10 395 585)"/>
<path d="M397.4 585.6L400.1 586.3M395.6 587L396.2 589.3M393.2 586.4L391.1 588M392.6 584.4L389.9 583.7M394.4 583L393.8 580.7M396.8 583.6L398.9 582" stroke="#7C7840" stroke-width="0.4" fill="none" transform="rotate(-10 395 585)"/>
<ellipse cx="406" cy="587" rx="4.6" ry="5.6" fill="#D0CC9B" stroke="#7C7840" stroke-width="0.9" transform="rotate(0 406 587)"/>
<ellipse cx="406" cy="587" rx="2.1" ry="2.5" fill="#EFECCF" stroke="#7C7840" stroke-width="0.6" transform="rotate(0 406 587)"/>
<path d="M408 587.7L410.2 588.6M406.5 589.5L407 592.2M404.5 588.7L402.8 590.6M404 586.3L401.8 585.4M405.5 584.5L405 581.8M407.5 585.3L409.2 583.4" stroke="#7C7840" stroke-width="0.4" fill="none" transform="rotate(0 406 587)"/>
<ellipse cx="417" cy="589" rx="5" ry="3.6" fill="#D0CC9B" stroke="#7C7840" stroke-width="0.9" transform="rotate(10 417 589)"/>
<ellipse cx="417" cy="589" rx="2.2" ry="1.6" fill="#EFECCF" stroke="#7C7840" stroke-width="0.6" transform="rotate(10 417 589)"/>
<path d="M419.1 589.5L421.5 590M417.5 590.6L418.1 592.3M415.3 590.1L413.5 591.3M414.9 588.5L412.5 588M416.5 587.4L415.9 585.7M418.7 587.9L420.5 586.7" stroke="#7C7840" stroke-width="0.4" fill="none" transform="rotate(10 417 589)"/>
<ellipse cx="377" cy="591" rx="6.6" ry="4.4" fill="#D0CC9B" stroke="#7C7840" stroke-width="0.9" transform="rotate(30 377 591)"/>
<ellipse cx="377" cy="591" rx="3" ry="2" fill="#EFECCF" stroke="#7C7840" stroke-width="0.6" transform="rotate(30 377 591)"/>
<path d="M379.8 591.6L383 592.2M377.7 592.9L378.4 595.1M374.8 592.3L372.4 593.8M374.2 590.4L371 589.8M376.3 589.1L375.6 586.9M379.2 589.7L381.6 588.2" stroke="#7C7840" stroke-width="0.4" fill="none" transform="rotate(30 377 591)"/>
<ellipse cx="388" cy="595" rx="4.4" ry="6" fill="#D0CC9B" stroke="#7C7840" stroke-width="0.9" transform="rotate(-10 388 595)"/>
<ellipse cx="388" cy="595" rx="2" ry="2.7" fill="#EFECCF" stroke="#7C7840" stroke-width="0.6" transform="rotate(-10 388 595)"/>
<path d="M389.9 595.8L392 596.7M388.4 597.6L388.9 600.6M386.5 596.8L384.9 598.9M386.1 594.2L384 593.3M387.6 592.4L387.1 589.4M389.5 593.2L391.1 591.1" stroke="#7C7840" stroke-width="0.4" fill="none" transform="rotate(-10 388 595)"/>
<ellipse cx="398" cy="595" rx="4.8" ry="5.6" fill="#D0CC9B" stroke="#7C7840" stroke-width="0.9" transform="rotate(20 398 595)"/>
<ellipse cx="398" cy="595" rx="2.2" ry="2.5" fill="#EFECCF" stroke="#7C7840" stroke-width="0.6" transform="rotate(20 398 595)"/>
<path d="M400.1 595.7L402.4 596.6M398.5 597.5L399 600.2M396.4 596.7L394.7 598.6M395.9 594.3L393.6 593.4M397.5 592.5L397 589.8M399.6 593.3L401.3 591.4" stroke="#7C7840" stroke-width="0.4" fill="none" transform="rotate(20 398 595)"/>
<ellipse cx="409" cy="598.5" rx="6" ry="4.2" fill="#D0CC9B" stroke="#7C7840" stroke-width="0.9" transform="rotate(-5 409 598.5)"/>
<ellipse cx="409" cy="598.5" rx="2.7" ry="1.9" fill="#EFECCF" stroke="#7C7840" stroke-width="0.6" transform="rotate(-5 409 598.5)"/>
<path d="M411.6 599.1L414.4 599.7M409.6 600.3L410.3 602.4M407 599.8L404.8 601.2M406.4 597.9L403.6 597.3M408.4 596.7L407.7 594.6M411 597.2L413.2 595.8" stroke="#7C7840" stroke-width="0.4" fill="none" transform="rotate(-5 409 598.5)"/>
<circle cx="320.5" cy="596.5" r="7.6" fill="#fff" stroke="none" stroke-width="1"/>
<g fill="#A3202E"><circle cx="314.8" cy="598.5" r="0.75"/><circle cx="316.5" cy="598.1" r="0.75"/><circle cx="318.5" cy="597.6" r="0.75"/><circle cx="313.8" cy="596" r="0.75"/><circle cx="316.8" cy="601.2" r="0.75"/><circle cx="315.6" cy="594.6" r="0.75"/><circle cx="323" cy="601.1" r="0.75"/><circle cx="319.3" cy="596.5" r="0.75"/><circle cx="324.6" cy="591.4" r="0.75"/><circle cx="317.8" cy="593.7" r="0.75"/><circle cx="315.7" cy="591.3" r="0.75"/><circle cx="313.6" cy="598.6" r="0.75"/><circle cx="322.1" cy="593.8" r="0.75"/><circle cx="318.6" cy="597.7" r="0.75"/><circle cx="315" cy="594.2" r="0.75"/><circle cx="315.9" cy="597.1" r="0.75"/><circle cx="317.3" cy="597.5" r="0.75"/><circle cx="326.3" cy="595" r="0.75"/><circle cx="324.3" cy="593.7" r="0.75"/><circle cx="318" cy="598.5" r="0.75"/><circle cx="319.4" cy="598.8" r="0.75"/><circle cx="320.6" cy="601.4" r="0.75"/><circle cx="320.8" cy="591.5" r="0.75"/><circle cx="315.5" cy="595.9" r="0.75"/><circle cx="327" cy="594.8" r="0.75"/><circle cx="317.3" cy="590.2" r="0.75"/><circle cx="320.5" cy="603.6" r="0.75"/><circle cx="319.1" cy="598.7" r="0.75"/><circle cx="317.5" cy="594.7" r="0.75"/><circle cx="323.8" cy="591.2" r="0.75"/><circle cx="322.9" cy="594" r="0.75"/><circle cx="322" cy="598.5" r="0.75"/><circle cx="321.7" cy="591.9" r="0.75"/><circle cx="320.3" cy="592.3" r="0.75"/></g>
<path d="M313 598.5a8 8 0 0 0 15 2" fill="none" stroke="#A3202E" stroke-width="1.2" stroke-dasharray="2 1.4"/>
<circle cx="377.5" cy="601" r="7.6" fill="#fff" stroke="none" stroke-width="1"/>
<g fill="#A3202E"><circle cx="377.6" cy="603.3" r="0.75"/><circle cx="379.6" cy="600.5" r="0.75"/><circle cx="380.8" cy="595.3" r="0.75"/><circle cx="373.1" cy="601.6" r="0.75"/><circle cx="379.2" cy="598.3" r="0.75"/><circle cx="376.1" cy="600.7" r="0.75"/><circle cx="375.8" cy="608.4" r="0.75"/><circle cx="380.4" cy="600.8" r="0.75"/><circle cx="372.9" cy="598.7" r="0.75"/><circle cx="376.1" cy="603.9" r="0.75"/><circle cx="370.3" cy="599.8" r="0.75"/><circle cx="379.9" cy="596.5" r="0.75"/><circle cx="370.3" cy="602.7" r="0.75"/><circle cx="377.9" cy="607.4" r="0.75"/><circle cx="381.6" cy="603.9" r="0.75"/><circle cx="383" cy="598.5" r="0.75"/><circle cx="371.6" cy="604.4" r="0.75"/><circle cx="380.5" cy="596.8" r="0.75"/><circle cx="381" cy="606.8" r="0.75"/><circle cx="383.8" cy="603" r="0.75"/><circle cx="384.4" cy="602.1" r="0.75"/><circle cx="373.6" cy="594.7" r="0.75"/><circle cx="378.9" cy="599.6" r="0.75"/><circle cx="375.9" cy="595.4" r="0.75"/><circle cx="381.4" cy="602.4" r="0.75"/><circle cx="372.4" cy="602.9" r="0.75"/><circle cx="379" cy="605.7" r="0.75"/><circle cx="377.8" cy="603.5" r="0.75"/><circle cx="382" cy="598.3" r="0.75"/><circle cx="377.4" cy="603.2" r="0.75"/><circle cx="378.6" cy="597.2" r="0.75"/><circle cx="376.7" cy="607.3" r="0.75"/><circle cx="380.6" cy="603.2" r="0.75"/><circle cx="382.5" cy="598.7" r="0.75"/></g>
<path d="M370 603a8 8 0 0 0 15 2" fill="none" stroke="#A3202E" stroke-width="1.2" stroke-dasharray="2 1.4"/>
<circle cx="343.6" cy="629" r="14" fill="#F8E78C" stroke="#E2CC55" stroke-width="0.8"/>
<path d="M353 629.9L356.9 630.3M352.6 631.9L356.4 633.1M351.8 633.7L355.2 635.6M350.6 635.3L353.6 637.9M349.2 636.6L351.5 639.8M347.5 637.6L349.1 641.2M345.6 638.2L346.4 642.1M343.6 638.4L343.7 642.4M341.7 638.2L340.9 642.1M339.8 637.6L338.2 641.3M338.1 636.6L335.8 639.9M336.6 635.3L333.7 638M335.5 633.7L332 635.8M334.7 631.9L330.9 633.2M334.3 630L330.3 630.5M334.2 628.1L330.3 627.7M334.6 626.1L330.8 624.9M335.4 624.3L332 622.4M336.6 622.7L333.6 620.1M338 621.4L335.7 618.2M339.7 620.4L338.1 616.8M341.6 619.8L340.8 615.9M343.6 619.6L343.5 615.6M345.5 619.8L346.3 615.9M347.4 620.4L349 616.7M349.1 621.4L351.4 618.1M350.6 622.7L353.5 620M351.7 624.3L355.2 622.2M352.5 626.1L356.3 624.8M352.9 628L356.9 627.5" stroke="#E0CB58" stroke-width="0.5" fill="none"/>
<circle cx="343.6" cy="629" r="8.8" fill="#fff" stroke="#E2CC55" stroke-width="0.8"/>
<!-- labels -->
<text x="12" y="42.5" text-anchor="start" font-size="12.1">Extraembryonic</text>
<text x="12" y="56.3" text-anchor="start" font-size="12.1">coelom</text>
<text x="349.3" y="10.1" text-anchor="middle" font-size="12.1">Somatopleure</text>
<text x="349.5" y="24" text-anchor="middle" font-size="12.1">of amnion</text>
<text x="349.7" y="61" text-anchor="middle" font-size="12.1">Neural groove</text>
<text x="349.3" y="99.8" text-anchor="middle" font-size="12.1">Somite</text>
<text x="349.8" y="128.7" text-anchor="middle" font-size="12.1">Intraembryonic</text>
<text x="349.6" y="142.4" text-anchor="middle" font-size="12.1">coelom</text>
<text x="349.5" y="170.6" text-anchor="middle" font-size="12.1">Wall of</text>
<text x="349" y="184.6" text-anchor="middle" font-size="12.1">yolk sac</text>
<text x="97" y="163.8" text-anchor="middle" font-size="14.5">A</text>
<text x="482.3" y="163.6" text-anchor="middle" font-size="14.5">B</text>
<text x="349.5" y="237.6" text-anchor="middle" font-size="12.1">Dorsal aorta</text>
<text x="349" y="263.7" text-anchor="middle" font-size="12.1">Mesonephros</text>
<text x="350" y="307.2" text-anchor="middle" font-size="12.1">Intraembryonic</text>
<text x="350" y="320.4" text-anchor="middle" font-size="12.1">coelom</text>
<text x="349.5" y="342.2" text-anchor="middle" font-size="12.1">Gut</text>
<text x="350.3" y="380.3" text-anchor="middle" font-size="12.1">Splanchnic</text>
<text x="350.3" y="393.5" text-anchor="middle" font-size="12.1">mesoderm</text>
<text x="364" y="418" text-anchor="start" font-size="12.1">Ventral</text>
<text x="364.3" y="431" text-anchor="start" font-size="12.1">mesentery</text>
<text x="19.5" y="295.8" text-anchor="start" font-size="12.1">Somatopleure</text>
<text x="19.5" y="309.4" text-anchor="start" font-size="12.1">of body wall</text>
<text x="22.6" y="409.5" text-anchor="start" font-size="12.1">Amnion</text>
<text x="0.5" y="431.7" text-anchor="start" font-size="12.1">Extraembryonic</text>
<text x="0" y="444.7" text-anchor="start" font-size="12.1">coelom</text>
<text x="63.5" y="459.3" text-anchor="start" font-size="12.1">Wall of</text>
<text x="64" y="473.5" text-anchor="start" font-size="12.1">yolk sac</text>
<text x="157.2" y="446.3" text-anchor="middle" font-size="14.5">C</text>
<text x="509.6" y="446.2" text-anchor="middle" font-size="14.5">D</text>
<text x="412.5" y="453" text-anchor="start" font-size="12.1">Neural tube</text>
<text x="455.8" y="502.8" text-anchor="start" font-size="12.1">Notochord</text>
<text x="488" y="558.6" text-anchor="start" font-size="12.1">Dorsal aorta</text>
<text x="486.3" y="607.7" text-anchor="start" font-size="12.1">Mesonephros</text>
<text x="140" y="637.2" text-anchor="start" font-size="12.1">Genital ridge</text>
<text x="480" y="666.3" text-anchor="start" font-size="12.1">Coelom</text>
<text x="203.1" y="687" text-anchor="start" font-size="12.1">Gut</text>
<text x="176.7" y="718.5" text-anchor="start" font-size="12.1">Right and left</text>
<text x="176.7" y="731.8" text-anchor="start" font-size="12.1">coelom confluent</text>
<text x="454.8" y="704.4" text-anchor="middle" font-size="14.5">E</text>
<path d="M50.8 52.9L95 109.5" stroke="#151515" stroke-width="1.3" fill="none" stroke-linecap="round"/>
<path d="M197.3 26.5C197.6 26.1 198.5 24.9 199.3 24.4C200.1 23.9 201.3 23.5 202.3 23.4C203.3 23.2 204.6 23.2 205.5 23.5C206.4 23.8 207 24.1 207.6 25C208.2 25.9 208.7 27.9 208.8 29.2C208.9 30.5 208.7 31.8 208.4 33C208.1 34.2 207.6 35.2 207 36.2C206.4 37.2 205.8 38.1 205 39C204.2 39.9 203.2 40.8 202.3 41.5C201.4 42.2 200.5 42.8 199.5 43.3C198.5 43.8 197.2 44.1 196.2 44.2C195.2 44.3 194.2 44 193.5 43.8C192.8 43.5 192.4 43.3 192 42.7C191.6 42.1 191.3 40.8 191.2 40.4" stroke="#151515" stroke-width="1.3" fill="none" stroke-linecap="round"/>
<path d="M310 15L206.5 23.7" stroke="#151515" stroke-width="1.3" fill="none" stroke-linecap="round"/>
<path d="M307.2 56.6L185 85" stroke="#151515" stroke-width="1.3" fill="none" stroke-linecap="round"/>
<path d="M324.5 96.7L214 95.6" stroke="#151515" stroke-width="1.3" fill="none" stroke-linecap="round"/>
<path d="M323.2 140.3L240 110" stroke="#151515" stroke-width="1.3" fill="none" stroke-linecap="round"/>
<path d="M277.7 133.9C278.1 133.7 279.2 132.7 280 132.4C280.8 132.1 281.5 131.9 282.3 132C283.1 132.1 284.2 132.4 284.8 133C285.4 133.6 285.9 134.7 286 135.7C286.1 136.7 285.7 137.9 285.2 139C284.7 140.1 284 141.2 283.2 142.2C282.4 143.2 281.4 144.3 280.5 145.2C279.6 146.1 278.8 146.9 277.7 147.7C276.6 148.5 275.2 149.4 274 150C272.8 150.6 271.4 151.1 270.3 151.4C269.2 151.7 268.3 151.7 267.5 151.6C266.7 151.5 266.1 151.6 265.7 151C265.2 150.4 264.6 149 264.8 148.2C265 147.3 266.3 146.3 266.6 145.9" stroke="#151515" stroke-width="1.3" fill="none" stroke-linecap="round"/>
<path d="M329.4 167.4L281.4 145" stroke="#151515" stroke-width="1.3" fill="none" stroke-linecap="round"/>
<path d="M457.7 25.8C457.5 25.6 456.8 24.8 456.3 24.4C455.8 24 455.2 23.8 454.6 23.6C454 23.4 453.4 23.2 452.8 23.3C452.2 23.4 451.7 23.4 451.3 23.9C450.9 24.4 450.5 25.3 450.4 26.2C450.3 27.1 450.4 28 450.6 29C450.8 30 451.1 31.3 451.5 32.3C451.9 33.3 452.2 34.1 452.7 35C453.1 35.9 453.6 36.9 454.2 37.7C454.8 38.5 455.4 39.3 456 40C456.6 40.7 457.3 41.4 458 41.9C458.7 42.4 459.3 42.8 460 43.1C460.7 43.4 461.4 43.6 462 43.7C462.6 43.8 463 43.7 463.4 43.5C463.8 43.3 464 43.3 464.2 42.7C464.4 42.1 464.5 40.5 464.6 40" stroke="#151515" stroke-width="1.3" fill="none" stroke-linecap="round"/>
<path d="M383 16L451 24" stroke="#151515" stroke-width="1.3" fill="none" stroke-linecap="round"/>
<path d="M394.7 57.9L523 83" stroke="#151515" stroke-width="1.3" fill="none" stroke-linecap="round"/>
<path d="M373.7 97.2L480 91" stroke="#151515" stroke-width="1.3" fill="none" stroke-linecap="round"/>
<path d="M371 140L460 115" stroke="#151515" stroke-width="1.3" fill="none" stroke-linecap="round"/>
<path d="M427.3 157.1C426.9 156.8 425.8 155.8 425 155.3C424.2 154.8 423.5 154.5 422.7 154.3C421.9 154.1 421.1 154 420.4 154.1C419.7 154.2 419 154.1 418.5 154.8C418 155.5 417.3 157.4 417.2 158.5C417.1 159.6 417.5 160.4 417.8 161.3C418.1 162.2 418.5 163.1 419 164C419.5 164.9 420.2 165.9 421 166.8C421.8 167.7 422.7 168.7 423.6 169.5C424.5 170.3 425.4 171.1 426.3 171.8C427.2 172.5 428.3 173.2 429.2 173.7C430.1 174.2 430.8 174.7 431.6 175C432.4 175.3 433.1 175.5 433.8 175.5C434.5 175.5 435.1 175.3 435.6 175C436.1 174.7 436.4 174.3 436.6 173.7C436.8 173.1 437 172.3 437 171.6C437 170.9 436.8 170.2 436.6 169.5C436.4 168.8 435.8 168 435.6 167.7" stroke="#151515" stroke-width="1.3" fill="none" stroke-linecap="round"/>
<path d="M373.7 181L418 163.8" stroke="#151515" stroke-width="1.3" fill="none" stroke-linecap="round"/>
<path d="M100.8 318.9C100.5 318.8 99.8 318.1 99.2 318C98.7 317.9 98.1 317.9 97.5 318C96.9 318.1 96.2 318.4 95.8 318.7C95.3 319 95 319.4 94.8 319.9C94.6 320.4 94.4 321.1 94.4 321.7C94.4 322.3 94.5 322.8 94.8 323.5C95.1 324.2 95.7 325.3 96.3 326.2C96.9 327.1 97.7 327.8 98.5 328.6C99.3 329.4 100.1 330.1 101 330.8C101.9 331.5 103 332.2 104 332.8C105 333.4 106.1 333.8 107.2 334.2C108.3 334.6 109.5 334.9 110.5 335.1C111.5 335.3 112.4 335.4 113.2 335.4C114 335.4 114.9 335.2 115.5 334.9C116.1 334.6 116.7 334.2 117 333.8C117.3 333.4 117.4 332.9 117.4 332.3C117.4 331.7 117.1 330.9 116.8 330.2C116.5 329.5 116 328.8 115.5 328.2C115 327.6 114 327 113.7 326.8" stroke="#151515" stroke-width="1.3" fill="none" stroke-linecap="round"/>
<path d="M83.7 307L95.2 319.4" stroke="#151515" stroke-width="1.3" fill="none" stroke-linecap="round"/>
<path d="M67.7 405.9L90 401.7" stroke="#151515" stroke-width="1.3" fill="none" stroke-linecap="round"/>
<path d="M87.4 426.8L114.5 415.7" stroke="#151515" stroke-width="1.3" fill="none" stroke-linecap="round"/>
<path d="M109 468L147.8 421.4" stroke="#151515" stroke-width="1.3" fill="none" stroke-linecap="round"/>
<path d="M311 235.8L197 321" stroke="#151515" stroke-width="1.3" fill="none" stroke-linecap="round"/>
<path d="M307 260L225 327" stroke="#151515" stroke-width="1.3" fill="none" stroke-linecap="round"/>
<path d="M305.3 304.8L244 339.6" stroke="#151515" stroke-width="1.3" fill="none" stroke-linecap="round"/>
<path d="M335.5 338.5L177.5 369.5" stroke="#151515" stroke-width="1.3" fill="none" stroke-linecap="round"/>
<path d="M180.3 385.9C180.1 385.6 179.4 384.9 179.2 384.4C179 383.8 178.8 383.2 178.9 382.6C179 382 179.2 381.4 179.6 381C180 380.6 180.5 380.3 181.2 380.1C181.8 379.9 182.7 379.8 183.5 379.8C184.3 379.8 185 379.9 185.9 380.1C186.8 380.3 187.8 380.7 188.7 381.1C189.6 381.5 190.6 382.1 191.4 382.6C192.2 383.1 193 383.6 193.8 384.1C194.6 384.7 195.4 385.3 196 385.9C196.6 386.5 197 387.1 197.3 387.7C197.6 388.3 197.7 388.9 197.7 389.5C197.7 390.1 197.7 390.7 197.5 391.2C197.3 391.7 196.9 392.1 196.5 392.3C196.1 392.6 195.7 392.7 195.3 392.7C194.9 392.7 194.4 392.6 194.2 392.3C194 392.1 193.9 391.6 194 391.2C194.1 390.8 194.5 390.2 194.6 390" stroke="#151515" stroke-width="1.3" fill="none" stroke-linecap="round"/>
<path d="M316.6 391.4L195.1 384.5" stroke="#151515" stroke-width="1.3" fill="none" stroke-linecap="round"/>
<path d="M389.7 235.8L529 281" stroke="#151515" stroke-width="1.3" fill="none" stroke-linecap="round"/>
<path d="M391 261.2L486 300" stroke="#151515" stroke-width="1.3" fill="none" stroke-linecap="round"/>
<path d="M394.6 304.8L466 321.5" stroke="#151515" stroke-width="1.3" fill="none" stroke-linecap="round"/>
<path d="M365 339.2L532.1 351.8" stroke="#151515" stroke-width="1.3" fill="none" stroke-linecap="round"/>
<path d="M383 391.4L495.6 381.7" stroke="#151515" stroke-width="1.3" fill="none" stroke-linecap="round"/>
<path d="M495.6 381.7L526.5 383.4" stroke="#151515" stroke-width="1.3" fill="none" stroke-linecap="round"/>
<path d="M495.6 381.7C498.5 380.5 509.9 375.8 512.7 374.6" stroke="#151515" stroke-width="1.3" fill="none" stroke-linecap="round"/>
<path d="M532.6 361.2C532.6 360.9 532.8 359.9 532.7 359.4C532.6 358.9 532.4 358.4 532.1 358C531.8 357.6 531.5 357.1 531 356.8C530.5 356.5 530 356.3 529.3 356.2C528.6 356.1 527.8 356.1 527 356.3C526.2 356.5 525.5 356.7 524.7 357.1C523.9 357.5 522.9 358.1 522 358.8C521.1 359.5 520.1 360.3 519.2 361.2C518.3 362.1 517.5 363.1 516.7 364C515.9 364.9 515.1 365.9 514.5 366.8C513.9 367.7 513.4 368.4 513 369.2C512.6 370 512.4 370.7 512.2 371.4C512 372.1 511.9 372.8 512 373.3C512.1 373.8 512.4 374.2 512.7 374.6C513 375 513.5 375.3 514 375.5C514.5 375.7 514.9 375.8 515.5 375.8C516.1 375.8 516.9 375.7 517.5 375.5C518.1 375.3 518.8 375.1 519.2 374.6C519.6 374.2 520 373.1 520.1 372.8" stroke="#151515" stroke-width="1.3" fill="none" stroke-linecap="round"/>
<path d="M422.4 427L533 391.6" stroke="#151515" stroke-width="1.3" fill="none" stroke-linecap="round"/>
<path d="M410 448.5L347 469.6" stroke="#151515" stroke-width="1.3" fill="none" stroke-linecap="round"/>
<path d="M453 499.5L349 511.6" stroke="#151515" stroke-width="1.3" fill="none" stroke-linecap="round"/>
<path d="M485 554.5L348 550" stroke="#151515" stroke-width="1.3" fill="none" stroke-linecap="round"/>
<path d="M484 604L396 584" stroke="#151515" stroke-width="1.3" fill="none" stroke-linecap="round"/>
<path d="M211 635.5L317 605.6" stroke="#151515" stroke-width="1.3" fill="none" stroke-linecap="round"/>
<path d="M478 663L423 639.6" stroke="#151515" stroke-width="1.3" fill="none" stroke-linecap="round"/>
<path d="M226 683L342 629" stroke="#151515" stroke-width="1.3" fill="none" stroke-linecap="round"/>
<path d="M270 730L326 679" stroke="#151515" stroke-width="1.3" fill="none" stroke-linecap="round"/>
</svg>
</body></html>
